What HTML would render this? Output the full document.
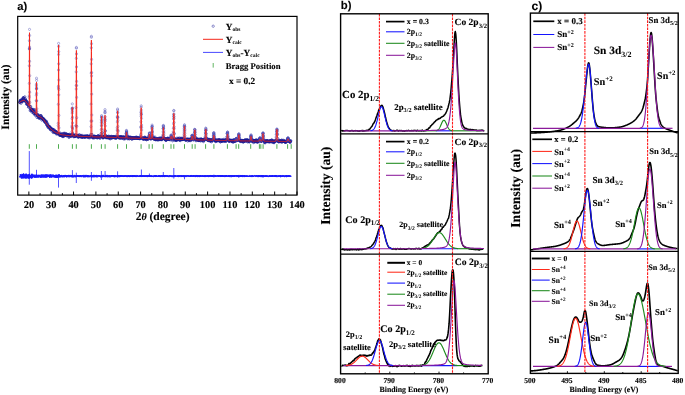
<!DOCTYPE html>
<html><head><meta charset="utf-8"><title>Figure</title>
<style>html,body{margin:0;padding:0;background:#fff}svg{display:block;will-change:transform;opacity:0.999}text{fill:#000;stroke:#000;stroke-width:0.12px;text-rendering:geometricPrecision}.s{stroke:none}</style></head>
<body>
<svg width="685" height="395" viewBox="0 0 685 395">
<g id="panelA">
<defs><marker id="mk" markerWidth="4" markerHeight="4" refX="2" refY="2" markerUnits="userSpaceOnUse"><circle cx="2" cy="2" r="1.1" fill="none" stroke="#1c1c96" stroke-width="0.6"/></marker><marker id="mk2" markerWidth="4" markerHeight="4" refX="2" refY="2" markerUnits="userSpaceOnUse"><circle cx="2" cy="2" r="1.1" fill="none" stroke="#4a4ab4" stroke-width="0.42"/></marker></defs>
<polyline points="19.6,102.3 19.8,102.6 20.0,101.6 20.2,100.5 20.4,101.0 20.6,100.1 20.8,101.5 21.0,103.3 21.2,100.4 21.4,100.1 21.6,101.7 21.8,101.4 22.0,101.0 22.2,99.3 22.4,100.6 22.6,101.6 22.8,98.5 23.0,99.8 23.2,97.6 23.4,98.4 23.6,97.6 23.8,100.0 24.0,98.4 24.2,100.7 24.4,100.6 24.6,100.2 24.8,96.8 25.0,100.0 25.2,100.9 25.4,101.4 25.6,99.1 25.8,100.9 26.0,100.4 26.2,100.9 26.4,104.0 26.6,101.4 26.8,102.8 27.0,104.4 27.2,102.5 27.4,103.5 27.6,104.1 27.8,104.3 28.0,102.7 28.2,104.9 28.4,107.1 28.6,103.1 28.8,106.9 29.0,106.0 30.0,106.4 30.2,110.7 30.4,109.2 30.6,106.5 30.8,108.7 31.0,109.7 31.2,108.8 31.4,110.4 31.6,109.5 31.8,110.9 32.0,112.2 32.2,109.3 32.4,110.8 32.6,110.0 32.8,111.1 33.0,109.3 33.2,110.4 33.4,111.2 33.6,113.0 33.8,113.6 34.0,110.1 34.2,111.1 34.4,113.5 34.6,109.7 34.8,112.3 35.0,113.0 35.2,115.3 35.4,114.7 35.6,113.4 35.8,113.5 36.0,113.8 37.0,117.5 37.2,114.8 37.4,115.2 37.6,116.3 37.8,115.7 38.0,115.7 38.2,114.5 38.4,116.2 38.6,115.7 38.8,118.2 39.0,117.5 39.2,116.6 39.4,117.7 39.6,116.3 39.8,118.5 40.0,117.0 40.2,117.6 40.4,115.9 40.6,117.6 40.8,115.7 41.0,115.5 41.2,117.3 41.4,116.8 41.6,118.0 41.8,120.1 42.0,117.3 42.2,117.7 42.4,118.6 42.6,119.1 42.8,118.6 43.0,118.8 43.2,119.8 43.4,119.9 43.6,118.6 43.8,119.8 44.0,120.2 44.2,119.4 44.4,121.0 44.6,120.2 44.8,122.2 45.0,121.8 45.2,122.0 45.4,121.6 45.6,122.4 45.8,120.8 46.0,121.9 46.2,123.6 46.4,121.5 46.6,124.6 46.8,122.5 47.0,125.1 47.2,123.9 47.4,125.7 47.6,125.3 47.8,124.0 48.0,126.9 48.2,127.4 48.4,126.2 48.6,126.2 48.8,126.6 49.0,126.1 49.2,128.3 49.4,126.9 49.6,127.6 49.8,127.1 50.0,127.5 50.2,127.1 50.4,129.7 50.6,128.5 50.8,129.8 51.0,129.1 51.2,128.6 51.4,129.1 51.6,129.0 51.8,129.7 52.0,129.5 52.2,129.8 52.4,128.9 52.6,129.6 52.8,132.1 53.0,130.0 53.2,129.8 53.4,131.3 53.6,132.5 53.8,129.9 54.0,131.2 54.2,130.9 54.4,130.0 54.6,132.5 54.8,131.9 55.0,132.1 55.2,131.4 55.4,132.7 55.6,131.8 55.8,132.3 56.0,131.5 56.2,131.5 56.4,134.1 56.6,132.4 56.8,133.3 57.0,133.1 57.2,132.8 57.4,132.8 57.6,134.0 57.8,133.2 58.0,133.3 59.2,133.9 59.4,135.3 59.6,134.9 59.8,134.7 60.0,133.8 60.2,133.1 60.4,135.4 60.6,135.4 60.8,134.4 61.0,135.1 61.2,135.4 61.4,135.4 61.6,135.6 61.8,134.3 62.0,136.2 62.2,133.6 62.4,135.7 62.6,135.3 62.8,135.7 63.0,136.7 63.2,136.4 63.4,133.9 63.6,133.4 63.8,135.8 64.0,134.1 64.2,135.1 64.4,135.9 64.6,133.6 64.8,133.2 65.0,135.4 65.2,135.3 65.4,135.0 65.6,135.3 65.8,134.5 66.0,133.9 66.2,135.2 66.4,134.4 66.6,133.8 66.8,135.9 67.0,135.3 67.2,135.8 67.4,134.5 67.6,134.8 67.8,134.5 68.0,134.6 68.2,135.7 68.4,134.8 68.6,135.9 68.8,135.9 69.0,137.5 69.2,134.3 69.4,136.4 69.6,135.5 69.8,135.6 70.0,134.3 70.2,135.4 70.4,136.1 70.6,135.6 70.8,135.8 71.0,135.5 71.2,136.5 71.4,135.7 71.6,134.4 71.8,134.5 72.8,133.8 73.0,133.8 73.2,135.6 73.4,136.7 73.6,135.9 73.8,135.2 74.0,135.4 74.2,136.7 74.4,136.1 74.6,136.0 74.8,136.0 75.0,136.0 75.2,136.5 75.4,136.4 75.6,136.2 75.8,134.7 77.0,135.8 77.2,135.7 77.4,136.8 77.6,135.4 77.8,136.1 78.0,136.2 78.2,135.4 78.4,137.3 78.6,137.1 78.8,135.9 79.0,136.7 79.2,136.5 79.4,134.6 79.6,136.4 79.8,136.2 80.0,136.3 80.2,135.6 80.4,136.1 80.6,136.2 80.8,137.1 81.0,136.5 81.2,136.3 81.4,137.3 81.6,136.0 81.8,136.1 82.0,135.3 82.2,137.4 82.4,137.0 82.6,137.0 82.8,136.8 83.0,136.5 83.2,136.6 83.4,136.3 83.6,136.3 83.8,136.5 84.0,137.4 84.2,136.8 84.4,136.5 84.6,136.1 84.8,136.1 85.0,137.5 85.2,136.8 85.4,136.6 85.6,136.3 85.8,135.9 86.0,136.5 86.2,137.1 86.4,136.3 86.6,136.4 86.8,136.5 87.0,136.7 87.2,135.6 87.4,136.5 87.6,136.1 87.8,137.2 88.0,136.2 88.2,137.0 88.4,137.6 88.6,136.5 88.8,136.3 89.0,136.8 89.2,136.7 89.4,136.1 89.6,137.0 89.8,137.9 90.0,136.5 90.2,136.6 90.4,136.1 90.6,136.9 90.8,134.3 92.0,134.4 92.2,137.5 92.4,136.2 92.6,137.5 92.8,137.7 93.0,137.0 93.2,137.2 93.4,138.0 93.6,136.7 93.8,136.5 94.0,136.0 94.2,136.9 94.4,137.8 94.6,137.4 94.8,136.3 95.0,136.3 95.2,136.6 95.4,137.1 95.6,136.8 95.8,137.0 96.0,137.1 96.2,136.7 96.4,136.9 96.6,137.0 96.8,136.9 97.0,137.2 97.2,138.1 97.4,137.3 97.6,137.0 97.8,135.9 98.0,137.2 98.2,135.7 98.4,136.1 98.6,137.5 98.8,137.4 99.0,136.9 99.2,135.9 99.4,136.8 99.6,136.6 99.8,137.4 100.0,138.4 100.2,137.1 100.4,136.5 100.6,136.3 100.8,137.0 101.0,136.4 102.2,135.8 102.4,137.1 102.6,136.4 102.8,137.8 103.0,137.7 103.2,137.8 103.4,136.8 103.6,137.4 103.8,137.0 104.0,136.9 104.2,136.9 104.4,135.5 105.6,135.5 105.8,137.6 106.0,137.1 106.2,137.3 106.4,137.8 106.6,136.1 106.8,136.7 107.0,137.3 107.2,137.5 107.4,137.0 107.6,137.9 107.8,137.4 108.0,136.5 108.2,136.7 108.4,137.7 108.6,137.5 108.8,136.1 109.0,138.1 109.2,137.6 109.4,138.1 109.6,137.0 109.8,137.1 110.0,136.6 110.2,138.9 110.4,137.2 110.6,138.3 110.8,136.9 111.0,137.4 111.2,136.3 111.4,137.1 111.6,138.0 111.8,136.6 112.0,138.0 112.2,137.6 112.4,136.7 112.6,137.1 112.8,137.1 113.0,137.4 113.2,137.1 113.4,136.9 113.6,137.2 113.8,136.8 114.0,136.6 114.2,137.4 114.4,138.0 114.6,136.5 114.8,137.5 115.0,137.1 115.2,136.9 115.4,138.0 115.6,137.2 115.8,138.4 116.0,137.0 116.2,137.8 116.4,137.4 116.6,137.1 116.8,137.8 117.0,136.2 118.2,136.7 118.4,137.5 118.6,136.9 118.8,137.5 119.0,137.6 119.2,138.2 119.4,137.1 119.6,137.6 119.8,136.6 120.0,138.1 120.2,137.0 120.4,136.5 120.6,137.6 120.8,138.4 121.0,136.7 121.2,137.0 121.4,137.2 121.6,137.0 121.8,138.0 122.0,137.2 122.2,137.3 122.4,138.1 122.6,137.3 122.8,138.0 123.0,137.2 123.2,137.0 123.4,136.6 123.6,138.9 123.8,137.6 124.0,138.0 124.2,137.8 124.4,137.9 124.6,137.9 124.8,139.0 125.0,137.2 125.2,136.9 125.4,137.2 125.6,137.0 125.8,138.2 126.0,137.4 127.0,136.4 127.2,136.9 127.4,137.7 127.6,138.8 127.8,136.2 128.0,138.3 128.2,137.3 128.4,138.6 128.6,137.3 128.8,137.8 129.0,137.1 129.2,137.4 129.4,138.9 129.6,138.5 129.8,137.8 130.0,137.5 130.2,136.9 130.4,137.8 130.6,138.0 130.8,138.0 131.0,138.0 131.2,137.4 131.4,138.0 131.6,138.1 131.8,138.9 132.0,139.3 132.2,138.0 132.4,137.6 132.6,138.1 132.8,137.8 133.0,137.7 133.2,138.1 133.4,137.5 133.6,138.5 133.8,138.1 134.0,138.3 134.2,138.1 134.4,137.7 134.6,137.6 134.8,138.1 135.0,137.9 135.2,138.4 135.4,138.2 135.6,137.4 135.8,138.3 136.0,137.4 136.2,137.9 136.4,138.1 136.6,137.0 136.8,138.3 137.0,138.4 137.2,138.2 137.4,138.0 137.6,138.1 137.8,137.7 138.0,138.2 138.2,138.0 138.4,138.4 138.6,137.6 138.8,138.5 139.0,138.4 139.2,138.3 139.4,138.1 139.6,138.7 139.8,137.3 140.0,138.7 140.2,138.5 140.4,138.2 142.0,138.3 142.2,138.0 142.4,138.3 142.6,138.9 142.8,138.7 143.0,138.6 143.2,137.6 143.4,138.8 143.6,139.2 143.8,139.1 144.0,138.7 144.2,137.6 144.4,139.1 144.6,138.4 144.8,137.0 145.0,138.8 145.2,137.6 145.4,137.8 145.6,138.2 145.8,139.4 146.0,138.4 146.2,138.8 146.4,139.7 146.6,139.6 146.8,138.5 147.0,138.5 147.2,137.8 147.4,138.2 147.6,138.9 147.8,138.9 148.0,138.7 148.2,139.3 148.4,138.2 148.6,138.5 148.8,138.6 149.0,137.2 149.8,137.5 150.0,138.4 150.2,138.4 150.4,138.9 150.6,138.1 150.8,137.7 151.0,139.1 151.2,138.6 151.4,138.3 152.8,137.1 153.0,138.5 153.2,138.4 153.4,138.3 153.6,137.4 153.8,138.6 154.0,139.4 154.2,139.0 154.4,138.4 154.6,138.8 154.8,139.3 155.0,137.1 155.2,138.8 155.4,139.2 155.6,139.3 155.8,139.9 156.0,139.6 156.2,139.1 156.4,139.1 156.6,139.4 156.8,138.5 157.0,138.9 157.2,139.4 157.4,140.1 157.6,138.8 157.8,138.9 158.0,139.0 158.2,139.7 158.4,138.9 158.6,139.8 158.8,138.3 159.0,138.8 159.2,138.8 159.4,139.4 159.6,139.6 159.8,138.0 160.0,138.4 160.2,139.2 160.4,138.6 160.6,138.0 160.8,139.6 161.0,139.3 161.2,139.3 161.4,138.7 161.6,139.6 161.8,138.8 162.0,139.7 162.2,138.4 162.4,138.4 162.6,138.8 162.8,136.8 164.0,137.7 164.2,138.8 164.4,138.4 164.6,139.1 164.8,138.8 165.0,139.6 165.2,138.7 165.4,138.8 165.6,139.8 165.8,140.5 166.0,140.3 166.2,139.1 166.4,139.2 166.6,140.0 166.8,139.0 167.0,138.5 167.2,139.2 167.4,139.4 167.6,138.6 167.8,138.1 168.0,138.2 168.2,139.5 168.4,138.7 168.6,139.1 168.8,139.3 169.0,139.5 169.2,138.9 169.4,139.5 169.6,138.6 169.8,138.9 170.0,138.5 170.2,139.9 170.4,139.0 170.6,138.2 170.8,137.4 171.6,137.5 171.8,139.1 172.0,138.1 172.2,138.6 172.4,139.0 172.6,140.8 172.8,139.7 173.0,138.2 174.6,138.7 174.8,140.4 175.0,139.1 175.2,139.1 175.4,140.0 175.6,139.6 175.8,139.7 176.0,139.0 176.2,140.5 176.4,140.4 176.6,139.7 176.8,139.7 177.0,138.1 177.2,139.7 177.4,139.2 177.6,139.6 177.8,139.8 178.0,139.1 178.2,138.3 178.4,139.6 178.6,138.9 178.8,139.2 179.0,139.0 179.2,139.2 179.4,138.0 179.6,140.1 179.8,139.6 180.0,140.1 180.2,140.6 180.4,139.4 180.6,138.3 180.8,138.9 181.0,138.7 181.2,139.1 181.4,139.5 181.6,138.2 181.8,139.7 182.0,138.5 182.2,139.6 182.4,139.4 182.6,139.3 182.8,139.4 183.0,139.1 183.2,139.1 183.4,138.4 183.6,139.2 183.8,139.3 185.2,139.4 185.4,140.1 185.6,139.9 185.8,139.1 186.0,140.4 186.2,139.5 186.4,139.5 186.6,139.4 186.8,139.6 187.0,139.3 187.2,139.5 187.4,138.9 187.6,139.4 187.8,141.0 188.0,139.6 188.2,139.5 188.4,139.9 188.6,140.1 188.8,138.9 189.0,139.5 189.2,140.2 189.4,139.8 189.6,139.7 189.8,140.6 190.0,139.2 190.2,139.7 190.4,139.3 190.6,140.6 190.8,138.5 191.0,139.3 191.2,139.3 191.4,139.9 191.6,139.3 191.8,138.5 192.6,136.7 192.8,139.4 193.0,139.3 193.2,139.3 193.4,140.1 193.6,139.2 193.8,138.3 194.0,138.9 194.2,136.7 195.4,137.2 195.6,139.4 195.8,139.9 196.0,140.8 196.2,139.7 196.4,138.9 196.6,139.4 196.8,139.3 197.0,139.1 197.2,140.1 197.4,139.5 197.6,138.6 197.8,140.3 198.0,139.8 198.2,140.1 198.4,139.9 198.6,140.3 198.8,139.9 199.0,140.7 199.2,140.2 199.4,140.2 199.6,140.2 199.8,139.0 200.0,139.8 200.2,139.8 200.4,140.1 200.6,139.1 200.8,141.0 201.0,140.0 201.2,139.2 201.4,138.9 201.6,139.8 201.8,139.9 202.0,139.5 202.2,140.0 202.4,139.6 202.6,140.3 202.8,139.6 203.0,140.0 203.2,140.6 203.4,141.6 203.6,139.4 203.8,139.7 204.0,139.5 204.2,140.5 204.4,139.3 204.6,139.7 204.8,139.8 205.0,138.6 206.6,138.7 206.8,139.6 207.0,138.8 207.2,139.2 207.4,139.9 207.6,140.2 207.8,140.0 208.0,139.0 208.2,139.9 208.4,140.6 208.6,140.5 208.8,140.1 209.0,139.6 209.2,140.6 209.4,139.8 209.6,139.4 209.8,139.7 210.0,141.1 210.2,140.3 210.4,140.9 210.6,139.9 210.8,140.8 211.0,139.8 211.2,140.1 211.4,141.8 211.6,140.7 211.8,139.9 212.0,140.2 212.2,140.4 212.4,141.0 212.6,139.9 212.8,139.0 213.0,139.5 213.2,138.5 214.4,138.5 214.6,140.5 214.8,140.3 215.0,140.8 215.2,139.6 215.4,140.8 215.6,141.6 215.8,140.8 216.0,140.5 216.2,140.4 216.4,141.4 216.6,139.8 216.8,140.3 217.0,140.6 217.2,140.8 217.4,140.1 217.6,140.5 217.8,140.2 218.0,140.4 218.2,140.3 218.4,139.7 218.6,140.4 218.8,140.9 219.0,139.8 219.2,140.2 219.4,140.8 219.6,139.7 219.8,140.5 220.0,139.8 220.2,141.1 220.4,141.9 220.6,141.7 220.8,140.3 221.0,140.9 221.2,140.5 221.4,140.5 221.6,141.4 221.8,139.6 222.0,141.1 222.2,140.4 222.4,141.3 222.6,140.6 222.8,140.1 223.0,140.7 223.2,140.9 223.4,140.5 223.6,140.8 223.8,140.2 224.0,139.2 224.2,141.1 224.4,140.9 224.6,140.6 224.8,140.6 225.0,141.2 225.2,140.2 225.4,140.1 225.6,140.4 225.8,141.3 226.0,139.7 226.2,141.3 226.4,140.0 226.6,139.4 226.8,139.8 228.2,139.0 228.4,139.3 228.6,140.3 228.8,141.2 229.0,141.3 229.2,140.3 229.4,140.9 229.6,141.1 229.8,140.2 230.0,140.9 230.2,140.6 230.4,140.3 230.6,140.3 230.8,140.7 231.0,140.7 231.2,140.3 231.4,140.4 231.6,141.4 231.8,140.8 232.0,141.2 232.2,141.4 232.4,141.0 232.6,142.1 232.8,140.2 233.0,141.2 233.2,140.5 233.4,141.9 233.6,141.8 233.8,139.5 234.0,140.1 234.2,141.1 234.4,141.2 234.6,141.2 234.8,140.7 235.0,141.0 235.2,141.1 235.4,140.6 235.6,141.2 235.8,138.8 236.0,140.1 236.2,138.6 236.4,139.6 236.6,139.1 236.8,139.2 237.0,140.5 237.2,140.0 237.4,140.1 237.6,139.7 237.8,140.5 238.0,140.2 238.2,139.2 239.4,138.5 239.6,140.6 239.8,140.6 240.0,140.7 240.2,141.2 240.4,141.5 240.6,140.6 240.8,140.7 241.0,140.7 241.2,140.9 241.4,140.3 241.6,141.5 241.8,140.6 242.0,141.2 242.2,140.4 242.4,141.1 242.6,141.1 242.8,140.6 243.0,142.1 243.2,141.1 243.4,142.0 243.6,141.5 243.8,140.5 244.0,140.7 244.2,141.2 244.4,140.9 244.6,140.9 244.8,140.7 245.0,139.8 245.2,140.8 245.4,139.6 245.6,141.2 245.8,140.5 246.0,140.5 246.2,140.8 246.4,141.1 246.6,140.1 246.8,139.9 247.0,140.3 247.2,139.7 247.4,140.4 247.6,141.9 247.8,140.3 248.0,141.4 248.2,140.1 248.4,141.2 248.6,140.8 248.8,140.9 249.0,141.3 249.2,142.1 249.4,141.1 249.6,141.1 249.8,140.3 250.0,141.1 250.2,140.1 250.4,139.7 251.6,139.2 251.8,141.4 252.0,139.6 252.2,140.8 252.4,141.6 252.6,140.8 252.8,140.6 253.0,140.9 253.2,140.2 253.4,141.1 253.6,142.6 253.8,141.8 254.0,140.4 254.2,140.5 254.4,140.8 254.6,141.7 254.8,140.6 255.0,140.6 255.2,141.6 255.4,141.6 255.6,140.9 255.8,140.4 256.0,140.1 256.2,140.7 256.4,139.7 256.6,141.6 256.8,140.7 257.0,141.4 257.2,142.3 257.4,141.8 257.6,140.4 257.8,141.7 258.0,141.8 258.2,140.7 258.4,140.5 258.6,141.0 258.8,140.1 259.0,141.9 259.2,139.2 259.4,139.5 259.6,139.3 259.8,138.7 260.2,138.9 260.4,139.7 260.6,140.1 260.8,141.5 261.0,139.7 261.2,141.1 261.4,140.7 261.6,141.2 261.8,141.2 262.0,140.1 262.2,139.5 263.8,140.4 264.0,141.0 264.2,140.7 264.4,142.4 264.6,142.6 264.8,140.3 265.0,141.4 265.2,142.8 265.4,141.7 265.6,141.4 265.8,141.1 266.0,140.9 266.2,141.1 266.4,140.9 266.6,141.7 266.8,141.0 267.0,141.0 267.2,140.5 267.4,141.2 267.6,140.7 267.8,141.1 268.0,141.9 268.2,141.5 268.4,141.6 268.6,141.5 268.8,141.3 269.0,141.2 269.2,141.1 269.4,141.7 269.6,140.6 269.8,142.1 270.0,141.3 270.2,140.8 270.4,141.0 270.6,140.9 270.8,141.4 271.0,140.8 271.2,142.0 271.4,140.8 271.6,139.9 271.8,140.8 272.0,140.1 272.2,141.3 272.4,142.0 272.6,141.7 272.8,140.5 273.0,140.8 273.2,142.4 273.4,141.5 273.6,141.3 273.8,142.0 274.0,142.8 274.2,142.1 274.4,141.4 274.6,141.6 274.8,141.7 275.0,141.0 275.2,140.7 275.4,141.3 275.6,140.6 275.8,140.8 276.0,139.9 277.8,141.4 278.0,140.3 278.2,141.2 278.4,141.2 278.6,141.6 278.8,142.0 279.0,141.1 279.2,140.9 279.4,140.4 279.6,140.8 279.8,141.7 280.0,141.4 280.2,140.8 280.4,141.2 280.6,141.4 280.8,141.7 281.0,141.0 281.2,141.2 281.4,140.3 281.6,140.7 281.8,142.4 282.0,140.1 282.2,141.2 282.4,141.6 282.6,141.2 282.8,140.9 283.0,141.4 283.2,141.4 283.4,141.4 283.6,140.3 283.8,141.3 284.0,140.9 284.2,141.1 284.4,141.6 284.6,141.8 284.8,142.0 285.0,141.1 285.2,142.0 285.4,142.2 285.6,142.2 285.8,142.3 286.0,141.4 286.2,141.3 286.4,142.0 286.6,140.6 286.8,141.5 287.0,140.9 287.2,140.6 287.4,139.1 287.6,138.7 288.4,139.3 288.6,140.7 288.8,141.4 289.0,141.2 289.2,141.3 289.4,140.9 289.6,141.7 289.8,141.3 290.0,141.9 290.2,142.6 290.4,141.5 290.6,140.6 290.8,141.0" fill="none" stroke="none" marker-start="url(#mk)" marker-mid="url(#mk)" marker-end="url(#mk)"/>
<polyline points="29.2,97.4 29.2,96.0 29.3,83.4 29.3,65.8 29.4,48.5 29.4,49.1 29.4,40.7 29.5,29.4 29.6,35.5 29.6,47.1 29.6,48.8 29.6,61.3 29.7,75.7 29.7,92.2 29.8,102.3 36.2,112.5 36.2,111.4 36.3,100.6 36.3,95.2 36.4,88.9 36.4,85.8 36.4,84.2 36.5,78.2 36.6,80.4 36.6,88.7 36.6,88.0 36.6,93.4 36.7,100.9 36.8,108.8 36.8,111.5 58.2,125.7 58.2,123.2 58.3,104.3 58.4,88.0 58.4,86.2 58.5,70.0 58.5,54.5 58.6,43.4 58.6,46.4 58.7,51.6 58.7,63.8 58.8,80.0 58.8,89.5 58.8,94.9 58.9,115.4 59.0,127.9 71.9,131.7 72.0,127.2 72.0,126.0 72.1,118.6 72.2,113.1 72.2,108.4 72.2,109.7 72.3,103.9 72.4,107.8 72.4,108.5 72.4,111.4 72.5,117.2 72.5,122.9 72.6,128.0 72.6,129.2 76.0,125.9 76.0,125.7 76.1,107.6 76.2,89.0 76.2,85.4 76.2,71.9 76.3,58.4 76.4,48.2 76.4,47.4 76.5,53.9 76.5,66.9 76.6,81.4 76.6,85.6 76.6,97.4 76.7,117.7 76.8,126.4 91.0,126.7 91.0,121.1 91.1,104.1 91.2,83.0 91.2,73.1 91.2,63.9 91.3,47.8 91.4,36.3 91.4,37.3 91.5,43.7 91.6,59.4 91.6,72.5 91.6,75.9 91.7,94.1 91.8,115.0 91.8,121.0 101.1,133.7 101.2,133.5 101.3,129.7 101.4,125.9 101.4,122.8 101.4,119.8 101.5,117.6 101.6,115.6 101.6,116.5 101.7,117.5 101.8,120.6 101.8,121.8 101.8,124.9 101.9,128.9 102.0,132.4 102.0,132.7 104.5,133.2 104.6,132.1 104.7,130.1 104.7,123.3 104.8,119.8 104.8,118.1 104.9,112.9 105.0,111.2 105.0,109.6 105.1,112.5 105.2,116.7 105.2,119.6 105.2,121.2 105.3,125.9 105.4,130.9 105.4,130.8 117.1,134.5 117.2,130.1 117.2,127.8 117.3,122.0 117.4,117.7 117.4,116.4 117.5,112.4 117.6,109.0 117.6,110.1 117.7,112.6 117.8,117.5 117.8,117.1 117.8,120.4 117.9,126.3 118.0,130.5 118.0,131.4 126.0,138.2 126.1,135.4 126.2,133.8 126.2,133.4 126.3,133.1 126.4,132.0 126.4,130.7 126.5,130.4 126.6,131.9 126.6,131.9 126.7,132.2 126.8,134.1 126.8,134.9 126.8,133.8 126.9,136.2 140.6,136.0 140.6,134.5 140.8,126.7 140.8,127.6 140.9,121.8 141.0,116.2 141.0,112.8 141.1,111.9 141.2,105.8 141.2,107.1 141.3,110.0 141.4,114.4 141.4,114.3 141.5,118.4 141.6,125.1 141.6,127.4 141.7,130.0 141.8,137.5 148.8,138.5 149.0,138.1 149.1,135.3 149.2,135.8 149.2,135.7 149.3,135.1 149.4,133.5 149.4,132.8 149.5,133.8 149.6,133.3 149.6,133.6 149.7,135.6 149.8,135.9 149.9,137.5 151.5,137.2 151.6,137.2 151.7,135.3 151.8,131.8 151.8,132.1 151.9,128.9 152.0,127.1 152.0,127.1 152.1,125.0 152.2,126.4 152.2,126.1 152.3,128.8 152.4,131.9 152.4,130.9 152.5,133.3 152.6,135.4 152.6,135.4 162.8,136.7 163.0,135.4 163.0,134.9 163.1,131.9 163.2,128.5 163.2,128.5 163.3,126.6 163.4,125.7 163.4,125.4 163.5,126.5 163.6,128.4 163.6,128.0 163.7,130.4 163.8,132.0 163.8,133.2 163.9,135.2 170.6,138.7 170.7,137.4 170.9,137.3 171.0,136.8 171.0,135.3 171.0,135.4 171.2,134.9 171.2,136.0 171.3,136.9 171.4,136.7 171.4,136.1 171.5,137.9 171.6,136.7 171.7,139.3 173.2,135.8 173.2,133.3 173.3,131.8 173.4,128.2 173.5,123.7 173.6,119.1 173.6,116.5 173.6,114.6 173.8,110.4 173.8,110.9 173.9,114.0 174.0,116.7 174.0,118.4 174.1,122.4 174.2,128.7 174.2,126.8 174.3,133.4 174.4,133.9 183.8,137.1 184.0,136.0 184.0,134.2 184.1,132.1 184.2,130.1 184.2,128.3 184.3,126.5 184.4,125.4 184.5,124.7 184.6,126.2 184.6,126.6 184.7,128.0 184.8,129.6 184.8,130.9 184.9,133.2 185.0,135.8 185.1,138.0 191.5,139.8 191.7,138.3 191.8,137.3 191.9,136.1 192.0,135.6 192.0,135.4 192.2,135.3 192.2,135.2 192.3,136.3 192.4,136.0 192.4,136.3 192.5,136.4 192.6,138.9 192.8,139.1 194.1,139.7 194.3,136.7 194.4,135.3 194.4,133.8 194.5,132.2 194.6,132.3 194.6,129.3 194.8,129.5 194.8,129.9 194.9,130.0 195.0,131.1 195.0,132.1 195.1,132.7 195.2,134.7 195.2,134.5 195.4,137.0 205.1,138.4 205.2,137.4 205.3,136.4 205.4,134.3 205.4,132.9 205.5,132.8 205.6,130.9 205.6,130.2 205.8,128.2 205.8,128.3 205.9,129.7 206.0,130.5 206.0,130.0 206.1,133.5 206.2,135.9 206.3,133.9 206.4,138.1 206.4,137.8 213.1,139.4 213.3,138.7 213.4,135.5 213.4,136.4 213.5,135.8 213.6,133.8 213.6,133.4 213.8,132.9 213.8,132.5 213.9,134.4 214.0,133.3 214.1,135.1 214.2,135.0 214.2,136.7 214.3,137.0 214.4,137.0 226.7,139.6 226.9,137.0 227.0,136.7 227.1,136.9 227.2,133.5 227.2,133.5 227.3,133.7 227.4,132.2 227.5,132.8 227.6,132.3 227.7,132.0 227.8,133.8 227.8,135.0 227.9,135.9 228.0,136.8 228.0,137.0 228.2,138.6 235.6,140.2 235.8,141.4 236.0,139.8 236.1,138.8 236.2,138.9 236.4,139.5 236.6,139.6 236.7,139.3 236.8,139.3 236.9,140.0 237.1,139.3 238.0,139.1 238.2,138.9 238.4,136.5 238.4,136.7 238.5,136.2 238.6,134.7 238.6,134.3 238.8,134.8 238.8,133.8 239.0,133.8 239.0,134.8 239.1,135.4 239.2,135.8 239.2,136.5 239.3,137.5 239.5,138.0 250.2,140.3 250.4,139.0 250.6,137.8 250.6,136.6 250.7,136.8 250.8,136.1 250.8,136.2 251.0,134.8 251.0,135.9 251.2,135.2 251.2,136.0 251.3,137.6 251.4,137.2 251.4,137.4 251.5,139.3 251.7,139.6 259.1,140.7 259.4,140.4 259.5,140.4 259.7,137.8 259.8,138.3 260.0,137.9 260.0,137.8 260.2,138.2 260.3,138.6 260.4,139.7 260.5,139.5 260.7,140.7 262.1,140.5 262.4,138.0 262.4,138.3 262.5,137.7 262.6,136.1 262.7,134.7 262.8,133.7 262.8,133.1 263.0,133.0 263.0,133.3 263.2,133.0 263.2,133.6 263.3,135.4 263.4,135.6 263.4,136.2 263.5,136.9 263.6,137.7 263.7,139.1 276.0,141.3 276.2,137.7 276.3,136.9 276.4,134.5 276.4,134.4 276.6,132.5 276.6,131.4 276.7,131.4 276.8,129.1 276.9,129.5 277.0,129.1 277.1,130.1 277.2,130.4 277.2,131.4 277.3,133.6 277.4,134.7 277.5,134.5 277.6,138.5 277.7,138.4 287.1,140.8 287.3,140.2 287.5,139.6 287.6,139.3 287.8,137.8 287.8,137.9 288.0,138.4 288.0,138.3 288.2,138.2 288.2,138.2 288.3,138.4 288.4,139.5 288.6,140.8 288.8,140.1" fill="none" stroke="none" marker-start="url(#mk2)" marker-mid="url(#mk2)" marker-end="url(#mk2)"/>
<path d="M19.6,102.34L19.85,102.14L20.1,101.93L20.35,101.73L20.6,101.54L20.85,101.36L21.1,101.2L21.35,101.07L21.6,100.96L21.85,100.86L22.1,100.76L22.35,100.67L22.6,100.58L22.85,100.51L23.1,100.44L23.35,100.38L23.6,100.34L23.85,100.31L24.1,100.3L24.35,100.34L24.6,100.46L24.85,100.63L25.1,100.86L25.35,101.13L25.6,101.42L25.85,101.72L26.1,102.03L26.35,102.33L26.6,102.61L26.85,102.91L27.1,103.23L27.35,103.57L27.6,103.92L27.85,104.28L28.1,104.64L28.35,105.01L28.6,105.37L28.85,105.73L28.96,105.86L28.99,105.86L29.03,105.82L29.06,105.65L29.09,105.25L29.1,105.14L29.13,104.44L29.16,102.92L29.2,100.34L29.23,96.26L29.26,90.32L29.3,82.36L29.33,72.55L29.35,66.4L29.36,61.6L29.4,50.68L29.43,41.29L29.47,34.93L29.5,32.7L29.53,35.03L29.57,41.49L29.6,50.51L29.6,50.99L29.64,62.01L29.67,73.06L29.7,82.96L29.74,91.03L29.77,97.06L29.8,101.24L29.84,103.92L29.85,104.57L29.87,105.54L29.91,106.45L29.94,106.95L29.97,107.22L30.01,107.36L30.04,107.45L30.1,107.56L30.35,107.94L30.6,108.3L30.85,108.65L31.1,108.99L31.35,109.32L31.6,109.62L31.85,109.91L32.1,110.18L32.35,110.45L32.6,110.7L32.85,110.96L33.1,111.2L33.35,111.45L33.6,111.7L33.85,111.95L34.1,112.2L34.35,112.47L34.6,112.74L34.85,113.01L35.1,113.29L35.35,113.56L35.6,113.84L35.85,114.11L35.92,114.18L35.96,114.2L36,114.2L36.03,114.14L36.07,113.99L36.1,113.7L36.1,113.64L36.14,112.99L36.18,111.87L36.21,110.09L36.25,107.49L36.28,103.99L36.32,99.69L36.35,95.72L36.36,94.88L36.39,90.08L36.43,85.96L36.46,83.17L36.5,82.2L36.54,83.24L36.57,86.1L36.6,89.3L36.61,90.3L36.64,95.17L36.68,100.05L36.72,104.42L36.75,107.99L36.79,110.66L36.82,112.51L36.85,113.45L36.86,113.71L36.9,114.43L36.93,114.84L36.97,115.07L37,115.2L37.04,115.28L37.08,115.32L37.1,115.35L37.35,115.57L37.6,115.76L37.85,115.93L38.1,116.09L38.35,116.23L38.6,116.36L38.85,116.48L39.1,116.6L39.35,116.7L39.6,116.81L39.85,116.91L40.1,117.02L40.35,117.13L40.6,117.24L40.85,117.37L41.1,117.5L41.35,117.64L41.6,117.8L41.85,117.97L42.1,118.16L42.35,118.37L42.6,118.59L42.85,118.83L43.1,119.08L43.35,119.34L43.6,119.61L43.85,119.93L44.1,120.27L44.35,120.64L44.6,121.02L44.85,121.4L45.1,121.78L45.35,122.13L45.6,122.47L45.85,122.81L46.1,123.15L46.35,123.5L46.6,123.84L46.85,124.19L47.1,124.53L47.35,124.87L47.6,125.21L47.85,125.54L48.1,125.87L48.35,126.19L48.6,126.51L48.85,126.81L49.1,127.11L49.35,127.4L49.6,127.68L49.85,127.95L50.1,128.21L50.35,128.45L50.6,128.69L50.85,128.91L51.1,129.14L51.35,129.36L51.6,129.57L51.85,129.78L52.1,129.99L52.35,130.19L52.6,130.38L52.85,130.57L53.1,130.76L53.35,130.94L53.6,131.12L53.85,131.29L54.1,131.46L54.35,131.62L54.6,131.78L54.85,131.93L55.1,132.08L55.35,132.22L55.6,132.35L55.85,132.49L56.1,132.63L56.35,132.76L56.6,132.89L56.85,133.02L57.1,133.15L57.35,133.28L57.6,133.4L57.85,133.52L57.92,133.52L57.96,133.5L58,133.4L58.05,133.16L58.09,132.65L58.1,132.44L58.13,131.63L58.17,129.77L58.22,126.63L58.26,121.7L58.3,114.53L58.34,104.93L58.35,103.53L58.39,93.13L58.43,79.95L58.47,66.81L58.51,55.49L58.56,47.81L58.6,45.1L58.64,47.85L58.69,55.56L58.73,66.91L58.77,80.09L58.81,93.31L58.85,103.73L58.86,105.15L58.9,114.78L58.94,121.98L58.98,126.95L59.03,130.13L59.07,132.02L59.1,132.86L59.11,133.07L59.15,133.62L59.2,133.9L59.24,134.03L59.28,134.09L59.35,134.14L59.6,134.23L59.85,134.31L60.1,134.38L60.35,134.44L60.6,134.5L60.85,134.55L61.1,134.6L61.35,134.65L61.6,134.69L61.85,134.74L62.1,134.78L62.35,134.82L62.6,134.86L62.85,134.9L63.1,134.94L63.35,134.98L63.6,135.01L63.85,135.05L64.1,135.08L64.35,135.11L64.6,135.14L64.85,135.17L65.1,135.2L65.35,135.23L65.6,135.25L65.85,135.28L66.1,135.3L66.35,135.33L66.6,135.35L66.85,135.38L67.1,135.4L67.35,135.42L67.6,135.45L67.85,135.47L68.1,135.49L68.35,135.51L68.6,135.53L68.85,135.56L69.1,135.58L69.35,135.6L69.6,135.62L69.85,135.64L70.1,135.66L70.35,135.68L70.6,135.7L70.85,135.72L71.1,135.74L71.35,135.76L71.55,135.76L71.6,135.75L71.6,135.75L71.65,135.72L71.69,135.64L71.74,135.47L71.79,135.14L71.83,134.55L71.85,134.24L71.88,133.54L71.93,131.96L71.97,129.68L72.02,126.61L72.07,122.84L72.1,119.85L72.11,118.63L72.16,114.43L72.21,110.82L72.25,108.37L72.3,107.5L72.35,108.37L72.35,108.5L72.39,110.83L72.44,114.45L72.49,118.66L72.53,122.87L72.58,126.65L72.6,128.05L72.63,129.72L72.67,132.02L72.72,133.6L72.77,134.61L72.81,135.22L72.85,135.49L72.86,135.55L72.91,135.72L72.95,135.81L73,135.85L73.05,135.87L73.1,135.88L73.35,135.9L73.6,135.92L73.85,135.93L74.1,135.95L74.35,135.96L74.6,135.98L74.85,136L75.1,136.01L75.35,136.03L75.6,136.03L75.63,136.02L75.68,135.97L75.73,135.86L75.78,135.62L75.82,135.11L75.85,134.66L75.87,134.11L75.92,132.3L75.97,129.25L76.02,124.47L76.06,117.54L76.1,110.9L76.11,108.25L76.16,96.84L76.21,84.11L76.26,71.4L76.3,60.46L76.35,53.26L76.35,53.03L76.4,50.4L76.45,53.04L76.5,60.47L76.54,71.42L76.59,84.13L76.6,86.38L76.64,96.87L76.69,108.29L76.74,117.58L76.78,124.52L76.83,129.3L76.85,130.67L76.88,132.35L76.93,134.17L76.98,135.17L77.02,135.69L77.07,135.94L77.1,136.02L77.12,136.06L77.17,136.11L77.35,136.15L77.6,136.16L77.85,136.17L78.1,136.19L78.35,136.2L78.6,136.22L78.85,136.23L79.1,136.24L79.35,136.25L79.6,136.27L79.85,136.28L80.1,136.29L80.35,136.31L80.6,136.32L80.85,136.33L81.1,136.34L81.35,136.35L81.6,136.37L81.85,136.38L82.1,136.39L82.35,136.4L82.6,136.41L82.85,136.42L83.1,136.43L83.35,136.45L83.6,136.46L83.85,136.47L84.1,136.48L84.35,136.49L84.6,136.5L84.85,136.51L85.1,136.52L85.35,136.53L85.6,136.54L85.85,136.55L86.1,136.56L86.35,136.57L86.6,136.58L86.85,136.59L87.1,136.6L87.35,136.61L87.6,136.62L87.85,136.63L88.1,136.64L88.35,136.65L88.6,136.66L88.85,136.67L89.1,136.67L89.35,136.68L89.6,136.69L89.85,136.7L90.1,136.71L90.35,136.72L90.56,136.69L90.6,136.66L90.61,136.64L90.67,136.52L90.72,136.24L90.77,135.66L90.82,134.53L90.85,133.64L90.88,132.49L90.93,129.05L90.98,123.66L91.03,115.84L91.09,105.36L91.1,102.01L91.14,92.49L91.19,78.12L91.24,63.79L91.3,51.45L91.35,43.07L91.35,42.81L91.4,40.1L91.45,43.08L91.5,51.46L91.56,63.8L91.6,75.43L91.61,78.14L91.66,92.51L91.71,105.38L91.77,115.86L91.82,123.69L91.85,127.1L91.87,129.08L91.92,132.52L91.98,134.57L92.03,135.7L92.08,136.28L92.1,136.41L92.13,136.56L92.19,136.69L92.24,136.75L92.35,136.78L92.6,136.79L92.85,136.8L93.1,136.81L93.35,136.81L93.6,136.82L93.85,136.83L94.1,136.84L94.35,136.84L94.6,136.85L94.85,136.86L95.1,136.87L95.35,136.87L95.6,136.88L95.85,136.89L96.1,136.9L96.35,136.9L96.6,136.91L96.85,136.92L97.1,136.92L97.35,136.93L97.6,136.94L97.85,136.95L98.1,136.95L98.35,136.96L98.6,136.97L98.85,136.97L99.1,136.98L99.35,136.99L99.6,136.99L99.85,137L100.1,137.01L100.35,137.02L100.6,137.02L100.71,137.02L100.77,137.01L100.82,136.98L100.85,136.96L100.88,136.93L100.93,136.8L100.99,136.56L101.05,136.13L101.1,135.41L101.1,135.4L101.16,134.26L101.21,132.6L101.27,130.37L101.32,127.63L101.35,126.15L101.38,124.58L101.43,121.53L101.49,118.91L101.54,117.13L101.6,116.5L101.66,117.13L101.71,118.92L101.77,121.54L101.82,124.59L101.85,126.16L101.88,127.65L101.93,130.39L101.99,132.62L102.04,134.28L102.1,135.43L102.1,135.44L102.15,136.16L102.21,136.6L102.27,136.84L102.32,136.97L102.35,137L102.38,137.03L102.43,137.06L102.49,137.07L102.6,137.08L102.85,137.09L103.1,137.09L103.35,137.1L103.6,137.11L103.85,137.11L104.1,137.11L104.1,137.11L104.15,137.1L104.21,137.08L104.27,137.01L104.32,136.88L104.35,136.78L104.38,136.63L104.44,136.17L104.49,135.39L104.55,134.18L104.6,132.57L104.6,132.41L104.66,130.04L104.72,127.14L104.77,123.89L104.83,120.65L104.85,119.61L104.89,117.86L104.94,115.97L105,115.3L105.06,115.97L105.1,117.34L105.11,117.87L105.17,120.66L105.23,123.9L105.28,127.15L105.34,130.06L105.35,130.57L105.4,132.43L105.45,134.2L105.51,135.42L105.56,136.2L105.6,136.52L105.62,136.67L105.68,136.92L105.73,137.06L105.79,137.12L105.85,137.15L105.85,137.15L105.9,137.17L106.1,137.18L106.35,137.19L106.6,137.19L106.85,137.2L107.1,137.21L107.35,137.22L107.6,137.22L107.85,137.23L108.1,137.24L108.35,137.25L108.6,137.25L108.85,137.26L109.1,137.27L109.35,137.28L109.6,137.29L109.85,137.3L110.1,137.3L110.35,137.31L110.6,137.32L110.85,137.33L111.1,137.34L111.35,137.35L111.6,137.35L111.85,137.36L112.1,137.37L112.35,137.38L112.6,137.39L112.85,137.4L113.1,137.4L113.35,137.41L113.6,137.42L113.85,137.43L114.1,137.44L114.35,137.45L114.6,137.46L114.85,137.47L115.1,137.47L115.35,137.48L115.6,137.49L115.85,137.5L116.1,137.51L116.35,137.52L116.6,137.52L116.64,137.52L116.7,137.51L116.76,137.48L116.82,137.4L116.85,137.33L116.88,137.24L116.94,136.93L117,136.37L117.06,135.42L117.1,134.43L117.12,133.92L117.18,131.76L117.24,128.86L117.3,125.3L117.35,121.92L117.36,121.32L117.42,117.36L117.48,113.94L117.54,111.62L117.6,110.8L117.66,111.63L117.72,113.95L117.78,117.37L117.84,121.34L117.85,121.94L117.9,125.32L117.96,128.89L118.02,131.79L118.08,133.96L118.1,134.47L118.14,135.46L118.2,136.41L118.26,136.98L118.32,137.29L118.35,137.38L118.38,137.46L118.44,137.54L118.5,137.57L118.56,137.59L118.6,137.6L118.85,137.61L119.1,137.62L119.35,137.63L119.6,137.64L119.85,137.65L120.1,137.66L120.35,137.67L120.6,137.67L120.85,137.68L121.1,137.69L121.35,137.7L121.6,137.71L121.85,137.72L122.1,137.73L122.35,137.74L122.6,137.75L122.85,137.76L123.1,137.77L123.35,137.78L123.6,137.79L123.85,137.8L124.1,137.81L124.35,137.81L124.6,137.82L124.85,137.83L125.1,137.84L125.35,137.85L125.49,137.86L125.56,137.85L125.6,137.85L125.62,137.85L125.68,137.84L125.74,137.8L125.81,137.74L125.85,137.67L125.87,137.63L125.93,137.43L126,137.12L126.06,136.67L126.1,136.3L126.12,136.06L126.19,135.32L126.25,134.49L126.31,133.66L126.35,133.2L126.37,132.95L126.44,132.47L126.5,132.3L126.56,132.47L126.6,132.73L126.63,132.96L126.69,133.68L126.75,134.51L126.81,135.35L126.85,135.78L126.88,136.09L126.94,136.7L127,137.16L127.07,137.47L127.1,137.59L127.13,137.67L127.19,137.79L127.26,137.86L127.32,137.9L127.35,137.91L127.38,137.92L127.44,137.93L127.51,137.93L127.6,137.94L127.85,137.95L128.1,137.96L128.35,137.96L128.6,137.97L128.85,137.98L129.1,137.99L129.35,138L129.6,138.01L129.85,138.02L130.1,138.03L130.35,138.04L130.6,138.05L130.85,138.06L131.1,138.07L131.35,138.08L131.6,138.09L131.85,138.1L132.1,138.1L132.35,138.11L132.6,138.12L132.85,138.13L133.1,138.14L133.35,138.15L133.6,138.16L133.85,138.17L134.1,138.18L134.35,138.19L134.6,138.2L134.85,138.21L135.1,138.21L135.35,138.22L135.6,138.23L135.85,138.24L136.1,138.25L136.35,138.26L136.6,138.27L136.85,138.28L137.1,138.29L137.35,138.29L137.6,138.3L137.85,138.31L138.1,138.32L138.35,138.33L138.6,138.34L138.85,138.35L139.1,138.36L139.35,138.36L139.6,138.37L139.85,138.38L140.1,138.38L140.12,138.38L140.19,138.37L140.26,138.33L140.32,138.24L140.35,138.19L140.39,138.06L140.46,137.7L140.53,137.06L140.59,135.96L140.6,135.83L140.66,134.25L140.73,131.77L140.8,128.44L140.85,125.2L140.86,124.35L140.93,119.78L141,115.23L141.07,111.31L141.1,109.74L141.13,108.64L141.2,107.7L141.27,108.65L141.33,111.32L141.35,112.12L141.4,115.24L141.47,119.8L141.54,124.37L141.6,128.23L141.6,128.47L141.67,131.8L141.74,134.29L141.81,136L141.85,136.78L141.87,137.1L141.94,137.75L142.01,138.11L142.08,138.3L142.1,138.34L142.14,138.39L142.21,138.43L142.28,138.45L142.35,138.46L142.6,138.47L142.85,138.48L143.1,138.49L143.35,138.5L143.6,138.51L143.85,138.52L144.1,138.52L144.35,138.53L144.6,138.54L144.85,138.55L145.1,138.55L145.35,138.56L145.6,138.57L145.85,138.58L146.1,138.59L146.35,138.59L146.6,138.6L146.85,138.61L147.1,138.62L147.35,138.62L147.6,138.63L147.85,138.64L148.1,138.65L148.28,138.65L148.35,138.65L148.35,138.65L148.42,138.65L148.49,138.63L148.56,138.61L148.6,138.59L148.63,138.56L148.7,138.47L148.77,138.31L148.84,138.06L148.85,138.02L148.91,137.7L148.98,137.22L149.05,136.62L149.1,136.16L149.12,135.96L149.19,135.29L149.26,134.72L149.33,134.34L149.35,134.27L149.4,134.2L149.47,134.34L149.54,134.73L149.6,135.22L149.61,135.31L149.68,135.97L149.75,136.64L149.82,137.24L149.85,137.47L149.89,137.73L149.96,138.09L150.03,138.34L150.1,138.51L150.1,138.51L150.17,138.6L150.24,138.66L150.31,138.69L150.35,138.7L150.38,138.7L150.45,138.71L150.52,138.71L150.6,138.72L150.85,138.72L150.97,138.72L151.04,138.72L151.1,138.71L151.11,138.71L151.18,138.67L151.25,138.61L151.32,138.47L151.35,138.4L151.39,138.23L151.46,137.83L151.53,137.19L151.6,136.35L151.61,136.27L151.68,135.03L151.75,133.5L151.82,131.8L151.85,131.01L151.89,130.1L151.96,128.64L152.03,127.65L152.1,127.3L152.17,127.65L152.24,128.65L152.31,130.11L152.35,131.02L152.38,131.82L152.45,133.52L152.52,135.05L152.59,136.29L152.6,136.38L152.67,137.22L152.74,137.86L152.81,138.27L152.85,138.44L152.88,138.52L152.95,138.65L153.02,138.72L153.09,138.76L153.1,138.76L153.16,138.77L153.23,138.78L153.35,138.79L153.6,138.8L153.85,138.8L154.1,138.81L154.35,138.81L154.6,138.82L154.85,138.83L155.1,138.83L155.35,138.84L155.6,138.85L155.85,138.85L156.1,138.86L156.35,138.86L156.6,138.87L156.85,138.88L157.1,138.88L157.35,138.89L157.6,138.89L157.85,138.9L158.1,138.91L158.35,138.91L158.6,138.92L158.85,138.92L159.1,138.93L159.35,138.94L159.6,138.94L159.85,138.95L160.1,138.95L160.35,138.96L160.6,138.96L160.85,138.97L161.1,138.98L161.35,138.98L161.6,138.99L161.85,138.99L162.1,139L162.22,139L162.29,138.99L162.35,138.98L162.36,138.98L162.44,138.95L162.51,138.88L162.59,138.75L162.6,138.71L162.66,138.51L162.73,138.11L162.81,137.48L162.85,137L162.88,136.57L162.96,135.34L163.03,133.83L163.1,132.24L163.1,132.15L163.18,130.47L163.25,129.03L163.33,128.05L163.35,127.86L163.4,127.7L163.47,128.05L163.55,129.03L163.6,130.02L163.62,130.48L163.7,132.16L163.77,133.85L163.84,135.36L163.85,135.47L163.92,136.59L163.99,137.51L164.07,138.14L164.1,138.35L164.14,138.55L164.21,138.79L164.29,138.92L164.35,138.98L164.36,138.99L164.44,139.03L164.51,139.04L164.58,139.05L164.6,139.05L164.85,139.06L165.1,139.06L165.35,139.07L165.6,139.08L165.85,139.08L166.1,139.09L166.35,139.09L166.6,139.1L166.85,139.1L167.1,139.11L167.35,139.11L167.6,139.12L167.85,139.12L168.1,139.13L168.35,139.14L168.6,139.14L168.85,139.15L169.1,139.15L169.35,139.16L169.6,139.16L169.85,139.17L169.98,139.17L170.05,139.17L170.1,139.17L170.13,139.17L170.21,139.16L170.28,139.14L170.35,139.11L170.36,139.11L170.44,139.04L170.51,138.94L170.59,138.77L170.6,138.73L170.67,138.52L170.74,138.18L170.82,137.77L170.85,137.58L170.89,137.31L170.97,136.85L171.05,136.46L171.1,136.26L171.12,136.19L171.2,136.1L171.28,136.2L171.35,136.46L171.35,136.47L171.43,136.86L171.51,137.33L171.58,137.79L171.6,137.89L171.66,138.2L171.73,138.54L171.81,138.79L171.85,138.89L171.89,138.97L171.96,139.08L172.04,139.15L172.1,139.18L172.12,139.18L172.19,139.2L172.27,139.21L172.35,139.22L172.35,139.22L172.42,139.22L172.57,139.22L172.6,139.22L172.64,139.21L172.72,139.17L172.8,139.1L172.85,139.01L172.87,138.95L172.95,138.65L173.03,138.1L173.1,137.27L173.11,137.18L173.18,135.74L173.26,133.65L173.34,130.85L173.35,130.32L173.41,127.41L173.49,123.57L173.57,119.73L173.6,118.29L173.65,116.43L173.72,114.19L173.8,113.4L173.85,113.74L173.88,114.2L173.95,116.44L174.03,119.74L174.1,123.15L174.11,123.58L174.19,127.43L174.26,130.87L174.34,133.68L174.35,133.99L174.42,135.77L174.49,137.21L174.57,138.14L174.6,138.38L174.65,138.69L174.73,138.99L174.8,139.15L174.85,139.2L174.88,139.22L174.96,139.26L175.03,139.27L175.1,139.28L175.35,139.29L175.6,139.3L175.85,139.3L176.1,139.31L176.35,139.31L176.6,139.32L176.85,139.33L177.1,139.33L177.35,139.34L177.6,139.34L177.85,139.35L178.1,139.35L178.35,139.36L178.6,139.37L178.85,139.37L179.1,139.38L179.35,139.38L179.6,139.39L179.85,139.4L180.1,139.4L180.35,139.41L180.6,139.41L180.85,139.42L181.1,139.43L181.35,139.43L181.6,139.44L181.85,139.45L182.1,139.45L182.35,139.46L182.6,139.46L182.85,139.47L183.1,139.48L183.21,139.48L183.29,139.47L183.35,139.46L183.38,139.45L183.46,139.42L183.54,139.34L183.6,139.22L183.62,139.18L183.7,138.9L183.78,138.42L183.85,137.75L183.86,137.67L183.94,136.58L184.02,135.11L184.1,133.32L184.1,133.27L184.18,131.31L184.26,129.31L184.34,127.58L184.35,127.39L184.42,126.41L184.5,126L184.58,126.42L184.6,126.64L184.66,127.59L184.74,129.32L184.82,131.33L184.85,132.05L184.9,133.34L184.98,135.14L185.06,136.61L185.1,137.16L185.14,137.7L185.22,138.46L185.3,138.94L185.35,139.13L185.38,139.23L185.46,139.39L185.54,139.47L185.6,139.5L185.62,139.51L185.71,139.53L185.79,139.54L185.85,139.55L186.1,139.55L186.35,139.56L186.6,139.57L186.85,139.57L187.1,139.58L187.35,139.59L187.6,139.59L187.85,139.6L188.1,139.61L188.35,139.61L188.6,139.62L188.85,139.63L189.1,139.63L189.35,139.64L189.6,139.65L189.85,139.65L190.1,139.66L190.35,139.67L190.6,139.67L190.85,139.68L190.88,139.68L190.96,139.68L191.04,139.68L191.1,139.67L191.13,139.67L191.21,139.65L191.29,139.61L191.35,139.56L191.37,139.53L191.46,139.4L191.54,139.2L191.6,138.98L191.62,138.9L191.7,138.5L191.79,138L191.85,137.58L191.87,137.45L191.95,136.9L192.03,136.43L192.1,136.16L192.12,136.11L192.2,136L192.28,136.12L192.35,136.37L192.37,136.44L192.45,136.92L192.53,137.47L192.6,137.94L192.61,138.03L192.7,138.52L192.78,138.93L192.85,139.2L192.86,139.23L192.94,139.44L193.03,139.57L193.1,139.65L193.11,139.66L193.19,139.7L193.27,139.73L193.35,139.74L193.36,139.74L193.44,139.74L193.46,139.74L193.52,139.74L193.55,139.74L193.6,139.74L193.63,139.73L193.72,139.71L193.8,139.65L193.85,139.59L193.88,139.53L193.97,139.32L194.05,138.97L194.1,138.66L194.13,138.42L194.22,137.61L194.3,136.53L194.35,135.75L194.38,135.2L194.47,133.72L194.55,132.24L194.6,131.44L194.63,130.97L194.72,130.1L194.8,129.8L194.85,129.91L194.88,130.11L194.97,130.98L195.05,132.25L195.1,133.13L195.13,133.74L195.22,135.23L195.3,136.56L195.35,137.23L195.38,137.64L195.47,138.45L195.55,139.01L195.6,139.24L195.63,139.37L195.72,139.58L195.8,139.7L195.85,139.74L195.88,139.76L195.97,139.8L196.05,139.81L196.1,139.82L196.14,139.82L196.35,139.83L196.6,139.83L196.85,139.84L197.1,139.85L197.35,139.85L197.6,139.86L197.85,139.87L198.1,139.87L198.35,139.88L198.6,139.89L198.85,139.89L199.1,139.9L199.35,139.91L199.6,139.91L199.85,139.92L200.1,139.93L200.35,139.93L200.6,139.94L200.85,139.95L201.1,139.95L201.35,139.96L201.6,139.97L201.85,139.97L202.1,139.98L202.35,139.99L202.6,139.99L202.85,140L203.1,140.01L203.35,140.01L203.6,140.02L203.85,140.03L204.1,140.03L204.35,140.04L204.41,140.04L204.5,140.03L204.59,140.02L204.6,140.02L204.67,139.99L204.76,139.93L204.85,139.81L204.85,139.8L204.93,139.59L205.02,139.21L205.1,138.66L205.11,138.61L205.19,137.75L205.28,136.6L205.35,135.46L205.37,135.18L205.45,133.59L205.54,132.01L205.6,131.03L205.63,130.65L205.71,129.73L205.8,129.4L205.85,129.51L205.89,129.73L205.97,130.66L206.06,132.02L206.1,132.74L206.15,133.61L206.23,135.2L206.32,136.62L206.35,137.05L206.41,137.78L206.49,138.65L206.58,139.25L206.6,139.35L206.67,139.63L206.75,139.86L206.84,139.99L206.85,139.99L206.93,140.05L207.01,140.08L207.1,140.1L207.1,140.1L207.19,140.11L207.35,140.12L207.6,140.12L207.85,140.13L208.1,140.14L208.35,140.14L208.6,140.15L208.85,140.15L209.1,140.16L209.35,140.17L209.6,140.17L209.85,140.18L210.1,140.18L210.35,140.19L210.6,140.2L210.85,140.2L211.1,140.21L211.35,140.22L211.6,140.22L211.85,140.23L212.1,140.23L212.35,140.24L212.37,140.24L212.46,140.24L212.55,140.23L212.6,140.23L212.64,140.22L212.73,140.19L212.82,140.14L212.85,140.11L212.91,140.03L213,139.86L213.09,139.58L213.1,139.53L213.18,139.18L213.27,138.65L213.35,138.02L213.35,137.99L213.44,137.25L213.53,136.51L213.6,136.02L213.62,135.88L213.71,135.45L213.8,135.3L213.85,135.35L213.89,135.46L213.98,135.89L214.07,136.53L214.1,136.79L214.16,137.26L214.25,138.01L214.33,138.67L214.35,138.77L214.42,139.21L214.51,139.62L214.6,139.89L214.6,139.9L214.69,140.07L214.78,140.18L214.85,140.23L214.87,140.24L214.96,140.27L215.05,140.29L215.1,140.3L215.14,140.3L215.23,140.3L215.35,140.31L215.6,140.31L215.85,140.32L216.1,140.32L216.35,140.33L216.6,140.34L216.85,140.34L217.1,140.35L217.35,140.35L217.6,140.36L217.85,140.36L218.1,140.37L218.35,140.38L218.6,140.38L218.85,140.39L219.1,140.39L219.35,140.4L219.6,140.4L219.85,140.41L220.1,140.41L220.35,140.42L220.6,140.43L220.85,140.43L221.1,140.44L221.35,140.44L221.6,140.45L221.85,140.45L222.1,140.46L222.35,140.46L222.6,140.47L222.85,140.48L223.1,140.48L223.35,140.49L223.6,140.49L223.85,140.5L224.1,140.5L224.35,140.51L224.6,140.51L224.85,140.52L225.1,140.53L225.35,140.53L225.6,140.54L225.85,140.54L226.01,140.54L226.1,140.54L226.1,140.54L226.19,140.53L226.29,140.52L226.35,140.49L226.38,140.48L226.47,140.4L226.57,140.26L226.6,140.19L226.66,140.03L226.75,139.66L226.85,139.12L226.85,139.1L226.94,138.4L227.03,137.51L227.1,136.81L227.13,136.52L227.22,135.53L227.31,134.68L227.35,134.42L227.41,134.1L227.5,133.9L227.59,134.11L227.6,134.14L227.69,134.69L227.78,135.54L227.85,136.29L227.87,136.54L227.97,137.53L228.06,138.42L228.1,138.76L228.15,139.15L228.25,139.69L228.34,140.06L228.35,140.1L228.43,140.3L228.53,140.45L228.6,140.51L228.62,140.53L228.71,140.57L228.81,140.59L228.85,140.6L228.9,140.6L228.99,140.61L229.1,140.61L229.35,140.62L229.6,140.62L229.85,140.63L230.1,140.63L230.35,140.64L230.6,140.64L230.85,140.65L231.1,140.65L231.35,140.66L231.6,140.66L231.85,140.67L232.1,140.67L232.35,140.68L232.6,140.68L232.85,140.69L233.1,140.69L233.35,140.7L233.6,140.71L233.85,140.71L234.1,140.72L234.35,140.72L234.6,140.73L234.85,140.73L234.87,140.73L234.96,140.73L235.06,140.73L235.1,140.73L235.15,140.73L235.25,140.73L235.34,140.71L235.35,140.71L235.44,140.69L235.54,140.65L235.6,140.61L235.63,140.59L235.73,140.5L235.82,140.37L235.85,140.33L235.92,140.22L236.02,140.05L236.1,139.9L236.11,139.88L236.21,139.73L236.3,139.63L236.35,139.61L236.4,139.6L236.5,139.64L236.59,139.74L236.6,139.75L236.69,139.89L236.78,140.06L236.85,140.19L236.88,140.24L236.98,140.4L237.07,140.52L237.1,140.55L237.17,140.62L237.25,140.68L237.26,140.68L237.35,140.72L237.35,140.72L237.36,140.72L237.45,140.74L237.46,140.74L237.54,140.74L237.55,140.74L237.6,140.73L237.64,140.71L237.65,140.71L237.74,140.65L237.74,140.64L237.83,140.52L237.84,140.51L237.85,140.49L237.93,140.3L237.93,140.29L238.03,139.97L238.1,139.61L238.12,139.47L238.22,138.81L238.32,138L238.35,137.7L238.41,137.1L238.51,136.19L238.6,135.46L238.61,135.41L238.7,134.89L238.8,134.7L238.85,134.75L238.9,134.89L238.99,135.42L239.09,136.2L239.1,136.29L239.19,137.11L239.28,138.02L239.35,138.6L239.38,138.84L239.48,139.5L239.57,140L239.6,140.11L239.67,140.34L239.77,140.56L239.85,140.67L239.86,140.69L239.96,140.76L240.06,140.8L240.1,140.81L240.15,140.82L240.25,140.83L240.35,140.83L240.35,140.83L240.6,140.84L240.85,140.85L241.1,140.85L241.35,140.86L241.6,140.86L241.85,140.86L242.1,140.87L242.35,140.87L242.6,140.88L242.85,140.88L243.1,140.89L243.35,140.89L243.6,140.9L243.85,140.9L244.1,140.9L244.35,140.91L244.6,140.91L244.85,140.92L245.1,140.92L245.35,140.93L245.6,140.93L245.85,140.93L246.1,140.94L246.35,140.94L246.6,140.95L246.85,140.95L247.1,140.95L247.35,140.96L247.6,140.96L247.85,140.97L248.1,140.97L248.35,140.97L248.6,140.98L248.85,140.98L249.1,140.99L249.35,140.99L249.4,140.99L249.5,140.99L249.6,140.98L249.6,140.98L249.7,140.97L249.8,140.94L249.85,140.92L249.9,140.89L250,140.79L250.1,140.63L250.1,140.62L250.2,140.36L250.3,139.98L250.35,139.74L250.4,139.48L250.5,138.85L250.6,138.15L250.6,138.14L250.7,137.45L250.8,136.85L250.85,136.62L250.9,136.44L251,136.3L251.1,136.45L251.1,136.45L251.2,136.86L251.3,137.46L251.35,137.8L251.4,138.16L251.5,138.86L251.6,139.48L251.6,139.49L251.7,140.01L251.8,140.39L251.85,140.53L251.9,140.65L252,140.82L252.1,140.92L252.1,140.92L252.2,140.98L252.3,141.01L252.35,141.02L252.4,141.03L252.5,141.03L252.6,141.04L252.6,141.04L252.85,141.04L253.1,141.05L253.35,141.05L253.6,141.05L253.85,141.06L254.1,141.06L254.35,141.06L254.6,141.07L254.85,141.07L255.1,141.08L255.35,141.08L255.6,141.08L255.85,141.09L256.1,141.09L256.35,141.09L256.6,141.1L256.85,141.1L257.1,141.1L257.35,141.11L257.6,141.11L257.85,141.11L258.1,141.12L258.35,141.12L258.35,141.12L258.45,141.12L258.56,141.12L258.6,141.12L258.66,141.12L258.76,141.1L258.85,141.09L258.87,141.08L258.97,141.04L259.07,140.96L259.1,140.94L259.18,140.84L259.28,140.67L259.35,140.52L259.38,140.44L259.49,140.16L259.59,139.84L259.6,139.8L259.69,139.52L259.79,139.25L259.85,139.14L259.9,139.06L260,139L260.1,139.06L260.1,139.07L260.21,139.25L260.31,139.53L260.35,139.65L260.41,139.85L260.51,140.17L260.6,140.41L260.62,140.46L260.72,140.69L260.82,140.87L260.85,140.9L260.93,140.99L261.03,141.07L261.1,141.1L261.13,141.11L261.24,141.14L261.34,141.15L261.34,141.15L261.35,141.15L261.44,141.15L261.44,141.15L261.55,141.15L261.55,141.15L261.6,141.14L261.65,141.13L261.65,141.13L261.75,141.08L261.85,141.01L261.86,141L261.96,140.84L262.06,140.57L262.1,140.45L262.17,140.15L262.27,139.54L262.35,138.94L262.38,138.72L262.48,137.71L262.58,136.58L262.6,136.41L262.69,135.46L262.79,134.49L262.85,134.08L262.9,133.83L263,133.6L263.1,133.82L263.1,133.83L263.21,134.49L263.31,135.46L263.35,135.87L263.42,136.59L263.52,137.72L263.6,138.52L263.62,138.73L263.73,139.56L263.83,140.17L263.85,140.26L263.94,140.6L264.04,140.87L264.1,140.97L264.14,141.03L264.25,141.12L264.35,141.17L264.35,141.17L264.45,141.19L264.56,141.2L264.6,141.2L264.66,141.21L264.85,141.21L265.1,141.21L265.35,141.22L265.6,141.22L265.85,141.22L266.1,141.23L266.35,141.23L266.6,141.23L266.85,141.24L267.1,141.24L267.35,141.24L267.6,141.25L267.85,141.25L268.1,141.25L268.35,141.26L268.6,141.26L268.85,141.26L269.1,141.27L269.35,141.27L269.6,141.27L269.85,141.28L270.1,141.28L270.35,141.28L270.6,141.28L270.85,141.29L271.1,141.29L271.35,141.29L271.6,141.3L271.85,141.3L272.1,141.3L272.35,141.31L272.6,141.31L272.85,141.31L273.1,141.31L273.35,141.32L273.6,141.32L273.85,141.32L274.1,141.33L274.35,141.33L274.6,141.33L274.85,141.34L275.1,141.34L275.17,141.34L275.28,141.33L275.35,141.32L275.39,141.32L275.5,141.28L275.6,141.21L275.6,141.21L275.71,141.07L275.82,140.82L275.85,140.72L275.93,140.4L276.04,139.73L276.1,139.19L276.14,138.76L276.25,137.47L276.35,136.03L276.36,135.88L276.47,134.1L276.58,132.33L276.6,131.96L276.68,130.8L276.79,129.77L276.85,129.48L276.9,129.4L277.01,129.77L277.1,130.62L277.12,130.81L277.22,132.34L277.33,134.11L277.35,134.41L277.44,135.89L277.55,137.48L277.6,138.14L277.66,138.78L277.76,139.75L277.85,140.3L277.87,140.42L277.98,140.84L278.09,141.1L278.1,141.12L278.2,141.24L278.3,141.31L278.35,141.33L278.41,141.35L278.52,141.37L278.6,141.37L278.63,141.37L278.85,141.38L279.1,141.38L279.35,141.39L279.6,141.39L279.85,141.39L280.1,141.39L280.35,141.4L280.6,141.4L280.85,141.4L281.1,141.4L281.35,141.41L281.6,141.41L281.85,141.41L282.1,141.41L282.35,141.42L282.6,141.42L282.85,141.42L283.1,141.42L283.35,141.43L283.6,141.43L283.85,141.43L284.1,141.43L284.35,141.44L284.6,141.44L284.85,141.44L285.1,141.44L285.35,141.44L285.6,141.45L285.85,141.45L286.1,141.45L286.22,141.45L286.33,141.45L286.35,141.45L286.44,141.45L286.55,141.44L286.6,141.44L286.66,141.43L286.77,141.4L286.85,141.36L286.89,141.34L287,141.25L287.1,141.11L287.11,141.1L287.22,140.88L287.33,140.6L287.35,140.54L287.44,140.24L287.55,139.85L287.6,139.68L287.67,139.45L287.78,139.11L287.85,138.95L287.89,138.88L288,138.8L288.1,138.87L288.11,138.88L288.22,139.12L288.33,139.46L288.35,139.51L288.45,139.85L288.56,140.25L288.6,140.4L288.67,140.61L288.78,140.9L288.85,141.04L288.89,141.11L289,141.26L289.1,141.35L289.11,141.36L289.23,141.42L289.34,141.45L289.35,141.45L289.45,141.47L289.56,141.48L289.6,141.48L289.67,141.48L289.78,141.48L289.85,141.48L290.1,141.49L290.35,141.49L290.6,141.49L290.85,141.49" fill="none" stroke="#f4261a" stroke-width="0.95" stroke-linejoin="round"/>
<path d="M29.3,144.2V148.8M36.5,144.2V148.8M58.5,144.2V148.8M72.4,144.2V148.8M76.3,144.2V148.8M91.4,144.2V148.8M101.4,144.2V148.8M105.1,144.2V148.8M117.6,144.2V148.8M126.5,144.2V148.8M141.1,144.2V148.8M149.1,144.2V148.8M152.3,144.2V148.8M163.3,144.2V148.8M171.0,144.2V148.8M173.8,144.2V148.8M184.5,144.2V148.8M192.2,144.2V148.8M195.1,144.2V148.8M205.6,144.2V148.8M213.9,144.2V148.8M227.4,144.2V148.8M236.1,144.2V148.8M238.7,144.2V148.8M250.7,144.2V148.8M259.4,144.2V148.8M260.8,144.2V148.8M263.1,144.2V148.8M276.9,144.2V148.8M287.6,144.2V148.8M291.2,144.2V148.8" stroke="#3aa33a" stroke-width="0.9" fill="none"/>
<path d="M19.6,176.1L19.7,176L19.8,177.5L19.8,175.9L19.9,176.1L20,176L20.1,175.9L20.2,175.6L20.2,174.4L20.3,175.1L20.4,174.9L20.5,174.8L20.6,177.5L20.6,174.2L20.7,174.6L20.8,176.2L20.9,175.2L21,174.8L21,175.5L21.1,176.1L21.2,177L21.3,178.5L21.4,177.9L21.4,175.7L21.5,175.9L21.6,175.7L21.7,174.8L21.8,178.4L21.8,173.9L21.9,174.6L22,176.9L22.1,176.5L22.2,175L22.2,178.3L22.3,175.6L22.4,176.6L22.5,174.1L22.6,178.1L22.6,174.1L22.7,175.6L22.8,178L22.9,178.3L23,178.1L23,177.7L23.1,174.8L23.2,173.8L23.3,175.9L23.4,173.9L23.4,178.4L23.5,173.6L23.6,175.2L23.7,174.6L23.8,173.7L23.8,176.1L23.9,174L24,178.1L24.1,177L24.2,175.5L24.2,177.8L24.3,177.6L24.4,175.2L24.5,177.8L24.6,178.2L24.6,176.7L24.7,175.4L24.8,178.1L24.9,178.3L25,175.3L25,174L25.1,177.9L25.2,176.9L25.3,174.8L25.4,176.4L25.4,175.1L25.5,178.2L25.6,175.3L25.7,174.6L25.8,173.8L25.8,175.3L25.9,178.5L26,174.7L26.1,175.9L26.2,178.5L26.2,173.6L26.3,175.1L26.4,177.7L26.5,174.1L26.6,178.2L26.6,177.8L26.7,174.3L26.8,176.6L26.9,176.4L27,177.1L27,175.1L27.1,175.5L27.2,174.8L27.3,175.1L27.4,174.5L27.4,178.1L27.5,178L27.6,175.4L27.7,177.1L27.8,176.1L27.8,175L27.9,175.3L28,178.4L28.1,175.3L28.2,176.5L28.2,178.3L28.3,175.1L28.4,177.6L28.5,174.2L28.6,177.3L28.6,177.6L28.7,177.8L28.8,178.5L28.9,177.2L29,178.5L29,175L29.1,176.2L29.2,174.7L29.3,174L29.4,175.8L29.4,177.2L29.5,177.5L29.6,173.7L29.7,178.3L29.8,174.8L29.8,175.1L29.9,177.8L30,178.1L30.1,177.3L30.2,175.3L30.2,175.9L30.3,177.8L30.4,175.4L30.5,177.6L30.6,177.5L30.6,175.9L30.7,178.1L30.8,175.5L30.9,177.3L31,176.8L31,175.3L31.1,176.3L31.2,176.6L31.3,176.3L31.4,174.2L31.4,178.6L31.5,178.4L31.6,173.8L31.7,178.3L31.8,176.3L31.8,174.2L31.9,177.7L32,175.8L32.1,177.2L32.2,177.7L32.2,176.3L32.3,173.8L32.4,177.7L32.5,177.1L32.6,178.2L32.6,175L32.7,177.5L32.8,178L32.9,175.4L33,175.7L33,175.5L33.1,174.4L33.2,175.2L33.3,175.5L33.4,174.8L33.4,177L33.5,175.9L33.6,176.3L33.7,175.4L33.8,175.6L33.8,177L33.9,176L34,176.4L34.1,175.8L34.2,176.3L34.2,177.5L34.3,175.3L34.4,176.2L34.5,176.7L34.6,174.7L34.6,177.7L34.7,176.1L34.8,175.2L34.9,177L35,177.2L35,176.5L35.1,177.5L35.2,174.7L35.3,176.2L35.4,176.9L35.4,177.5L35.5,176.6L35.6,176.4L35.7,175.7L35.8,176.3L35.8,176.3L35.9,177.5L36,177.2L36.1,176.9L36.2,177.5L36.2,174.6L36.3,177L36.4,176L36.5,177L36.6,175.4L36.6,176L36.7,177.2L36.8,174.5L36.9,175.4L37,176.1L37,177.3L37.1,175.3L37.2,177.2L37.3,175.2L37.4,175.4L37.4,176.3L37.5,176.6L37.6,177.4L37.7,177.4L37.8,175.3L37.8,176.9L37.9,176.6L38,175.7L38.1,177L38.2,177.5L38.2,176L38.3,177.5L38.4,174.8L38.5,175L38.6,177L38.6,175.4L38.7,176.4L38.8,176.1L38.9,174.9L39,177L39,176.9L39.1,174.9L39.2,175.3L39.3,177.1L39.4,177.5L39.4,177.4L39.5,176.1L39.6,175.6L39.7,175.9L39.8,175L39.8,176.1L39.9,175.2L40,175L40.1,175.7L40.2,174.6L40.2,176L40.3,176.8L40.4,176.6L40.5,177.7L40.6,177.4L40.6,176.6L40.7,177.5L40.8,175.9L40.9,177.1L41,175.4L41,176.2L41.1,177.7L41.2,176.4L41.3,176.1L41.4,177.1L41.4,175.5L41.5,177.2L41.6,174.5L41.7,175.2L41.8,175L41.8,175.3L41.9,177.6L42,174.5L42.1,175.4L42.2,176.4L42.2,176.8L42.3,177L42.4,175.7L42.5,175.1L42.6,177.3L42.6,174.8L42.7,174.6L42.8,175.2L42.9,176.1L43,177.6L43,176.9L43.1,176.3L43.2,176.2L43.3,176.8L43.4,176.5L43.4,175.5L43.5,174.7L43.6,175.1L43.7,177.1L43.8,176.6L43.8,177.1L43.9,174.6L44,177.5L44.1,175.7L44.2,177.5L44.2,176.4L44.3,176.3L44.4,177.2L44.5,176.5L44.6,176.7L44.6,174.9L44.7,176.5L44.8,175.6L44.9,174.7L45,174.9L45,176L45.1,175.3L45.2,177L45.3,174.8L45.4,174.4L45.4,177.8L45.5,175.5L45.6,176.1L45.7,175.1L45.8,175.1L45.8,175.8L45.9,177.1L46,174.5L46.1,177.2L46.2,177.8L46.2,176.3L46.3,175.6L46.4,175.2L46.5,175L46.6,175.5L46.6,177.3L46.7,174.4L46.8,177.1L46.9,176.7L47,174.5L47,174.6L47.1,176.9L47.2,176.7L47.3,175.5L47.4,177.3L47.4,175.1L47.5,175.9L47.6,174.8L47.7,176.6L47.8,174.7L47.8,175L47.9,177L48,176.1L48.1,176.7L48.2,176.9L48.2,176.5L48.3,175.1L48.4,176.8L48.5,174.8L48.6,175.3L48.6,175.9L48.7,174.8L48.8,174.8L48.9,176.6L49,176.9L49,175.7L49.1,175.7L49.2,175.1L49.3,176.2L49.4,176.4L49.4,177.6L49.5,174.5L49.6,177.5L49.7,177.8L49.8,175.6L49.8,176.9L49.9,177.2L50,176.6L50.1,175.4L50.2,176.5L50.2,177.4L50.3,174.8L50.4,176L50.5,174.5L50.6,177.3L50.6,177L50.7,174.6L50.8,176.9L50.9,176.8L51,174.8L51,176.2L51.1,176.7L51.2,175.5L51.3,176.1L51.4,177.7L51.4,176.6L51.5,176.1L51.6,174.6L51.7,174.8L51.8,177.3L51.8,176.9L51.9,177.2L52,176.4L52.1,176.4L52.2,176.2L52.2,176.9L52.3,175.5L52.4,176.1L52.5,176L52.6,176.6L52.6,175.1L52.7,174.5L52.8,174.7L52.9,175L53,177.3L53,176.8L53.1,176.9L53.2,175.9L53.3,174.7L53.4,176L53.4,177.3L53.5,176.1L53.6,176.5L53.7,175.7L53.8,174.9L53.8,176.5L53.9,176L54,175.6L54.1,175.3L54.2,176.8L54.2,175.5L54.3,176.4L54.4,175.3L54.5,177L54.6,175.7L54.6,176L54.7,177.6L54.8,176.8L54.9,176.9L55,175.6L55,177.3L55.1,175.7L55.2,177.8L55.3,177.4L55.4,176.6L55.4,177.2L55.5,176.2L55.6,176.9L55.7,174.8L55.8,177.8L55.8,177.1L55.9,174.9L56,175.2L56.1,176.4L56.2,177L56.2,174.9L56.3,177.7L56.4,175.6L56.5,177.8L56.6,177L56.6,176.1L56.7,175.6L56.8,174.7L56.9,174.7L57,176.5L57,177L57.1,177.5L57.2,175.6L57.3,177.6L57.4,175.4L57.4,177.6L57.5,177.5L57.6,174.9L57.7,177.3L57.8,176.8L57.8,176.8L57.9,177.3L58,176.2L58.1,176.1L58.2,175.6L58.2,177.3L58.3,177.5L58.4,174.9L58.5,177L58.6,175.3L58.6,175L58.7,175.1L58.8,176.3L58.9,175.4L59,175.2L59,174.7L59.1,175.5L59.2,177L59.3,174.5L59.4,176L59.4,176.4L59.5,174.6L59.6,175.4L59.7,177.5L59.8,177.8L59.8,177.3L59.9,175L60,177L60.1,176L60.2,175.3L60.2,176.1L60.3,177.1L60.4,177L60.5,175.8L60.6,175.1L60.6,177.1L60.7,177.3L60.8,176.1L60.9,175.4L61,176.2L61,176.6L61.1,176.1L61.2,175.7L61.3,175.5L61.4,175.6L61.4,175L61.5,175.5L61.6,177.2L61.7,174.9L61.8,176.6L61.8,176.8L61.9,175.9L62,176.3L62.1,175.4L62.2,176.5L62.2,176.6L62.3,176.7L62.4,176.1L62.5,177.2L62.6,177L62.6,176.3L62.7,176.5L62.8,175.6L62.9,177.2L63,176.4L63,177L63.1,175.6L63.2,177.3L63.3,175.2L63.4,176.2L63.4,175.2L63.5,175.4L63.6,176.7L63.7,175.1L63.8,175.8L63.8,175.4L63.9,176.9L64,175.1L64.1,175.7L64.2,177L64.2,176.5L64.3,176.6L64.4,177.3L64.5,175L64.6,176.5L64.6,176.7L64.7,176.7L64.8,176.6L64.9,175.1L65,175.1L65,176.8L65.1,176.4L65.2,175.5L65.3,174.9L65.4,176.2L65.4,175.1L65.5,176.7L65.6,175.7L65.7,176.8L65.8,175.1L65.8,176.1L65.9,175.1L66,176.8L66.1,176.2L66.2,175.5L66.2,177.2L66.3,176.5L66.4,175.7L66.5,177L66.6,175.8L66.6,177.2L66.7,175.6L66.8,177.3L66.9,175L67,176.7L67,175.6L67.1,175.9L67.2,176.4L67.3,175L67.4,175.4L67.4,175.1L67.5,176.7L67.6,175.4L67.7,176.1L67.8,175.7L67.8,175.5L67.9,177.1L68,176.1L68.1,176.5L68.2,176.6L68.2,176.9L68.3,175.5L68.4,175.1L68.5,176L68.6,175.3L68.6,174.9L68.7,177.1L68.8,176.4L68.9,175.9L69,175.2L69,176.7L69.1,176.2L69.2,175.3L69.3,177.3L69.4,177.2L69.4,177.1L69.5,176.9L69.6,176.2L69.7,175.6L69.8,176.5L69.8,175.3L69.9,176.4L70,175.1L70.1,174.9L70.2,176.6L70.2,175.7L70.3,176.6L70.4,176.8L70.5,176.9L70.6,176.4L70.6,176.9L70.7,176.5L70.8,177.1L70.9,177.1L71,175L71,175.5L71.1,175.8L71.2,175.5L71.3,175.3L71.4,177L71.4,175L71.5,175.3L71.6,176.7L71.7,175.4L71.8,175.5L71.8,177.2L71.9,176.7L72,176L72.1,175.2L72.2,175.5L72.2,177.3L72.3,176.8L72.4,175.1L72.5,176.6L72.6,175.8L72.6,176.6L72.7,175.6L72.8,175.2L72.9,174.9L73,175.6L73,177L73.1,177L73.2,176.5L73.3,176.7L73.4,175.4L73.4,175.8L73.5,177.1L73.6,177.3L73.7,176L73.8,176.8L73.8,177.1L73.9,177.3L74,175.6L74.1,176.5L74.2,175.8L74.2,176L74.3,176L74.4,175.6L74.5,174.9L74.6,176.7L74.6,176.6L74.7,176.9L74.8,175.3L74.9,175.5L75,176.3L75,177.1L75.1,176L75.2,175.4L75.3,176.3L75.4,177.2L75.4,177L75.5,177.1L75.6,175.9L75.7,175.5L75.8,177L75.8,176.8L75.9,176.9L76,175.8L76.1,175.6L76.2,175.5L76.2,177L76.3,177.1L76.4,175.8L76.5,177L76.6,175.8L76.6,176L76.7,176.3L76.8,175.4L76.9,175.5L77,175.5L77,175.5L77.1,176.1L77.2,175.1L77.3,176.8L77.4,175.3L77.4,176L77.5,176.4L77.6,175.2L77.7,175.9L77.8,176.3L77.8,176.2L77.9,177L78,176.8L78.1,175.2L78.2,176.9L78.2,176.2L78.3,176.5L78.4,175.3L78.5,176L78.6,176.6L78.6,176.8L78.7,176.8L78.8,175.4L78.9,176.9L79,176.3L79,176.5L79.1,176.9L79.2,175.9L79.3,177.1L79.4,177L79.4,176.8L79.5,175.8L79.6,176.2L79.7,175.3L79.8,176.7L79.8,177L79.9,175.3L80,176.7L80.1,176.6L80.2,175L80.2,177.1L80.3,176L80.4,175.5L80.5,175L80.6,176.8L80.6,175.7L80.7,176.1L80.8,175.4L80.9,176.4L81,175.9L81,176.8L81.1,176.5L81.2,176.6L81.3,175.5L81.4,175.1L81.4,177L81.5,177.1L81.6,176.4L81.7,177.1L81.8,176.6L81.8,176.4L81.9,175.9L82,175.8L82.1,176.1L82.2,175.4L82.2,175.9L82.3,176.1L82.4,175L82.5,175.8L82.6,175.6L82.6,176.4L82.7,176.8L82.8,176.4L82.9,176.5L83,176.4L83,175.5L83.1,175.8L83.2,176.9L83.3,177.2L83.4,175.3L83.4,174.9L83.5,177.2L83.6,177L83.7,176.4L83.8,176.9L83.8,176.3L83.9,177.1L84,175.5L84.1,176L84.2,176.5L84.2,175.4L84.3,176.6L84.4,175.5L84.5,176.6L84.6,176.8L84.6,175.9L84.7,177.3L84.8,176.4L84.9,176.7L85,174.9L85,175.2L85.1,176.6L85.2,177.2L85.3,176.4L85.4,177.1L85.4,175L85.5,177L85.6,177L85.7,176.4L85.8,175.9L85.8,176.6L85.9,175.5L86,176.5L86.1,176.6L86.2,176.2L86.2,175.5L86.3,174.9L86.4,175.4L86.5,176.9L86.6,175.4L86.6,175.1L86.7,175.5L86.8,176.1L86.9,176.3L87,177L87,177L87.1,177.2L87.2,177L87.3,176L87.4,175.2L87.4,177.2L87.5,175.4L87.6,176.4L87.7,175.5L87.8,176.9L87.8,175.4L87.9,175.9L88,175.4L88.1,177L88.2,176.4L88.2,176.4L88.3,175.7L88.4,175.3L88.5,177L88.6,176.7L88.6,176.7L88.7,177.3L88.8,176.2L88.9,175.3L89,176.4L89,175.6L89.1,176.1L89.2,176L89.3,176.3L89.4,177.1L89.4,176.8L89.5,175.9L89.6,176.9L89.7,177L89.8,176.8L89.8,176.2L89.9,177.1L90,176.1L90.1,175.2L90.2,175.6L90.2,176.5L90.3,175.8L90.4,175.9L90.5,175.9L90.6,175.4L90.6,175.1L90.7,175L90.8,176.5L90.9,175.7L91,176L91,177.1L91.1,176.4L91.2,176.8L91.3,176.7L91.4,177.2L91.4,175.1L91.5,175.8L91.6,177.2L91.7,176L91.8,177.2L91.8,175.3L91.9,175L92,177L92.1,175.9L92.2,176.1L92.2,177.1L92.3,175.4L92.4,177.2L92.5,175.9L92.6,175.5L92.6,175.5L92.7,176.1L92.8,176L92.9,177L93,175L93,175L93.1,175.3L93.2,176.4L93.3,176.8L93.4,176.1L93.4,176.4L93.5,176.4L93.6,174.9L93.7,175.5L93.8,177.3L93.8,175.7L93.9,177.2L94,176.1L94.1,175.4L94.2,174.9L94.2,175.4L94.3,175.7L94.4,176L94.5,176L94.6,176.2L94.6,176L94.7,175L94.8,175.5L94.9,177.2L95,175L95,176.7L95.1,176L95.2,176.6L95.3,175.7L95.4,175.8L95.4,176.1L95.5,177.1L95.6,175.7L95.7,175.1L95.8,175L95.8,177L95.9,175.7L96,175.2L96.1,176.3L96.2,176.9L96.2,176.3L96.3,175.3L96.4,175.9L96.5,175.5L96.6,174.9L96.6,177.2L96.7,176L96.8,175.2L96.9,177L97,177.3L97,176.9L97.1,175.5L97.2,175.4L97.3,176.2L97.4,176.3L97.4,177L97.5,177.2L97.6,177.1L97.7,175.7L97.8,176.3L97.8,175.2L97.9,176.1L98,175.1L98.1,175.2L98.2,175.2L98.2,175.6L98.3,175.6L98.4,176.6L98.5,175.1L98.6,175.2L98.6,176.5L98.7,176.5L98.8,176.6L98.9,176.6L99,176.5L99,176.2L99.1,176.7L99.2,175.1L99.3,175.4L99.4,176.7L99.4,175.4L99.5,176.2L99.6,175.5L99.7,175.9L99.8,176.9L99.8,176.5L99.9,176L100,175.6L100.1,176.8L100.2,176.5L100.2,176L100.3,177L100.4,176.6L100.5,177.3L100.6,176.5L100.6,177.1L100.7,176.2L100.8,176.6L100.9,176.9L101,175.1L101,176L101.1,176.4L101.2,175L101.3,176.8L101.4,176.6L101.4,177.1L101.5,175.8L101.6,176L101.7,177.1L101.8,175.9L101.8,176.9L101.9,175.9L102,175.7L102.1,175.6L102.2,175.4L102.2,175.9L102.3,175.3L102.4,176.9L102.5,177.2L102.6,175.1L102.6,175L102.7,174.9L102.8,177.1L102.9,175.1L103,176.5L103,175.6L103.1,175.4L103.2,175.5L103.3,176.6L103.4,174.9L103.4,177L103.5,176.3L103.6,175.5L103.7,175.4L103.8,176.5L103.8,176.4L103.9,175.7L104,175.7L104.1,176L104.2,177.1L104.2,176.2L104.3,176.9L104.4,176.4L104.5,176.2L104.6,176.1L104.6,176.5L104.7,176.1L104.8,176.6L104.9,175.3L105,175.7L105,177L105.1,175.8L105.2,176.9L105.3,177.2L105.4,176.3L105.4,175.1L105.5,176.7L105.6,176.5L105.7,175.6L105.8,177L105.8,176.1L105.9,175L106,175.1L106.1,175.4L106.2,176.4L106.2,176.9L106.3,175.1L106.4,175L106.5,176.4L106.6,175.9L106.6,176L106.7,176.9L106.8,177.1L106.9,177.2L107,176.8L107,174.9L107.1,175.3L107.2,176.3L107.3,177.2L107.4,175.1L107.4,176.1L107.5,175.9L107.6,175.9L107.7,175.5L107.8,175.5L107.8,175.5L107.9,175.1L108,176.2L108.1,176L108.2,176.6L108.2,176.4L108.3,177.2L108.4,175.7L108.5,177L108.6,175.8L108.6,176.5L108.7,176.8L108.8,175.9L108.9,176L109,176.4L109,175.2L109.1,176.2L109.2,175.1L109.3,175.4L109.4,176.4L109.4,177.2L109.5,177.3L109.6,175.5L109.7,175.3L109.8,176.1L109.8,176L109.9,175.8L110,176.7L110.1,176.6L110.2,176.2L110.2,176.4L110.3,176.3L110.4,176.5L110.5,177.1L110.6,177.2L110.6,177.3L110.7,177L110.8,175.2L110.9,176L111,176.8L111,175.6L111.1,176.4L111.2,175L111.3,175.4L111.4,175.9L111.4,175.1L111.5,175.9L111.6,175.5L111.7,177L111.8,175.7L111.8,175.8L111.9,176.8L112,176.2L112.1,175L112.2,175.4L112.2,176.4L112.3,175.4L112.4,175.5L112.5,176.4L112.6,176.1L112.6,175.5L112.7,176.2L112.8,176.4L112.9,175L113,175.6L113,175.6L113.1,177L113.2,175L113.3,175.7L113.4,175.4L113.4,176.6L113.5,176.8L113.6,175L113.7,177L113.8,176.6L113.8,175.4L113.9,177.1L114,175.6L114.1,176.8L114.2,175.1L114.2,176L114.3,176.1L114.4,177.1L114.5,176.9L114.6,176.2L114.6,175L114.7,175.9L114.8,175.8L114.9,177.3L115,176.5L115,175.9L115.1,175.8L115.2,176.6L115.3,175.3L115.4,176.7L115.4,176.4L115.5,176L115.6,176.5L115.7,175.9L115.8,175.4L115.8,175.9L115.9,175.2L116,175.3L116.1,176L116.2,176.8L116.2,175.5L116.3,176.1L116.4,177.1L116.5,176.8L116.6,176.9L116.6,176.4L116.7,176.3L116.8,176.3L116.9,176.3L117,176L117,175.8L117.1,175.6L117.2,175.2L117.3,175.8L117.4,176.6L117.4,176.2L117.5,175.4L117.6,176.7L117.7,175.2L117.8,177L117.8,176.4L117.9,176.2L118,175.9L118.1,176.8L118.2,175.1L118.2,175.1L118.3,176.1L118.4,175.7L118.5,175.9L118.6,176.2L118.6,175.2L118.7,177.1L118.8,176.5L118.9,175.3L119,176.6L119,176.2L119.1,176.5L119.2,176.6L119.3,177.1L119.4,175.3L119.4,177.1L119.5,176.1L119.6,175.5L119.7,175.8L119.8,175.8L119.8,176.9L119.9,176.1L120,175.2L120.1,176.5L120.2,176.1L120.2,176.7L120.3,175.2L120.4,176.8L120.5,176.9L120.6,175.1L120.6,176.1L120.7,175.3L120.8,176.2L120.9,175.3L121,176.9L121,175.5L121.1,176.4L121.2,176.4L121.3,175.7L121.4,175.5L121.4,176.9L121.5,175.2L121.6,175.6L121.7,175.8L121.8,176.3L121.8,175.8L121.9,175.3L122,176.2L122.1,176.5L122.2,176.5L122.2,176.1L122.3,175.7L122.4,175.1L122.5,176.2L122.6,176.4L122.6,176L122.7,177L122.8,175.5L122.9,176.7L123,176.5L123,176.9L123.1,176.9L123.2,175.6L123.3,176.9L123.4,175.9L123.4,176.5L123.5,177L123.6,176.3L123.7,176.3L123.8,175.2L123.8,176.3L123.9,175.6L124,175.9L124.1,175.9L124.2,177L124.2,176.4L124.3,176.5L124.4,175.4L124.5,175.7L124.6,176.9L124.6,175.3L124.7,177L124.8,176L124.9,175.9L125,176.1L125,176L125.1,176L125.2,175.9L125.3,176.5L125.4,175.7L125.4,175.4L125.5,176L125.6,175.3L125.7,176L125.8,176.1L125.8,176.7L125.9,175.3L126,175.9L126.1,176.7L126.2,175.8L126.2,176.8L126.3,176.5L126.4,175.2L126.5,175.9L126.6,176.6L126.6,176.2L126.7,176.4L126.8,177.1L126.9,176.5L127,176.2L127,176.8L127.1,176L127.2,175.1L127.3,175.6L127.4,176.3L127.4,177L127.5,176.3L127.6,175.7L127.7,177.1L127.8,175.9L127.8,175.6L127.9,176.2L128,175.8L128.1,175.3L128.2,176.5L128.2,176.5L128.3,177L128.4,175.4L128.5,176.9L128.6,176.7L128.6,175.6L128.7,176.1L128.8,176.4L128.9,175.7L129,175.3L129,176.8L129.1,175.4L129.2,176.1L129.3,176L129.4,176.9L129.4,176.2L129.5,175.9L129.6,177.1L129.7,175.8L129.8,176.6L129.8,175.6L129.9,176.6L130,176.6L130.1,176.8L130.2,176.1L130.2,175.5L130.3,176.4L130.4,176.9L130.5,175.7L130.6,175.1L130.6,175.5L130.7,177L130.8,175.1L130.9,175.2L131,175.3L131,176.9L131.1,175.9L131.2,176.5L131.3,176.5L131.4,176L131.4,176.6L131.5,176L131.6,176.2L131.7,175.7L131.8,175.1L131.8,176.3L131.9,175.6L132,175.7L132.1,176.9L132.2,175.8L132.2,175.3L132.3,176.4L132.4,176.2L132.5,175.2L132.6,175.8L132.6,176.3L132.7,175.7L132.8,177.1L132.9,176.7L133,176.1L133,176.9L133.1,175.2L133.2,175.5L133.3,176.9L133.4,176.1L133.4,175.4L133.5,176.2L133.6,176.6L133.7,176.3L133.8,175.2L133.8,175.2L133.9,175.9L134,175.1L134.1,175.3L134.2,176.4L134.2,176L134.3,175.3L134.4,176.9L134.5,175.8L134.6,176.9L134.6,176.3L134.7,176.3L134.8,175.9L134.9,176.4L135,175.6L135,175.6L135.1,176.8L135.2,175.5L135.3,175.9L135.4,176.6L135.4,175.8L135.5,175.8L135.6,176.9L135.7,175.5L135.8,175.6L135.8,176.9L135.9,175.7L136,175.8L136.1,176.9L136.2,175.7L136.2,177.1L136.3,176.7L136.4,176.8L136.5,175.6L136.6,175.5L136.6,176.6L136.7,176.8L136.8,175.5L136.9,175.5L137,175.6L137,175.4L137.1,175.9L137.2,176.1L137.3,176.4L137.4,175.2L137.4,175.5L137.5,175.3L137.6,175.6L137.7,175.5L137.8,177L137.8,175.8L137.9,175.4L138,176.4L138.1,177L138.2,176.7L138.2,176.4L138.3,175.9L138.4,175.9L138.5,175.7L138.6,176.7L138.6,176.7L138.7,176.1L138.8,176.8L138.9,176.4L139,176.5L139,175.6L139.1,175.6L139.2,175.6L139.3,176.9L139.4,176.7L139.4,176.9L139.5,176.7L139.6,176.7L139.7,176L139.8,176.6L139.8,175.4L139.9,176.4L140,175.2L140.1,177L140.2,176.9L140.2,175.4L140.3,176.6L140.4,176.7L140.5,175.2L140.6,176.2L140.6,175.9L140.7,176.3L140.8,176.9L140.9,176.5L141,175.5L141,176.2L141.1,176.2L141.2,175.1L141.3,175.4L141.4,175.8L141.4,175.5L141.5,175.6L141.6,176.5L141.7,177L141.8,176L141.8,176.4L141.9,176.6L142,176.4L142.1,176.4L142.2,175.1L142.2,176.8L142.3,175.4L142.4,175.5L142.5,176.1L142.6,176.3L142.6,176.6L142.7,175.7L142.8,177L142.9,176.4L143,176.8L143,176.1L143.1,175.2L143.2,175.1L143.3,176.4L143.4,176L143.4,176L143.5,175.8L143.6,175.5L143.7,176L143.8,175.6L143.8,176.9L143.9,175.5L144,177L144.1,176.8L144.2,175.9L144.2,176.6L144.3,176.3L144.4,176L144.5,176.7L144.6,176.8L144.6,175.5L144.7,176.9L144.8,175.2L144.9,175.1L145,176.1L145,175.7L145.1,175.9L145.2,176.1L145.3,176L145.4,176.9L145.4,176.9L145.5,175.8L145.6,175.7L145.7,176.4L145.8,175.5L145.8,175.9L145.9,176.5L146,175.1L146.1,176.6L146.2,176.6L146.2,175.9L146.3,175.6L146.4,176.2L146.5,175.7L146.6,176.7L146.6,176.3L146.7,175.7L146.8,176.7L146.9,176.3L147,175.4L147,175.9L147.1,176.1L147.2,177L147.3,175.7L147.4,176L147.4,177.1L147.5,176L147.6,176.8L147.7,175.3L147.8,175.9L147.8,175.5L147.9,176.9L148,176.2L148.1,175.5L148.2,175.3L148.2,175.9L148.3,175.3L148.4,176.1L148.5,176.6L148.6,175.7L148.6,175.4L148.7,175.8L148.8,175.4L148.9,176.8L149,175.3L149,176.6L149.1,175.8L149.2,176.6L149.3,176.6L149.4,175.4L149.4,176.6L149.5,177L149.6,176.2L149.7,176.4L149.8,175.7L149.8,175.4L149.9,176.6L150,176.7L150.1,175.5L150.2,175.3L150.2,175.8L150.3,176.4L150.4,175.8L150.5,177L150.6,176.7L150.6,176.9L150.7,176.3L150.8,176.6L150.9,177L151,175.2L151,176.2L151.1,175.5L151.2,176.7L151.3,175.6L151.4,176.6L151.4,175.8L151.5,176.4L151.6,176.5L151.7,176.9L151.8,176.8L151.8,176L151.9,176.5L152,175.5L152.1,175.3L152.2,176.5L152.2,176.9L152.3,176.6L152.4,176.1L152.5,176.4L152.6,176.6L152.6,176.2L152.7,175.8L152.8,176.8L152.9,175.8L153,176.9L153,176.7L153.1,176.7L153.2,176.8L153.3,177.1L153.4,177.1L153.4,176.1L153.5,175.9L153.6,176.6L153.7,177L153.8,176.4L153.8,175.2L153.9,175.2L154,176L154.1,176.7L154.2,176.9L154.2,175.9L154.3,176.1L154.4,176.1L154.5,175.3L154.6,175.1L154.6,176.1L154.7,176.1L154.8,176.8L154.9,175.5L155,176.8L155,175.6L155.1,176.2L155.2,176.5L155.3,175.4L155.4,177L155.4,177L155.5,177L155.6,175.1L155.7,176.4L155.8,176.4L155.8,176.9L155.9,175.5L156,175.3L156.1,176.7L156.2,175.6L156.2,175.2L156.3,175.3L156.4,176.4L156.5,176.2L156.6,176.6L156.6,176.7L156.7,175.1L156.8,177L156.9,176.9L157,177L157,176.6L157.1,175.9L157.2,175.6L157.3,176.9L157.4,175.9L157.4,176.1L157.5,176.5L157.6,176.5L157.7,176.5L157.8,176.3L157.8,176.1L157.9,176.6L158,175.9L158.1,175.6L158.2,176.9L158.2,176.8L158.3,176.5L158.4,175.4L158.5,175.2L158.6,176.9L158.6,177L158.7,175.6L158.8,176.4L158.9,175.1L159,175.9L159,176.5L159.1,175.8L159.2,176.7L159.3,176.9L159.4,175.4L159.4,176.5L159.5,175.9L159.6,175.4L159.7,175.8L159.8,176.1L159.8,176.9L159.9,176.6L160,175.1L160.1,175.2L160.2,177.1L160.2,176.2L160.3,176.3L160.4,175.8L160.5,176.8L160.6,176.2L160.6,176.3L160.7,175.6L160.8,176.7L160.9,175.5L161,175.4L161,176.3L161.1,176.8L161.2,175.7L161.3,175.7L161.4,175.4L161.4,176.3L161.5,176.6L161.6,175.4L161.7,176.2L161.8,176.2L161.8,175.3L161.9,176.2L162,175.6L162.1,175.5L162.2,177.1L162.2,175.3L162.3,175.8L162.4,176.3L162.5,175.9L162.6,175.1L162.6,176.8L162.7,175.6L162.8,175.9L162.9,176.9L163,177L163,176.9L163.1,175.9L163.2,176.6L163.3,176.8L163.4,175.5L163.4,177L163.5,175.3L163.6,176.4L163.7,175.6L163.8,175.5L163.8,175.4L163.9,177L164,175.4L164.1,176.9L164.2,175.4L164.2,175.8L164.3,175.5L164.4,177.1L164.5,175.3L164.6,176.8L164.6,175.7L164.7,177L164.8,176.6L164.9,175.6L165,176.1L165,175.4L165.1,175.9L165.2,175.2L165.3,176.5L165.4,176.3L165.4,175.6L165.5,175.1L165.6,177L165.7,175.3L165.8,175.8L165.8,175.2L165.9,175.9L166,175.9L166.1,176.2L166.2,175.7L166.2,175.6L166.3,176.7L166.4,175.7L166.5,175.8L166.6,176.1L166.6,175.6L166.7,176.6L166.8,175.3L166.9,175.7L167,175.9L167,175.6L167.1,176.8L167.2,175.8L167.3,175.9L167.4,176L167.4,176.8L167.5,175.5L167.6,176.8L167.7,177L167.8,175.6L167.8,175.4L167.9,176.7L168,175.7L168.1,175.6L168.2,175.3L168.2,176.3L168.3,177L168.4,176.9L168.5,176.3L168.6,176L168.6,177.1L168.7,176.4L168.8,177L168.9,176.5L169,176.5L169,176.5L169.1,175.4L169.2,175.6L169.3,175.2L169.4,177L169.4,177.1L169.5,176.3L169.6,175.4L169.7,175.3L169.8,176L169.8,175.9L169.9,175.5L170,175.3L170.1,176.4L170.2,176.7L170.2,175.2L170.3,175.7L170.4,175.7L170.5,176.2L170.6,176.3L170.6,175.9L170.7,176.8L170.8,175.9L170.9,175.7L171,176.6L171,176.8L171.1,176.9L171.2,175.4L171.3,175.5L171.4,176L171.4,177L171.5,176.3L171.6,176.3L171.7,175.8L171.8,177.1L171.8,175.5L171.9,176.2L172,176.4L172.1,176.7L172.2,176.7L172.2,175.9L172.3,175.6L172.4,177.1L172.5,176.2L172.6,175.7L172.6,175.4L172.7,176.7L172.8,176.8L172.9,176.2L173,175.9L173,176.4L173.1,177.1L173.2,176.3L173.3,176.7L173.4,176.9L173.4,176.6L173.5,176.1L173.6,175.5L173.7,176.5L173.8,176.8L173.8,177L173.9,175.4L174,175.3L174.1,176.4L174.2,176.8L174.2,175.3L174.3,176.3L174.4,175.6L174.5,177.1L174.6,175.8L174.6,175.3L174.7,176.7L174.8,175.7L174.9,175.9L175,175.4L175,175.8L175.1,175.4L175.2,175.6L175.3,176.3L175.4,175.7L175.4,176.4L175.5,176.9L175.6,176.3L175.7,175.2L175.8,177L175.8,175.5L175.9,175.8L176,176.2L176.1,176.3L176.2,175.8L176.2,176L176.3,176.4L176.4,176L176.5,175.7L176.6,175.9L176.6,175.9L176.7,175.7L176.8,176.3L176.9,176.1L177,175.9L177,176.5L177.1,176.7L177.2,176.4L177.3,175.8L177.4,177L177.4,175.3L177.5,176.7L177.6,175.9L177.7,175.9L177.8,176.8L177.8,176.4L177.9,177L178,176.9L178.1,175.3L178.2,176.1L178.2,176.6L178.3,175.3L178.4,176.2L178.5,177.1L178.6,175.6L178.6,175.3L178.7,175.7L178.8,175.8L178.9,175.7L179,176L179,176.8L179.1,176.1L179.2,176.3L179.3,175.3L179.4,175.2L179.4,177L179.5,175.8L179.6,177L179.7,175.8L179.8,176.4L179.8,176.4L179.9,175.3L180,175.2L180.1,176L180.2,175.4L180.2,175.7L180.3,175.5L180.4,175.7L180.5,176L180.6,175.7L180.6,175.8L180.7,176.1L180.8,176.5L180.9,175.2L181,177.1L181,176L181.1,176.9L181.2,175.1L181.3,175.2L181.4,175.3L181.4,176.9L181.5,175.9L181.6,176.8L181.7,176.5L181.8,175.3L181.8,175.8L181.9,175.8L182,176L182.1,176.6L182.2,175.3L182.2,177L182.3,176.1L182.4,175.8L182.5,176.5L182.6,175.7L182.6,176.5L182.7,175.9L182.8,176.1L182.9,175.5L183,175.5L183,176.8L183.1,176.3L183.2,175.9L183.3,176.6L183.4,176.9L183.4,175.4L183.5,177.1L183.6,175.1L183.7,176.3L183.8,175.6L183.8,175.6L183.9,176.1L184,176.3L184.1,176L184.2,176.5L184.2,177L184.3,175.4L184.4,175.6L184.5,176.3L184.6,175.9L184.6,175.7L184.7,176.1L184.8,176.5L184.9,176.9L185,177L185,176.7L185.1,175.8L185.2,176.9L185.3,176.5L185.4,175.4L185.4,177L185.5,175.6L185.6,176.5L185.7,176.5L185.8,176.9L185.8,176.4L185.9,177.1L186,175.2L186.1,175.2L186.2,175.5L186.2,176.3L186.3,175.9L186.4,175.3L186.5,175.5L186.6,176.3L186.6,175.9L186.7,176.6L186.8,176L186.9,176.9L187,176.6L187,176.1L187.1,175.8L187.2,175.5L187.3,175.7L187.4,175.8L187.4,175.8L187.5,175.5L187.6,176L187.7,175.3L187.8,176.8L187.8,176.2L187.9,175.3L188,175.8L188.1,175.6L188.2,175.4L188.2,176.1L188.3,175.5L188.4,175.4L188.5,176.5L188.6,176L188.6,176.4L188.7,176L188.8,176.1L188.9,175.7L189,176L189,176.1L189.1,175.8L189.2,176.8L189.3,175.6L189.4,175.5L189.4,175.8L189.5,176.7L189.6,176.8L189.7,176.2L189.8,175.8L189.8,176.4L189.9,176.8L190,175.6L190.1,176.4L190.2,176.5L190.2,175.9L190.3,175.4L190.4,176.3L190.5,175.5L190.6,175.8L190.6,176.2L190.7,177L190.8,175.4L190.9,175.2L191,176.2L191,177L191.1,175.2L191.2,176.4L191.3,175.2L191.4,176.2L191.4,175.3L191.5,176.4L191.6,175.8L191.7,176.4L191.8,175.6L191.8,175.2L191.9,175.5L192,175.6L192.1,175.4L192.2,175.5L192.2,176.2L192.3,176L192.4,176.8L192.5,176.1L192.6,176.2L192.6,176.5L192.7,176.8L192.8,176.3L192.9,175.2L193,176L193,175.2L193.1,176.3L193.2,175.2L193.3,176.2L193.4,175.4L193.4,176.8L193.5,175.3L193.6,176.4L193.7,176.5L193.8,175.7L193.8,176.3L193.9,175.8L194,175.6L194.1,175.6L194.2,175.1L194.2,176.4L194.3,175.2L194.4,175.5L194.5,175.3L194.6,176.7L194.6,176.2L194.7,176L194.8,176.3L194.9,176.7L195,176.3L195,176.1L195.1,175.7L195.2,176.1L195.3,177.1L195.4,176.2L195.4,176.1L195.5,176.9L195.6,175.2L195.7,175.2L195.8,176.7L195.8,177L195.9,175.2L196,175.1L196.1,175.1L196.2,176.3L196.2,175.4L196.3,176.2L196.4,176.4L196.5,175.1L196.6,176.8L196.6,175.6L196.7,176.2L196.8,175.8L196.9,175.8L197,175.9L197,175.1L197.1,176L197.2,175.6L197.3,175.8L197.4,175.4L197.4,175.8L197.5,176.5L197.6,177.1L197.7,175.5L197.8,176.8L197.8,176.3L197.9,175.3L198,175.1L198.1,176.9L198.2,175.6L198.2,175.3L198.3,176.4L198.4,176.5L198.5,176.9L198.6,176.1L198.6,175.7L198.7,175.7L198.8,175.5L198.9,176.4L199,177L199,175.3L199.1,175.9L199.2,175.8L199.3,175.3L199.4,176.3L199.4,177.1L199.5,175.7L199.6,176.6L199.7,176.9L199.8,175.6L199.8,176.9L199.9,176.6L200,176.4L200.1,175.5L200.2,175.7L200.2,175.3L200.3,176.9L200.4,176.7L200.5,175.3L200.6,176.2L200.6,175.5L200.7,176.6L200.8,176.2L200.9,177L201,176.6L201,175.3L201.1,175.8L201.2,176.3L201.3,176.9L201.4,175.8L201.4,175.5L201.5,175.7L201.6,175.6L201.7,175.4L201.8,175.8L201.8,175.6L201.9,176.1L202,176.9L202.1,177L202.2,175.4L202.2,176.2L202.3,176.4L202.4,175.4L202.5,176.2L202.6,175.5L202.6,175.8L202.7,175.7L202.8,176.7L202.9,175.6L203,176.2L203,176.3L203.1,175.8L203.2,177L203.3,175.8L203.4,175.8L203.4,176.5L203.5,176.1L203.6,176.5L203.7,175.4L203.8,175.4L203.8,176.6L203.9,175.9L204,176.8L204.1,175.6L204.2,175.6L204.2,176.8L204.3,175.8L204.4,175.3L204.5,175.5L204.6,176.6L204.6,175.6L204.7,176.2L204.8,176.8L204.9,176.3L205,176.6L205,177.1L205.1,175.7L205.2,176.9L205.3,176.2L205.4,175.5L205.4,175.4L205.5,175.8L205.6,175.4L205.7,176.6L205.8,176.2L205.8,175.2L205.9,176.9L206,176.3L206.1,176L206.2,175.4L206.2,176L206.3,176.9L206.4,176.3L206.5,176L206.6,176.3L206.6,176.2L206.7,176.3L206.8,175.5L206.9,175.4L207,175.1L207,176.8L207.1,175.1L207.2,175.6L207.3,176.3L207.4,176.1L207.4,176.9L207.5,175.5L207.6,175.3L207.7,175.4L207.8,176.1L207.8,175.7L207.9,176L208,176.5L208.1,175.7L208.2,176.4L208.2,175.1L208.3,176.2L208.4,176.9L208.5,177L208.6,176.2L208.6,177.1L208.7,175.6L208.8,175.7L208.9,176L209,176.1L209,176.7L209.1,176L209.2,175.2L209.3,176.5L209.4,175.5L209.4,176.9L209.5,175.5L209.6,175.7L209.7,175.4L209.8,175.7L209.8,176.3L209.9,175.6L210,175.2L210.1,176.3L210.2,176.6L210.2,175.3L210.3,175.9L210.4,175.2L210.5,175.1L210.6,175.8L210.6,175.7L210.7,176.9L210.8,175.1L210.9,176.4L211,176.6L211,175.9L211.1,176.1L211.2,175.6L211.3,175.6L211.4,175.2L211.4,176.9L211.5,175.2L211.6,175.4L211.7,176.5L211.8,176L211.8,176.1L211.9,175.7L212,175.4L212.1,176.7L212.2,175.3L212.2,175.7L212.3,176.6L212.4,175.7L212.5,177L212.6,175.5L212.6,176.2L212.7,176.2L212.8,176.1L212.9,176.6L213,175.2L213,176.2L213.1,176.7L213.2,175.2L213.3,176.2L213.4,176L213.4,175.9L213.5,176.2L213.6,176.3L213.7,176.5L213.8,176.9L213.8,176.4L213.9,177.1L214,176.4L214.1,175.6L214.2,175.4L214.2,175.2L214.3,175.6L214.4,175.3L214.5,176.5L214.6,176.5L214.6,176.3L214.7,175.9L214.8,176L214.9,175.6L215,176.9L215,175.1L215.1,175.7L215.2,176.2L215.3,175.5L215.4,176.8L215.4,176.1L215.5,175.8L215.6,175.2L215.7,175.7L215.8,176.3L215.8,175.7L215.9,175.2L216,176.3L216.1,175.7L216.2,176.8L216.2,176.5L216.3,176.5L216.4,176.9L216.5,176.7L216.6,175.8L216.6,176.2L216.7,175.6L216.8,175.5L216.9,175.5L217,175.3L217,175.6L217.1,175.5L217.2,176.4L217.3,175.6L217.4,175.2L217.4,175.9L217.5,175.5L217.6,176.5L217.7,175.5L217.8,176.2L217.8,175.5L217.9,176.1L218,176.8L218.1,175.7L218.2,176.2L218.2,176L218.3,175.2L218.4,175.1L218.5,176.8L218.6,175.8L218.6,176.5L218.7,175.9L218.8,176.8L218.9,175.5L219,176.1L219,176.2L219.1,176.7L219.2,175.2L219.3,175.8L219.4,176.1L219.4,176.3L219.5,175.4L219.6,176.2L219.7,176.5L219.8,176.6L219.8,175.5L219.9,176L220,175.7L220.1,175.9L220.2,175.8L220.2,177L220.3,175.1L220.4,177L220.5,175.2L220.6,175.3L220.6,175.5L220.7,175.7L220.8,176.8L220.9,176.8L221,177L221,175.9L221.1,175.1L221.2,176.4L221.3,176.9L221.4,175.3L221.4,176.8L221.5,175.1L221.6,176.6L221.7,176.1L221.8,176.9L221.8,176.8L221.9,175.2L222,176.1L222.1,175.6L222.2,176L222.2,175.2L222.3,175.8L222.4,175.9L222.5,175.1L222.6,176L222.6,176.9L222.7,175.2L222.8,177L222.9,176.1L223,175.5L223,177L223.1,176L223.2,176L223.3,175.9L223.4,176.9L223.4,175.4L223.5,175.5L223.6,175.7L223.7,175.2L223.8,176.8L223.8,176.1L223.9,176.3L224,176.9L224.1,176.1L224.2,175.7L224.2,176.2L224.3,176.1L224.4,175.7L224.5,175.6L224.6,175.8L224.6,176.6L224.7,175.4L224.8,177.1L224.9,175.6L225,175.6L225,175.3L225.1,175.9L225.2,175.8L225.3,176.5L225.4,176.9L225.4,175.6L225.5,176.7L225.6,175.7L225.7,175.9L225.8,175.4L225.8,176.9L225.9,175.8L226,176.5L226.1,175.2L226.2,176.5L226.2,175.6L226.3,176L226.4,176.4L226.5,175.4L226.6,176.2L226.6,176.8L226.7,175.4L226.8,176L226.9,175.5L227,175.4L227,176.1L227.1,176L227.2,176.4L227.3,176.8L227.4,176.5L227.4,175.8L227.5,176.1L227.6,176.4L227.7,176.8L227.8,176.5L227.8,176.1L227.9,175.4L228,176.8L228.1,175.7L228.2,175.9L228.2,176.9L228.3,175.5L228.4,176.9L228.5,175.6L228.6,175.3L228.6,176.1L228.7,176.7L228.8,175.9L228.9,176.8L229,175.9L229,176.7L229.1,175.3L229.2,175.7L229.3,175.3L229.4,176.6L229.4,176L229.5,176.4L229.6,175.6L229.7,176.6L229.8,177.1L229.8,175.3L229.9,175.7L230,176.8L230.1,176.8L230.2,176.8L230.2,175.6L230.3,176.2L230.4,175.3L230.5,176L230.6,176.3L230.6,175.6L230.7,175.9L230.8,175.8L230.9,175.3L231,175.2L231,176.7L231.1,175.1L231.2,177.1L231.3,176.9L231.4,177.1L231.4,176.7L231.5,175.1L231.6,175.3L231.7,175.7L231.8,175.5L231.8,175.2L231.9,176.9L232,176.9L232.1,176.6L232.2,175.6L232.2,176.8L232.3,176.7L232.4,175.7L232.5,175.4L232.6,175.4L232.6,175.9L232.7,176.8L232.8,175.3L232.9,176L233,175.8L233,176.9L233.1,175.4L233.2,176.4L233.3,175.7L233.4,176.4L233.4,176.7L233.5,176.7L233.6,176.8L233.7,175.7L233.8,175.7L233.8,175.3L233.9,175.6L234,175.3L234.1,176.7L234.2,175.2L234.2,175.5L234.3,176.7L234.4,176.6L234.5,177L234.6,175.9L234.6,175.2L234.7,176.7L234.8,175.7L234.9,176.6L235,175.1L235,175.2L235.1,176.3L235.2,176.5L235.3,176.2L235.4,176.2L235.4,176.3L235.5,175.4L235.6,175.2L235.7,175.8L235.8,176.2L235.8,175.6L235.9,175.5L236,176L236.1,175.9L236.2,175.6L236.2,177L236.3,177L236.4,175.2L236.5,176.1L236.6,175.6L236.6,175.8L236.7,175.2L236.8,175.3L236.9,175.2L237,175.4L237,176.4L237.1,175.3L237.2,176.9L237.3,176.7L237.4,175.6L237.4,176.5L237.5,177L237.6,175.3L237.7,176.2L237.8,176L237.8,175.7L237.9,175.7L238,175.3L238.1,176.4L238.2,175.5L238.2,175.9L238.3,177L238.4,175.8L238.5,175.7L238.6,177L238.6,176.3L238.7,176.2L238.8,175.5L238.9,176.4L239,175.9L239,176.2L239.1,175.9L239.2,175.3L239.3,176.9L239.4,176.5L239.4,177L239.5,175.7L239.6,175.7L239.7,175.4L239.8,175.7L239.8,175.8L239.9,175.5L240,175.6L240.1,175.7L240.2,176.8L240.2,176L240.3,176.7L240.4,175.2L240.5,175.5L240.6,177L240.6,175.2L240.7,175.2L240.8,176.1L240.9,175.7L241,175.5L241,176.3L241.1,176.3L241.2,175.5L241.3,176.2L241.4,176L241.4,176.8L241.5,175.2L241.6,175.6L241.7,176.2L241.8,175.2L241.8,176.8L241.9,177L242,175.8L242.1,176.6L242.2,175.6L242.2,177L242.3,175.5L242.4,175.1L242.5,175.2L242.6,176L242.6,175.2L242.7,177.1L242.8,176.4L242.9,176.2L243,176.4L243,175.9L243.1,176.9L243.2,176.5L243.3,176L243.4,175.7L243.4,175.4L243.5,175.7L243.6,175.8L243.7,175.3L243.8,176.9L243.8,175.6L243.9,176.2L244,175.2L244.1,176.2L244.2,176.4L244.2,175.3L244.3,177.1L244.4,175.4L244.5,175.6L244.6,176.6L244.6,175.8L244.7,176.9L244.8,175.6L244.9,175.7L245,176.5L245,176.8L245.1,176.9L245.2,175.7L245.3,176.2L245.4,175.9L245.4,176.5L245.5,175.6L245.6,176.8L245.7,176.5L245.8,175.4L245.8,175.7L245.9,175.8L246,177L246.1,176L246.2,176.3L246.2,177L246.3,175.9L246.4,177L246.5,175.7L246.6,175.1L246.6,175.3L246.7,176.5L246.8,175.9L246.9,176.8L247,176.2L247,176.5L247.1,175.8L247.2,176.3L247.3,176.5L247.4,175.9L247.4,176.1L247.5,176.8L247.6,177L247.7,175.8L247.8,175.2L247.8,176.8L247.9,176L248,177L248.1,176.6L248.2,175.8L248.2,176.8L248.3,176.2L248.4,176.5L248.5,176.9L248.6,176.3L248.6,177L248.7,175.9L248.8,175.9L248.9,176.4L249,175.9L249,176.5L249.1,176.2L249.2,176.6L249.3,176.8L249.4,176.2L249.4,176.9L249.5,176.7L249.6,176.8L249.7,175.1L249.8,175.1L249.8,176.4L249.9,175.8L250,176.8L250.1,175.9L250.2,176.6L250.2,175.6L250.3,176.4L250.4,176.9L250.5,176.8L250.6,175.8L250.6,176.1L250.7,176.2L250.8,175.8L250.9,176.1L251,177L251,176.9L251.1,175.7L251.2,176.5L251.3,177L251.4,175.8L251.4,176.8L251.5,176.7L251.6,176.9L251.7,175.3L251.8,176.9L251.8,177.1L251.9,175.6L252,176.4L252.1,175.3L252.2,176.3L252.2,176.5L252.3,176.6L252.4,176.8L252.5,175.7L252.6,175.3L252.6,176.7L252.7,175.2L252.8,175.6L252.9,175.6L253,176.7L253,176L253.1,176.8L253.2,176.4L253.3,176.8L253.4,176.7L253.4,176.9L253.5,175.7L253.6,175.8L253.7,176.4L253.8,176.3L253.8,176.7L253.9,176.7L254,175.7L254.1,175.3L254.2,176.6L254.2,176.5L254.3,175.7L254.4,175.2L254.5,175.1L254.6,175.6L254.6,175.6L254.7,175.5L254.8,175.2L254.9,175.4L255,175.8L255,175.3L255.1,175.5L255.2,176L255.3,176.8L255.4,176.8L255.4,175.9L255.5,175.4L255.6,175.6L255.7,176.4L255.8,175.9L255.8,176.2L255.9,176.6L256,176.4L256.1,176.8L256.2,175.3L256.2,175.7L256.3,175.2L256.4,176.1L256.5,176.3L256.6,175.6L256.6,175.2L256.7,176L256.8,175.4L256.9,175.5L257,175.9L257,177L257.1,175.8L257.2,176.5L257.3,175.8L257.4,175.9L257.4,175.4L257.5,175.5L257.6,176.6L257.7,176L257.8,175.7L257.8,177.1L257.9,176.9L258,175.6L258.1,176L258.2,176.2L258.2,175.4L258.3,176L258.4,175.7L258.5,176.7L258.6,175.3L258.6,177.1L258.7,175.6L258.8,175.8L258.9,175.3L259,176.9L259,176.8L259.1,175.2L259.2,176.2L259.3,175.9L259.4,176.3L259.4,175.8L259.5,177L259.6,175.5L259.7,176.7L259.8,175.6L259.8,176.4L259.9,176L260,176.2L260.1,176.1L260.2,176.4L260.2,175.2L260.3,175.2L260.4,177L260.5,175.6L260.6,175.8L260.6,175.6L260.7,176.4L260.8,177.1L260.9,175.9L261,175.7L261,175.8L261.1,175.2L261.2,175.3L261.3,175.2L261.4,175.7L261.4,177.1L261.5,175.4L261.6,176.2L261.7,175.5L261.8,175.2L261.8,176.8L261.9,175.4L262,175.4L262.1,176.7L262.2,175.6L262.2,175.5L262.3,177L262.4,175.5L262.5,176.8L262.6,175.7L262.6,176.2L262.7,175.7L262.8,175.8L262.9,177L263,176.9L263,175.4L263.1,176.5L263.2,175.4L263.3,175.7L263.4,175.2L263.4,176.4L263.5,176.6L263.6,176.6L263.7,176.6L263.8,175.9L263.8,175.5L263.9,175.1L264,176L264.1,177L264.2,176L264.2,176.3L264.3,176.9L264.4,176.8L264.5,176.6L264.6,176.3L264.6,175.6L264.7,176.6L264.8,175.9L264.9,176.5L265,175.5L265,177L265.1,175.4L265.2,176.7L265.3,176.9L265.4,175.4L265.4,176.8L265.5,176.4L265.6,176.3L265.7,175.6L265.8,175.8L265.8,175.6L265.9,176L266,176.4L266.1,176.6L266.2,176.5L266.2,175.8L266.3,175.8L266.4,176.6L266.5,177L266.6,175.5L266.6,175.9L266.7,175.7L266.8,177L266.9,175.1L267,176.9L267,176.6L267.1,175.8L267.2,176.5L267.3,175.8L267.4,176.4L267.4,176L267.5,176.9L267.6,176L267.7,176.7L267.8,176.3L267.8,175.8L267.9,177L268,175.5L268.1,176.9L268.2,177.1L268.2,176.8L268.3,176.3L268.4,176.3L268.5,177L268.6,176L268.6,176.7L268.7,176.6L268.8,176.8L268.9,176L269,176.4L269,175.3L269.1,175.2L269.2,175.3L269.3,176.6L269.4,175.8L269.4,176.9L269.5,175.3L269.6,175.4L269.7,176.8L269.8,175.9L269.8,175.5L269.9,176.7L270,175.6L270.1,177L270.2,175.6L270.2,176.8L270.3,176.1L270.4,177L270.5,175.7L270.6,177L270.6,175.7L270.7,176L270.8,176.4L270.9,176.2L271,176.4L271,176.5L271.1,175.6L271.2,175.1L271.3,176.5L271.4,176.3L271.4,176.2L271.5,176.1L271.6,177L271.7,175.7L271.8,176.9L271.8,175.4L271.9,176.5L272,177L272.1,175.4L272.2,176.6L272.2,175.6L272.3,175.2L272.4,176L272.5,176.5L272.6,175.7L272.6,177L272.7,175.1L272.8,175.6L272.9,175.8L273,175.8L273,175.7L273.1,175.1L273.2,175.5L273.3,175.6L273.4,176.4L273.4,175.9L273.5,176.5L273.6,176L273.7,175.8L273.8,175.4L273.8,175.6L273.9,176.9L274,176L274.1,175.7L274.2,175.5L274.2,176.9L274.3,176.5L274.4,176.5L274.5,176.7L274.6,175.6L274.6,176.6L274.7,175.2L274.8,176.4L274.9,175.7L275,176.4L275,175.6L275.1,175.8L275.2,176.4L275.3,177L275.4,175.8L275.4,175.4L275.5,175.3L275.6,176.4L275.7,176.9L275.8,175.1L275.8,175.8L275.9,175.4L276,177L276.1,175.4L276.2,175.2L276.2,176.6L276.3,177.1L276.4,176.6L276.5,175.3L276.6,175.9L276.6,176.1L276.7,176.9L276.8,176.6L276.9,175.2L277,176L277,176.7L277.1,176.2L277.2,176.4L277.3,177L277.4,177.1L277.4,176.8L277.5,176.2L277.6,175.7L277.7,175.4L277.8,175.4L277.8,176.4L277.9,176.6L278,176.8L278.1,176.9L278.2,175.7L278.2,175.8L278.3,175.5L278.4,176.2L278.5,177L278.6,176.6L278.6,176L278.7,175.4L278.8,176.8L278.9,176.9L279,176.6L279,175.7L279.1,175.9L279.2,176.3L279.3,176.9L279.4,175.6L279.4,175.9L279.5,175.2L279.6,175.1L279.7,175.6L279.8,176.7L279.8,176.5L279.9,176.1L280,175.9L280.1,175.6L280.2,176.6L280.2,176.1L280.3,175.2L280.4,176.4L280.5,177.1L280.6,175.2L280.6,177.1L280.7,175.3L280.8,175.7L280.9,177.1L281,177L281,175.5L281.1,176.5L281.2,176.3L281.3,175.9L281.4,176.7L281.4,176.4L281.5,175.6L281.6,176.1L281.7,176.5L281.8,176.3L281.8,176.2L281.9,176.6L282,175.4L282.1,175.2L282.2,175.2L282.2,176.3L282.3,176L282.4,176.8L282.5,177L282.6,175.3L282.6,175.9L282.7,175.9L282.8,176.2L282.9,176.9L283,176.3L283,175.7L283.1,176.4L283.2,175.8L283.3,176.2L283.4,175.3L283.4,176.2L283.5,176.1L283.6,176.4L283.7,176.2L283.8,176.2L283.8,176.6L283.9,175.4L284,176.6L284.1,176.3L284.2,176.5L284.2,175.9L284.3,175.3L284.4,176.9L284.5,176.8L284.6,177.1L284.6,176L284.7,176.9L284.8,176.8L284.9,176.2L285,176.9L285,176.7L285.1,175.3L285.2,175.4L285.3,175.9L285.4,176.2L285.4,176.4L285.5,176.2L285.6,176.9L285.7,176.7L285.8,175.3L285.8,175.8L285.9,176.9L286,176.6L286.1,175.1L286.2,176.4L286.2,175.4L286.3,176.1L286.4,177.1L286.5,175.3L286.6,176.7L286.6,176.1L286.7,177.1L286.8,176.8L286.9,175.2L287,176.4L287,176.8L287.1,175.7L287.2,176.5L287.3,175.6L287.4,175.5L287.4,175.8L287.5,175.7L287.6,177L287.7,175.6L287.8,175.9L287.8,176.1L287.9,176.5L288,177L288.1,176.3L288.2,176.8L288.2,175.4L288.3,176.4L288.4,175.4L288.5,176.8L288.6,176.3L288.6,175.4L288.7,176.8L288.8,176.1L288.9,176.1L289,175.3L289,176.9L289.1,176.1L289.2,176.8L289.3,175.3L289.4,176.5L289.4,175.9L289.5,176.2L289.6,176.3L289.7,176.8L289.8,176.9L289.8,175.4L289.9,176.8L290,175.3L290.1,175.1L290.2,175.7L290.2,175.7L290.3,176.6L290.4,176.2L290.5,175.9L290.6,176.7L290.6,177L290.7,176.4L290.8,176.4L290.9,176.8L291,175.7" fill="none" stroke="#1a1aff" stroke-width="0.75" stroke-linejoin="round"/>
<path d="M29.3,151.1V184.7M36.5,169.8V177.6M58.5,174.1V187.6M72.4,170.1V177.6M76.3,172.7V183.0M91.4,172.0V180.8M101.4,171.0V180.0M105.1,171.0V177.1M117.6,171.3V177.8M141.4,169.5V177.1M149.4,173.5V176.6M163.3,172.0V176.7M173.8,168.0V178.6M184.5,175.1V179.3M213.9,174.6V177.3M238.8,174.9V177.9M263.0,175.1V177.9" fill="none" stroke="#1a1aff" stroke-width="0.75"/>
<rect x="17.7" y="16.4" width="279.3" height="178.7" fill="none" stroke="#000" stroke-width="1.2"/>
<path d="M28.87,195.1v-3.6M51.22,195.1v-3.6M73.56,195.1v-3.6M95.90,195.1v-3.6M118.25,195.1v-3.6M140.59,195.1v-3.6M162.94,195.1v-3.6M185.28,195.1v-3.6M207.62,195.1v-3.6M229.97,195.1v-3.6M252.31,195.1v-3.6M274.66,195.1v-3.6M297.00,195.1v-3.6M40.04,195.1v-1.9M62.39,195.1v-1.9M84.73,195.1v-1.9M107.08,195.1v-1.9M129.42,195.1v-1.9M151.76,195.1v-1.9M174.11,195.1v-1.9M196.45,195.1v-1.9M218.80,195.1v-1.9M241.14,195.1v-1.9M263.48,195.1v-1.9M285.83,195.1v-1.9" stroke="#000" stroke-width="1" fill="none"/>
<text x="28.9" y="207.9" font-size="10.4" text-anchor="middle" font-family="Liberation Serif, serif" font-weight="bold">20</text>
<text x="51.2" y="207.9" font-size="10.4" text-anchor="middle" font-family="Liberation Serif, serif" font-weight="bold">30</text>
<text x="73.6" y="207.9" font-size="10.4" text-anchor="middle" font-family="Liberation Serif, serif" font-weight="bold">40</text>
<text x="95.9" y="207.9" font-size="10.4" text-anchor="middle" font-family="Liberation Serif, serif" font-weight="bold">50</text>
<text x="118.2" y="207.9" font-size="10.4" text-anchor="middle" font-family="Liberation Serif, serif" font-weight="bold">60</text>
<text x="140.6" y="207.9" font-size="10.4" text-anchor="middle" font-family="Liberation Serif, serif" font-weight="bold">70</text>
<text x="162.9" y="207.9" font-size="10.4" text-anchor="middle" font-family="Liberation Serif, serif" font-weight="bold">80</text>
<text x="185.3" y="207.9" font-size="10.4" text-anchor="middle" font-family="Liberation Serif, serif" font-weight="bold">90</text>
<text x="207.6" y="207.9" font-size="10.4" text-anchor="middle" font-family="Liberation Serif, serif" font-weight="bold">100</text>
<text x="230.0" y="207.9" font-size="10.4" text-anchor="middle" font-family="Liberation Serif, serif" font-weight="bold">110</text>
<text x="252.3" y="207.9" font-size="10.4" text-anchor="middle" font-family="Liberation Serif, serif" font-weight="bold">120</text>
<text x="274.7" y="207.9" font-size="10.4" text-anchor="middle" font-family="Liberation Serif, serif" font-weight="bold">130</text>
<text x="297.0" y="207.9" font-size="10.4" text-anchor="middle" font-family="Liberation Serif, serif" font-weight="bold">140</text>
<text x="162.6" y="219.9" font-size="11.5" text-anchor="middle" font-family="Liberation Serif, serif" font-weight="bold">2<tspan font-style="italic" font-size="10">θ</tspan> (degree)</text>
<text transform="translate(9.2,97) rotate(-90)" font-size="11.3" text-anchor="middle" font-family="Liberation Serif, serif" font-weight="bold">Intensity (au)</text>
<text x="17.3" y="9.7" font-size="11.2" font-family="Liberation Sans, sans-serif" font-weight="bold">a)</text>
<circle cx="213.2" cy="26.2" r="1.15" fill="none" stroke="#23239a" stroke-width="0.5"/>
<path d="M203,39.3H223" stroke="#f4261a" stroke-width="1"/><path d="M203,52.4H223" stroke="#1a1aff" stroke-width="0.8"/><path d="M213.2,63V67.6" stroke="#3aa33a" stroke-width="0.8"/>
<text x="225.7" y="29.5" font-size="9.3" font-family="Liberation Serif, serif" font-weight="bold">Y<tspan class="s" font-size="5.6" dy="1.6">obs</tspan></text>
<text x="225.7" y="42.6" font-size="9.3" font-family="Liberation Serif, serif" font-weight="bold">Y<tspan class="s" font-size="5.6" dy="1.6">calc</tspan></text>
<text x="225.7" y="55.7" font-size="9.3" font-family="Liberation Serif, serif" font-weight="bold">Y<tspan class="s" font-size="5.6" dy="1.6">obs</tspan><tspan dy="-1.6">-Y</tspan><tspan class="s" font-size="5.6" dy="1.6">calc</tspan></text>
<text x="225.7" y="68.6" font-size="8.7" font-family="Liberation Serif, serif" font-weight="bold">Bragg Position</text>
<text x="229" y="84.4" font-size="9.3" font-family="Liberation Serif, serif" font-weight="bold">x = 0.2</text>
</g>
<g id="panelB">
<path d="M341.3,130.83L341.55,130.62L341.8,130.75L342.05,130.78L342.3,130.93L342.55,130.64L342.8,130.83L343.05,130.74L343.3,131.03L343.55,130.83L343.8,130.8L344.05,130.77L344.3,130.88L344.55,130.91L344.8,130.83L345.05,130.82L345.3,130.74L345.55,130.58L345.8,130.55L346.05,130.57L346.3,130.52L346.55,130.38L346.8,130.4L347.05,130.49L347.3,130.41L347.55,130.47L347.8,130.71L348.05,130.86L348.3,130.77L348.55,130.71L348.8,130.82L349.05,130.87L349.3,130.89L349.55,130.93L349.8,130.94L350.05,130.78L350.3,130.7L350.55,130.75L350.8,130.97L351.05,130.78L351.3,130.68L351.55,130.45L351.8,130.4L352.05,130.49L352.3,130.65L352.55,130.77L352.8,130.91L353.05,130.95L353.3,131.11L353.55,130.99L353.8,131.01L354.05,130.78L354.3,130.8L354.55,130.76L354.8,130.71L355.05,130.68L355.3,130.58L355.55,130.88L355.8,130.78L356.05,130.81L356.3,130.76L356.55,130.71L356.8,130.78L357.05,130.73L357.3,130.89L357.55,130.76L357.8,130.9L358.05,130.91L358.3,130.95L358.55,130.9L358.8,130.97L359.05,131.2L359.3,130.94L359.55,130.9L359.8,130.74L360.05,130.92L360.3,130.7L360.55,130.79L360.8,130.65L361.05,130.84L361.3,130.84L361.55,130.8L361.8,130.7L362.05,130.39L362.3,130.61L362.55,130.82L362.8,131.21L363.05,130.97L363.3,130.72L363.55,130.57L363.8,130.95L364.05,131.07L364.3,130.89L364.55,130.74L364.8,130.68L365.05,130.73L365.3,130.59L365.55,130.62L365.8,130.66L366.05,130.71L366.3,130.61L366.55,130.38L366.8,130.29L367.05,130.4L367.3,130.46L367.55,130.27L367.8,130.19L368.05,130.17L368.3,130.46L368.55,130.17L368.8,129.9L369.05,129.31L369.3,129.26L369.55,129.39L369.8,129.23L370.05,128.75L370.3,128.24L370.55,127.95L370.8,127.68L371.05,127.24L371.3,127.02L371.55,126.83L371.8,126.51L372.05,126.22L372.3,125.65L372.55,125.29L372.8,124.53L373.05,123.99L373.3,123.62L373.55,123.36L373.8,123.15L374.05,122.65L374.3,122.38L374.55,121.9L374.8,121.43L375.05,120.71L375.3,119.96L375.55,119.15L375.8,118.48L376.05,117.78L376.3,117.12L376.55,116.46L376.8,115.9L377.05,115.19L377.3,114.23L377.55,113.43L377.8,112.73L378.05,112.33L378.3,111.66L378.55,110.83L378.8,109.91L379.05,109.4L379.3,108.92L379.55,108.62L379.8,108.08L380.05,107.4L380.3,106.8L380.55,106.23L380.8,106.09L381.05,105.88L381.3,105.69L381.55,105.56L381.8,105.32L382.05,105.41L382.3,105.56L382.55,106.13L382.8,106.61L383.05,107.4L383.3,108.21L383.55,109.13L383.8,110.01L384.05,110.91L384.3,111.86L384.55,112.88L384.8,113.92L385.05,115.14L385.3,116.29L385.55,117.54L385.8,118.43L386.05,119.6L386.3,120.47L386.55,121.53L386.8,122.33L387.05,123.23L387.3,124.17L387.55,124.89L387.8,125.53L388.05,126.03L388.3,126.83L388.55,127.48L388.8,127.9L389.05,128.17L389.3,128.34L389.55,129.01L389.8,129.11L390.05,129.59L390.3,129.65L390.55,129.83L390.8,129.96L391.05,130.14L391.3,130.47L391.55,130.56L391.8,130.62L392.05,130.65L392.3,130.71L392.55,130.62L392.8,130.71L393.05,130.59L393.3,130.71L393.55,130.6L393.8,130.59L394.05,130.55L394.3,130.82L394.55,131.06L394.8,130.96L395.05,130.85L395.3,130.69L395.55,130.73L395.8,130.67L396.05,130.45L396.3,130.49L396.55,130.35L396.8,130.54L397.05,130.35L397.3,130.29L397.55,130.26L397.8,130.53L398.05,130.9L398.3,131.01L398.55,131.04L398.8,130.81L399.05,130.59L399.3,130.48L399.55,130.56L399.8,130.74L400.05,130.75L400.3,130.77L400.55,130.71L400.8,130.51L401.05,130.41L401.3,130.49L401.55,130.62L401.8,130.76L402.05,130.98L402.3,130.98L402.55,130.94L402.8,130.85L403.05,130.98L403.3,131.02L403.55,130.86L403.8,130.87L404.05,130.98L404.3,131.12L404.55,130.96L404.8,130.79L405.05,130.84L405.3,130.96L405.55,130.82L405.8,130.85L406.05,130.66L406.3,130.79L406.55,130.6L406.8,130.61L407.05,130.69L407.3,130.73L407.55,130.73L407.8,130.66L408.05,130.57L408.3,130.48L408.55,130.33L408.8,130.41L409.05,130.7L409.3,130.8L409.55,130.78L409.8,130.75L410.05,130.71L410.3,130.84L410.55,130.8L410.8,130.86L411.05,130.78L411.3,130.64L411.55,130.52L411.8,130.64L412.05,130.8L412.3,130.84L412.55,130.7L412.8,130.61L413.05,130.67L413.3,130.55L413.55,130.64L413.8,130.42L414.05,130.65L414.3,130.56L414.55,130.56L414.8,130.37L415.05,130.39L415.3,130.59L415.55,130.48L415.8,130.56L416.05,130.97L416.3,130.95L416.55,130.94L416.8,130.48L417.05,130.65L417.3,130.4L417.55,130.3L417.8,130.32L418.05,130.53L418.3,130.85L418.55,130.71L418.8,130.73L419.05,130.88L419.3,130.87L419.55,130.74L419.8,130.4L420.05,130.48L420.3,130.68L420.55,130.69L420.8,130.61L421.05,130.53L421.3,130.82L421.55,131.05L421.8,130.7L422.05,130.37L422.3,130.12L422.55,130.51L422.8,130.51L423.05,130.83L423.3,130.86L423.55,130.98L423.8,130.77L424.05,130.66L424.3,130.59L424.55,130.71L424.8,130.76L425.05,130.64L425.3,130.58L425.55,130.47L425.8,130.43L426.05,130.11L426.3,129.93L426.55,129.77L426.8,129.44L427.05,129.49L427.3,129.48L427.55,129.6L427.8,129.4L428.05,129.17L428.3,129L428.55,128.34L428.8,127.99L429.05,127.74L429.3,127.93L429.55,127.89L429.8,127.7L430.05,127.09L430.3,126.33L430.55,125.94L430.8,125.8L431.05,125.89L431.3,125.55L431.55,125.32L431.8,124.78L432.05,124.59L432.3,124.24L432.55,124.19L432.8,123.91L433.05,123.67L433.3,123.39L433.55,123.06L433.8,122.88L434.05,122.63L434.3,122.29L434.55,121.87L434.8,121.76L435.05,121.56L435.3,121.5L435.55,121.1L435.8,120.83L436.05,120.42L436.3,120.19L436.55,120.1L436.8,120.09L437.05,119.77L437.3,119.51L437.55,119.28L437.8,119.47L438.05,119.12L438.3,119.04L438.55,118.66L438.8,118.85L439.05,118.61L439.3,118.58L439.55,118.58L439.8,118.54L440.05,118.41L440.3,118.13L440.55,117.86L440.8,117.72L441.05,117.49L441.3,117.32L441.55,117.08L441.8,116.9L442.05,116.91L442.3,116.74L442.55,116.52L442.8,116.42L443.05,116.36L443.3,116.37L443.55,116.07L443.8,115.73L444.05,115.31L444.3,114.98L444.55,114.85L444.8,114.65L445.05,114.23L445.3,113.81L445.55,113.3L445.8,113.1L446.05,112.49L446.3,111.97L446.55,111.37L446.8,110.85L447.05,110.11L447.3,109.46L447.55,108.96L447.8,108.19L448.05,107.49L448.3,106.32L448.55,105.56L448.8,104.42L449.05,103.35L449.3,102.46L449.55,101.28L449.8,99.94L450.05,98.14L450.3,96.08L450.55,94.06L450.8,91.89L451.05,89.28L451.3,86.39L451.55,83.29L451.8,80.56L452.05,77.62L452.3,74.26L452.55,70.57L452.8,66.75L453.05,62.79L453.3,58.58L453.55,54.14L453.8,49.75L454.05,45.26L454.3,40.84L454.55,36.97L454.8,33.81L455.05,32.08L455.3,31.55L455.55,32.64L455.8,34.42L456.05,37.63L456.3,41.49L456.55,46.04L456.8,51.5L457.05,57.33L457.3,63.2L457.55,68.77L457.8,74.07L458.05,79.15L458.3,84.09L458.55,88.78L458.8,93.31L459.05,97.2L459.3,100.82L459.55,103.99L459.8,107.08L460.05,109.87L460.3,112.39L460.55,114.7L460.8,116.48L461.05,118.1L461.3,119.46L461.55,120.7L461.8,122.1L462.05,122.95L462.3,124.01L462.55,124.6L462.8,125.38L463.05,125.71L463.3,126.2L463.55,126.68L463.8,127.1L464.05,127.37L464.3,127.33L464.55,127.66L464.8,127.97L465.05,128.25L465.3,128.29L465.55,128.22L465.8,128.26L466.05,128.25L466.3,128.51L466.55,128.76L466.8,128.85L467.05,128.98L467.3,129.11L467.55,129.29L467.8,129.39L468.05,129.33L468.3,129.35L468.55,129.34L468.8,129.43L469.05,129.58L469.3,129.43L469.55,129.64L469.8,129.5L470.05,129.67L470.3,129.38L470.55,129.58L470.8,129.78L471.05,130.1L471.3,130.16L471.55,129.86L471.8,129.67L472.05,129.55L472.3,129.65L472.55,129.9L472.8,130L473.05,130.13L473.3,130.07L473.55,129.96L473.8,129.88L474.05,129.74L474.3,129.93L474.55,130.09L474.8,130.28L475.05,130.37L475.3,130.19L475.55,130.07L475.8,129.97L476.05,129.99L476.3,130.01L476.55,130.12L476.8,130.42L477.05,130.62L477.3,130.52L477.55,130.38L477.8,130.39L478.05,130.35L478.3,130.43L478.55,130.47L478.8,130.48L479.05,130.38L479.3,130.23L479.55,130.35L479.8,130.49L480.05,130.52L480.3,130.52L480.55,130.29L480.8,130.18L481.05,130.14L481.3,130.22L481.55,130.18L481.8,130.02L482.05,130.03L482.3,130.17L482.55,130.2L482.8,130.34L483.05,130.57L483.3,130.68L483.55,130.8L483.8,130.64L484.05,130.54L484.3,130.36" fill="none" stroke="#000" stroke-width="1.5" stroke-linejoin="round"/>
<path d="M343.50,130.8H418.40" fill="none" stroke="#8b1a9b" stroke-width="1.15"/>
<path d="M418.10,130.8H436.40" fill="none" stroke="#1d8a1d" stroke-width="1.15"/>
<path d="M436.10,130.8H452.15" fill="none" stroke="#1414ff" stroke-width="1.15"/>
<path d="M451.85,130.8H482.15" fill="none" stroke="#1d8a1d" stroke-width="1.15"/>
<path d="M481.85,130.8H484.00" fill="none" stroke="#8b1a9b" stroke-width="1.15"/>
<path d="M370.5,130.69L370.75,130.66L371,130.62L371.25,130.58L371.5,130.52L371.75,130.45L372,130.37L372.25,130.27L372.5,130.15L372.75,130L373,129.84L373.25,129.64L373.5,129.41L373.75,129.14L374,128.83L374.25,128.48L374.5,128.08L374.75,127.63L375,127.13L375.25,126.57L375.5,125.95L375.75,125.28L376,124.54L376.25,123.74L376.5,122.89L376.75,121.98L377,121.02L377.25,120.02L377.5,118.99L377.75,117.92L378,116.84L378.25,115.75L378.5,114.66L378.75,113.59L379,112.56L379.25,111.57L379.5,110.63L379.75,109.77L380,109L380.25,108.32L380.5,107.75L380.75,107.3L381,106.97L381.25,106.77L381.5,106.7L381.75,106.77L382,106.97L382.25,107.3L382.5,107.75L382.75,108.32L383,109L383.25,109.77L383.5,110.63L383.75,111.57L384,112.56L384.25,113.59L384.5,114.66L384.75,115.75L385,116.84L385.25,117.92L385.5,118.99L385.75,120.02L386,121.02L386.25,121.98L386.5,122.89L386.75,123.74L387,124.54L387.25,125.28L387.5,125.95L387.75,126.57L388,127.13L388.25,127.63L388.5,128.08L388.75,128.48L389,128.83L389.25,129.14L389.5,129.41L389.75,129.64L390,129.84L390.25,130L390.5,130.15L390.75,130.27L391,130.37L391.25,130.45L391.5,130.52L391.75,130.58L392,130.62L392.25,130.66L392.5,130.69" fill="none" stroke="#1414ff" stroke-width="1.15" stroke-linejoin="round"/>
<path d="M435.75,130.69L436,130.65L436.25,130.61L436.5,130.55L436.75,130.48L437,130.4L437.25,130.29L437.5,130.16L437.75,130.01L438,129.83L438.25,129.61L438.5,129.37L438.75,129.08L439,128.76L439.25,128.39L439.5,127.99L439.75,127.55L440,127.07L440.25,126.55L440.5,126L440.75,125.43L441,124.85L441.25,124.25L441.5,123.66L441.75,123.08L442,122.52L442.25,122.01L442.5,121.53L442.75,121.12L443,120.77L443.25,120.5L443.5,120.32L443.75,120.22L444,120.21L444.25,120.29L444.5,120.46L444.75,120.71L445,121.04L445.25,121.45L445.5,121.91L445.75,122.42L446,122.97L446.25,123.54L446.5,124.13L446.75,124.73L447,125.32L447.25,125.89L447.5,126.44L447.75,126.96L448,127.45L448.25,127.9L448.5,128.32L448.75,128.69L449,129.02L449.25,129.31L449.5,129.57L449.75,129.79L450,129.97L450.25,130.13L450.5,130.27L450.75,130.38L451,130.47L451.25,130.54L451.5,130.6L451.75,130.65L452,130.68L452.25,130.71" fill="none" stroke="#1d8a1d" stroke-width="1.15" stroke-linejoin="round"/>
<path d="M417.75,130.65L418,130.65L418.25,130.65L418.5,130.65L418.75,130.65L419,130.64L419.25,130.64L419.5,130.64L419.75,130.64L420,130.63L420.25,130.63L420.5,130.63L420.75,130.63L421,130.63L421.25,130.62L421.5,130.62L421.75,130.62L422,130.61L422.25,130.61L422.5,130.61L422.75,130.61L423,130.6L423.25,130.6L423.5,130.6L423.75,130.59L424,130.59L424.25,130.59L424.5,130.58L424.75,130.58L425,130.58L425.25,130.57L425.5,130.57L425.75,130.56L426,130.56L426.25,130.56L426.5,130.55L426.75,130.55L427,130.54L427.25,130.54L427.5,130.53L427.75,130.53L428,130.53L428.25,130.52L428.5,130.51L428.75,130.51L429,130.5L429.25,130.5L429.5,130.49L429.75,130.49L430,130.48L430.25,130.47L430.5,130.47L430.75,130.46L431,130.45L431.25,130.45L431.5,130.44L431.75,130.43L432,130.42L432.25,130.42L432.5,130.41L432.75,130.4L433,130.39L433.25,130.38L433.5,130.37L433.75,130.36L434,130.35L434.25,130.34L434.5,130.33L434.75,130.32L435,130.31L435.25,130.3L435.5,130.28L435.75,130.27L436,130.26L436.25,130.24L436.5,130.23L436.75,130.21L437,130.2L437.25,130.18L437.5,130.16L437.75,130.15L438,130.13L438.25,130.11L438.5,130.09L438.75,130.07L439,130.04L439.25,130.02L439.5,130L439.75,129.97L440,129.95L440.25,129.92L440.5,129.89L440.75,129.86L441,129.83L441.25,129.79L441.5,129.76L441.75,129.72L442,129.68L442.25,129.64L442.5,129.59L442.75,129.55L443,129.5L443.25,129.44L443.5,129.38L443.75,129.32L444,129.25L444.25,129.18L444.5,129.09L444.75,129L445,128.9L445.25,128.78L445.5,128.64L445.75,128.49L446,128.31L446.25,128.1L446.5,127.86L446.75,127.58L447,127.25L447.25,126.85L447.5,126.39L447.75,125.85L448,125.21L448.25,124.47L448.5,123.6L448.75,122.59L449,121.43L449.25,120.09L449.5,118.57L449.75,116.84L450,114.9L450.25,112.73L450.5,110.31L450.75,107.65L451,104.74L451.25,101.57L451.5,98.17L451.75,94.53L452,90.67L452.25,86.61L452.5,82.38L452.75,78.02L453,73.56L453.25,69.05L453.5,64.57L453.75,60.19L454,56.01L454.25,52.16L454.5,48.78L454.75,46.03L455,44.05L455.25,42.98L455.5,42.92L455.75,44.24L456,46.88L456.25,50.58L456.5,55.07L456.75,60.08L457,65.38L457.25,70.81L457.5,76.24L457.75,81.57L458,86.73L458.25,91.65L458.5,96.29L458.75,100.61L459,104.57L459.25,108.18L459.5,111.41L459.75,114.27L460,116.79L460.25,118.97L460.5,120.84L460.75,122.43L461,123.76L461.25,124.88L461.5,125.8L461.75,126.56L462,127.18L462.25,127.68L462.5,128.08L462.75,128.41L463,128.68L463.25,128.9L463.5,129.08L463.75,129.22L464,129.35L464.25,129.45L464.5,129.54L464.75,129.61L465,129.68L465.25,129.74L465.5,129.8L465.75,129.84L466,129.89L466.25,129.93L466.5,129.97L466.75,130L467,130.04L467.25,130.07L467.5,130.1L467.75,130.13L468,130.15L468.25,130.18L468.5,130.2L468.75,130.22L469,130.24L469.25,130.26L469.5,130.28L469.75,130.3L470,130.31L470.25,130.33L470.5,130.34L470.75,130.36L471,130.37L471.25,130.39L471.5,130.4L471.75,130.41L472,130.42L472.25,130.43L472.5,130.44L472.75,130.45L473,130.46L473.25,130.47L473.5,130.48L473.75,130.49L474,130.5L474.25,130.51L474.5,130.51L474.75,130.52L475,130.53L475.25,130.53L475.5,130.54L475.75,130.55L476,130.55L476.25,130.56L476.5,130.56L476.75,130.57L477,130.58L477.25,130.58L477.5,130.59L477.75,130.59L478,130.59L478.25,130.6L478.5,130.6L478.75,130.61L479,130.61L479.25,130.62L479.5,130.62L479.75,130.62L480,130.63L480.25,130.63L480.5,130.63L480.75,130.64L481,130.64L481.25,130.64L481.5,130.65L481.75,130.65L482,130.65L482.25,130.65" fill="none" stroke="#8b1a9b" stroke-width="1.15" stroke-linejoin="round"/>
<path d="M341.3,248.97L341.55,249.13L341.8,249.33L342.05,249.42L342.3,249.1L342.55,249.29L342.8,249.04L343.05,249.37L343.3,249.17L343.55,249.1L343.8,249.11L344.05,249.6L344.3,249.84L344.55,249.89L344.8,249.64L345.05,249.67L345.3,249.65L345.55,249.83L345.8,249.72L346.05,249.71L346.3,249.56L346.55,249.54L346.8,249.66L347.05,249.85L347.3,249.91L347.55,249.92L347.8,249.7L348.05,249.79L348.3,249.76L348.55,249.78L348.8,249.84L349.05,249.84L349.3,249.97L349.55,250.03L349.8,249.69L350.05,249.36L350.3,249.39L350.55,249.44L350.8,249.64L351.05,249.38L351.3,249.47L351.55,249.31L351.8,249.62L352.05,249.52L352.3,249.66L352.55,249.45L352.8,249.71L353.05,249.55L353.3,249.57L353.55,249.41L353.8,249.63L354.05,249.69L354.3,249.66L354.55,249.63L354.8,249.53L355.05,249.64L355.3,249.6L355.55,249.56L355.8,249.5L356.05,249.56L356.3,249.89L356.55,249.84L356.8,249.83L357.05,249.73L357.3,249.54L357.55,249.29L357.8,248.98L358.05,249.2L358.3,249.68L358.55,249.86L358.8,250.01L359.05,249.69L359.3,249.35L359.55,248.93L359.8,249.06L360.05,249.36L360.3,249.47L360.55,249.47L360.8,249.26L361.05,249.53L361.3,249.56L361.55,249.63L361.8,249.36L362.05,249.27L362.3,249.21L362.55,249.42L362.8,249.15L363.05,249.34L363.3,249.21L363.55,249.26L363.8,249.01L364.05,248.98L364.3,248.76L364.55,248.77L364.8,248.64L365.05,248.88L365.3,248.71L365.55,248.89L365.8,248.71L366.05,248.66L366.3,248.55L366.55,248.7L366.8,248.73L367.05,248.38L367.3,248.09L367.55,247.94L367.8,247.9L368.05,247.98L368.3,248L368.55,247.94L368.8,247.69L369.05,247.52L369.3,247.48L369.55,247.41L369.8,247.24L370.05,247.01L370.3,247.03L370.55,246.97L370.8,246.76L371.05,246.54L371.3,246.3L371.55,245.99L371.8,245.62L372.05,245.28L372.3,245.1L372.55,244.79L372.8,244.59L373.05,244.23L373.3,243.77L373.55,243.33L373.8,243.14L374.05,242.69L374.3,242.23L374.55,241.85L374.8,241.36L375.05,241.04L375.3,240.36L375.55,239.76L375.8,238.73L376.05,237.89L376.3,237.23L376.55,236.73L376.8,235.89L377.05,235.15L377.3,234.39L377.55,233.45L377.8,232.67L378.05,231.73L378.3,231L378.55,230.04L378.8,229.53L379.05,229.06L379.3,228.3L379.55,227.55L379.8,226.92L380.05,226.65L380.3,226.18L380.55,225.7L380.8,225.58L381.05,225.39L381.3,225.48L381.55,225.36L381.8,225.56L382.05,225.97L382.3,226.49L382.55,227.04L382.8,227.53L383.05,228.26L383.3,229.4L383.55,230.55L383.8,231.68L384.05,232.58L384.3,233.57L384.55,234.6L384.8,235.44L385.05,236.68L385.3,237.56L385.55,238.7L385.8,239.63L386.05,240.67L386.3,241.62L386.55,242.23L386.8,242.8L387.05,243.54L387.3,244.41L387.55,245.1L387.8,245.79L388.05,246.01L388.3,246.47L388.55,246.75L388.8,247.21L389.05,247.67L389.3,247.77L389.55,247.87L389.8,247.76L390.05,247.86L390.3,247.99L390.55,248.15L390.8,248.42L391.05,248.55L391.3,248.54L391.55,248.85L391.8,248.87L392.05,248.98L392.3,248.86L392.55,249.11L392.8,249.14L393.05,248.83L393.3,248.58L393.55,248.85L393.8,248.99L394.05,249.01L394.3,248.87L394.55,249.05L394.8,248.98L395.05,248.93L395.3,248.63L395.55,249.04L395.8,249.3L396.05,249.57L396.3,249.3L396.55,249.16L396.8,248.8L397.05,248.84L397.3,248.61L397.55,248.7L397.8,248.58L398.05,248.69L398.3,248.91L398.55,249.07L398.8,249.14L399.05,248.96L399.3,248.96L399.55,248.91L399.8,249.16L400.05,248.97L400.3,248.66L400.55,248.46L400.8,248.82L401.05,249.19L401.3,249.22L401.55,249.07L401.8,249.08L402.05,249.15L402.3,248.98L402.55,248.93L402.8,248.9L403.05,248.88L403.3,248.74L403.55,248.73L403.8,248.91L404.05,249.12L404.3,249.16L404.55,249.1L404.8,249.32L405.05,249.29L405.3,249.35L405.55,249.27L405.8,249.24L406.05,249.15L406.3,249.04L406.55,249.23L406.8,249.23L407.05,249.14L407.3,248.95L407.55,248.77L407.8,248.85L408.05,248.81L408.3,248.74L408.55,248.59L408.8,248.41L409.05,248.49L409.3,248.5L409.55,248.59L409.8,248.83L410.05,248.65L410.3,248.79L410.55,248.72L410.8,249.06L411.05,249.13L411.3,249.09L411.55,248.92L411.8,248.8L412.05,248.9L412.3,248.81L412.55,248.87L412.8,248.72L413.05,248.82L413.3,248.72L413.55,248.98L413.8,248.87L414.05,248.92L414.3,248.7L414.55,248.85L414.8,248.86L415.05,248.88L415.3,248.91L415.55,248.68L415.8,248.63L416.05,248.37L416.3,248.56L416.55,248.42L416.8,248.45L417.05,248.41L417.3,248.7L417.55,248.87L417.8,248.91L418.05,248.9L418.3,248.72L418.55,248.43L418.8,248.21L419.05,248.27L419.3,248.65L419.55,248.93L419.8,248.8L420.05,248.92L420.3,248.84L420.55,249.07L420.8,248.8L421.05,248.88L421.3,248.75L421.55,248.61L421.8,248.28L422.05,248.03L422.3,248.03L422.55,247.87L422.8,247.93L423.05,247.76L423.3,247.48L423.55,247.43L423.8,247.1L424.05,247.17L424.3,246.68L424.55,246.7L424.8,246.37L425.05,246.45L425.3,246.22L425.55,245.95L425.8,245.7L426.05,245.66L426.3,245.86L426.55,245.68L426.8,245.28L427.05,244.95L427.3,244.93L427.55,244.93L427.8,244.76L428.05,244.69L428.3,244.67L428.55,244.64L428.8,244.2L429.05,243.86L429.3,243.5L429.55,243.18L429.8,243L430.05,242.75L430.3,242.57L430.55,242.33L430.8,242.1L431.05,241.95L431.3,241.63L431.55,241.32L431.8,240.78L432.05,240.31L432.3,240.06L432.55,239.83L432.8,239.59L433.05,239.23L433.3,239.19L433.55,239.03L433.8,238.78L434.05,238.26L434.3,237.89L434.55,237.5L434.8,237.14L435.05,236.82L435.3,236.45L435.55,236.01L435.8,235.63L436.05,235.19L436.3,235L436.55,234.33L436.8,234.04L437.05,233.55L437.3,233.32L437.55,232.82L437.8,232.92L438.05,232.78L438.3,232.81L438.55,232.48L438.8,232.31L439.05,232.18L439.3,231.74L439.55,231.63L439.8,231.36L440.05,231.37L440.3,231.13L440.55,230.74L440.8,230.15L441.05,229.67L441.3,229.56L441.55,229.47L441.8,229.29L442.05,228.63L442.3,227.95L442.55,227.53L442.8,227.43L443.05,227.37L443.3,227.17L443.55,226.87L443.8,226.47L444.05,225.98L444.3,225.67L444.55,225.47L444.8,225.22L445.05,225.13L445.3,224.73L445.55,224.37L445.8,223.56L446.05,223.09L446.3,222.63L446.55,222.28L446.8,221.77L447.05,221.23L447.3,220.66L447.55,219.98L447.8,219.07L448.05,218.82L448.3,218.55L448.55,218.22L448.8,216.9L449.05,215.66L449.3,214.65L449.55,213.19L449.8,211.82L450.05,210.14L450.3,208.7L450.55,206.85L450.8,204.52L451.05,202.27L451.3,199.24L451.55,195.97L451.8,192.32L452.05,188.97L452.3,185.31L452.55,181.46L452.8,177.21L453.05,173.04L453.3,169.12L453.55,165.58L453.8,162.45L454.05,159.24L454.3,156.5L454.55,154.38L454.8,153.28L455.05,153.09L455.3,153.69L455.55,154.8L455.8,156.88L456.05,159.78L456.3,163.69L456.55,168.07L456.8,172.96L457.05,178.24L457.3,183.56L457.55,188.84L457.8,193.78L458.05,198.74L458.3,203.5L458.55,208.03L458.8,212.69L459.05,217.27L459.3,222.07L459.55,226.07L459.8,229.61L460.05,232.42L460.3,234.79L460.55,236.68L460.8,238.07L461.05,239.67L461.3,240.7L461.55,241.83L461.8,242.49L462.05,243.37L462.3,244.03L462.55,244.52L462.8,245.06L463.05,245.43L463.3,246.04L463.55,246.1L463.8,246.37L464.05,246.24L464.3,246.52L464.55,246.73L464.8,247.12L465.05,247.26L465.3,247.28L465.55,247.33L465.8,247.59L466.05,248.01L466.3,248.15L466.55,248.2L466.8,248.03L467.05,248.02L467.3,248.05L467.55,248.01L467.8,248.06L468.05,248.14L468.3,248.34L468.55,248.36L468.8,248.65L469.05,248.83L469.3,249.06L469.55,248.87L469.8,248.74L470.05,248.67L470.3,248.84L470.55,248.99L470.8,249.06L471.05,249.2L471.3,249.32L471.55,249.27L471.8,249.14L472.05,249.06L472.3,249.21L472.55,249.14L472.8,249.21L473.05,249.29L473.3,249.44L473.55,249.37L473.8,249.22L474.05,249.25L474.3,249.42L474.55,249.6L474.8,249.58L475.05,249.37L475.3,249.45L475.55,249.51L475.8,249.71L476.05,249.59L476.3,249.44L476.55,249.36L476.8,249.36L477.05,249.6L477.3,249.65L477.55,249.26L477.8,249.11L478.05,249.15L478.3,249.66L478.55,249.77L478.8,250.02L479.05,250.02L479.3,250.09L479.55,249.9L479.8,249.56L480.05,249.49L480.3,249.43L480.55,249.52L480.8,249.47L481.05,249.43L481.3,249.42L481.55,249.31L481.8,249.21L482.05,249.27L482.3,249.21L482.55,249.29L482.8,249.02" fill="none" stroke="#000" stroke-width="1.5" stroke-linejoin="round"/>
<path d="M343.50,248.7H421.40" fill="none" stroke="#8b1a9b" stroke-width="1.15"/>
<path d="M421.10,248.7H457.90" fill="none" stroke="#1414ff" stroke-width="1.15"/>
<path d="M457.60,248.7H484.00" fill="none" stroke="#1d8a1d" stroke-width="1.15"/>
<path d="M370.25,248.6L370.5,248.58L370.75,248.54L371,248.5L371.25,248.45L371.5,248.39L371.75,248.32L372,248.23L372.25,248.12L372.5,248L372.75,247.85L373,247.67L373.25,247.46L373.5,247.22L373.75,246.95L374,246.63L374.25,246.28L374.5,245.87L374.75,245.42L375,244.91L375.25,244.35L375.5,243.74L375.75,243.07L376,242.35L376.25,241.57L376.5,240.75L376.75,239.87L377,238.96L377.25,238.01L377.5,237.03L377.75,236.04L378,235.03L378.25,234.03L378.5,233.04L378.75,232.08L379,231.16L379.25,230.29L379.5,229.48L379.75,228.75L380,228.11L380.25,227.56L380.5,227.12L380.75,226.8L381,226.59L381.25,226.5L381.5,226.54L381.75,226.7L382,226.98L382.25,227.37L382.5,227.88L382.75,228.49L383,229.18L383.25,229.96L383.5,230.81L383.75,231.71L384,232.66L384.25,233.64L384.5,234.63L384.75,235.64L385,236.64L385.25,237.62L385.5,238.58L385.75,239.51L386,240.4L386.25,241.25L386.5,242.04L386.75,242.79L387,243.48L387.25,244.11L387.5,244.7L387.75,245.22L388,245.7L388.25,246.12L388.5,246.5L388.75,246.83L389,247.12L389.25,247.37L389.5,247.59L389.75,247.78L390,247.94L390.25,248.07L390.5,248.19L390.75,248.28L391,248.36L391.25,248.43L391.5,248.48L391.75,248.53L392,248.56L392.25,248.59" fill="none" stroke="#1414ff" stroke-width="1.15" stroke-linejoin="round"/>
<path d="M420.5,248.58L420.75,248.56L421,248.55L421.25,248.53L421.5,248.5L421.75,248.48L422,248.45L422.25,248.42L422.5,248.38L422.75,248.34L423,248.3L423.25,248.25L423.5,248.2L423.75,248.14L424,248.08L424.25,248.01L424.5,247.93L424.75,247.85L425,247.76L425.25,247.66L425.5,247.56L425.75,247.44L426,247.32L426.25,247.19L426.5,247.05L426.75,246.89L427,246.73L427.25,246.56L427.5,246.37L427.75,246.18L428,245.97L428.25,245.75L428.5,245.51L428.75,245.27L429,245.01L429.25,244.74L429.5,244.46L429.75,244.16L430,243.86L430.25,243.54L430.5,243.21L430.75,242.87L431,242.52L431.25,242.15L431.5,241.78L431.75,241.41L432,241.02L432.25,240.63L432.5,240.23L432.75,239.83L433,239.42L433.25,239.02L433.5,238.61L433.75,238.2L434,237.8L434.25,237.4L434.5,237.01L434.75,236.62L435,236.25L435.25,235.88L435.5,235.53L435.75,235.19L436,234.86L436.25,234.55L436.5,234.26L436.75,233.99L437,233.74L437.25,233.51L437.5,233.31L437.75,233.13L438,232.97L438.25,232.84L438.5,232.74L438.75,232.67L439,232.62L439.25,232.6L439.5,232.61L439.75,232.65L440,232.71L440.25,232.8L440.5,232.92L440.75,233.06L441,233.23L441.25,233.43L441.5,233.65L441.75,233.89L442,234.15L442.25,234.43L442.5,234.73L442.75,235.05L443,235.39L443.25,235.74L443.5,236.1L443.75,236.47L444,236.85L444.25,237.24L444.5,237.64L444.75,238.04L445,238.45L445.25,238.85L445.5,239.26L445.75,239.67L446,240.07L446.25,240.47L446.5,240.86L446.75,241.25L447,241.63L447.25,242.01L447.5,242.37L447.75,242.73L448,243.07L448.25,243.41L448.5,243.73L448.75,244.04L449,244.34L449.25,244.63L449.5,244.9L449.75,245.17L450,245.42L450.25,245.65L450.5,245.88L450.75,246.09L451,246.29L451.25,246.48L451.5,246.66L451.75,246.83L452,246.99L452.25,247.13L452.5,247.27L452.75,247.39L453,247.51L453.25,247.62L453.5,247.72L453.75,247.81L454,247.9L454.25,247.98L454.5,248.05L454.75,248.12L455,248.18L455.25,248.23L455.5,248.28L455.75,248.32L456,248.37L456.25,248.4L456.5,248.44L456.75,248.47L457,248.49L457.25,248.52L457.5,248.54L457.75,248.56L458,248.57" fill="none" stroke="#1d8a1d" stroke-width="1.15" stroke-linejoin="round"/>
<path d="M420.75,248.55L421,248.55L421.25,248.55L421.5,248.55L421.75,248.54L422,248.54L422.25,248.54L422.5,248.54L422.75,248.53L423,248.53L423.25,248.53L423.5,248.53L423.75,248.52L424,248.52L424.25,248.52L424.5,248.51L424.75,248.51L425,248.51L425.25,248.51L425.5,248.5L425.75,248.5L426,248.49L426.25,248.49L426.5,248.49L426.75,248.48L427,248.48L427.25,248.48L427.5,248.47L427.75,248.47L428,248.46L428.25,248.46L428.5,248.45L428.75,248.45L429,248.45L429.25,248.44L429.5,248.44L429.75,248.43L430,248.43L430.25,248.42L430.5,248.41L430.75,248.41L431,248.4L431.25,248.4L431.5,248.39L431.75,248.38L432,248.38L432.25,248.37L432.5,248.36L432.75,248.35L433,248.35L433.25,248.34L433.5,248.33L433.75,248.32L434,248.31L434.25,248.3L434.5,248.29L434.75,248.28L435,248.27L435.25,248.26L435.5,248.25L435.75,248.24L436,248.23L436.25,248.22L436.5,248.2L436.75,248.19L437,248.18L437.25,248.16L437.5,248.15L437.75,248.13L438,248.11L438.25,248.1L438.5,248.08L438.75,248.06L439,248.04L439.25,248.02L439.5,248L439.75,247.98L440,247.95L440.25,247.93L440.5,247.9L440.75,247.87L441,247.85L441.25,247.82L441.5,247.78L441.75,247.75L442,247.71L442.25,247.68L442.5,247.64L442.75,247.59L443,247.55L443.25,247.5L443.5,247.45L443.75,247.39L444,247.33L444.25,247.26L444.5,247.19L444.75,247.1L445,247.01L445.25,246.91L445.5,246.79L445.75,246.65L446,246.49L446.25,246.3L446.5,246.08L446.75,245.82L447,245.51L447.25,245.15L447.5,244.71L447.75,244.19L448,243.58L448.25,242.85L448.5,241.99L448.75,240.99L449,239.82L449.25,238.46L449.5,236.9L449.75,235.12L450,233.1L450.25,230.83L450.5,228.3L450.75,225.49L451,222.41L451.25,219.06L451.5,215.44L451.75,211.57L452,207.47L452.25,203.17L452.5,198.7L452.75,194.09L453,189.41L453.25,184.72L453.5,180.11L453.75,175.69L454,171.6L454.25,168.01L454.5,165.11L454.75,163.09L455,162.09L455.25,162.2L455.5,163.41L455.75,165.63L456,168.68L456.25,172.38L456.5,176.55L456.75,181.02L457,185.66L457.25,190.35L457.5,195.02L457.75,199.6L458,204.05L458.25,208.31L458.5,212.37L458.75,216.18L459,219.75L459.25,223.05L459.5,226.07L459.75,228.82L460,231.31L460.25,233.53L460.5,235.5L460.75,237.23L461,238.75L461.25,240.07L461.5,241.2L461.75,242.18L462,243L462.25,243.71L462.5,244.3L462.75,244.8L463,245.23L463.25,245.58L463.5,245.88L463.75,246.13L464,246.34L464.25,246.52L464.5,246.68L464.75,246.81L465,246.93L465.25,247.03L465.5,247.12L465.75,247.2L466,247.28L466.25,247.34L466.5,247.4L466.75,247.46L467,247.51L467.25,247.56L467.5,247.6L467.75,247.64L468,247.68L468.25,247.72L468.5,247.76L468.75,247.79L469,247.82L469.25,247.85L469.5,247.88L469.75,247.91L470,247.93L470.25,247.96L470.5,247.98L470.75,248L471,248.02L471.25,248.04L471.5,248.06L471.75,248.08L472,248.1L472.25,248.12L472.5,248.13L472.75,248.15L473,248.16L473.25,248.18L473.5,248.19L473.75,248.21L474,248.22L474.25,248.23L474.5,248.24L474.75,248.25L475,248.26L475.25,248.28L475.5,248.29L475.75,248.3L476,248.31L476.25,248.31L476.5,248.32L476.75,248.33L477,248.34L477.25,248.35L477.5,248.36L477.75,248.36L478,248.37L478.25,248.38L478.5,248.38L478.75,248.39L479,248.4L479.25,248.4L479.5,248.41L479.75,248.42L480,248.42L480.25,248.43L480.5,248.43L480.75,248.44L481,248.44L481.25,248.45L481.5,248.45L481.75,248.46L482,248.46L482.25,248.46L482.5,248.47L482.75,248.47L483,248.48L483.25,248.48L483.5,248.48L483.75,248.49L484,248.49" fill="none" stroke="#8b1a9b" stroke-width="1.15" stroke-linejoin="round"/>
<path d="M341.6,365.6L341.85,365.83L342.1,365.67L342.35,365.79L342.6,365.32L342.85,365.41L343.1,365.3L343.35,365.39L343.6,365.48L343.85,365.55L344.1,365.49L344.35,365.43L344.6,365.25L344.85,365.12L345.1,365.09L345.35,365L345.6,365.47L345.85,365.34L346.1,365.68L346.35,365.37L346.6,365.75L346.85,365.53L347.1,365.61L347.35,365.36L347.6,365.31L347.85,365.35L348.1,365.36L348.35,365.04L348.6,364.5L348.85,363.69L349.1,363.53L349.35,363.67L349.6,363.97L349.85,363.88L350.1,363.54L350.35,363.21L350.6,362.97L350.85,362.88L351.1,362.5L351.35,362.44L351.6,361.95L351.85,361.97L352.1,361.54L352.35,361.48L352.6,361.13L352.85,360.84L353.1,360.65L353.35,360.43L353.6,360.75L353.85,360.5L354.1,360.34L354.35,359.65L354.6,359.31L354.85,358.79L355.1,358.58L355.35,358.54L355.6,358.42L355.85,358.2L356.1,357.71L356.35,357.68L356.6,357.48L356.85,357.51L357.1,357.36L357.35,357.01L357.6,356.89L357.85,356.6L358.1,356.61L358.35,356.45L358.6,356.34L358.85,355.97L359.1,355.84L359.35,355.6L359.6,355.56L359.85,355.2L360.1,355.41L360.35,355.45L360.6,355.22L360.85,355.16L361.1,355.46L361.35,356.04L361.6,355.82L361.85,355.5L362.1,355.29L362.35,355.49L362.6,355.47L362.85,355.22L363.1,355.18L363.35,355.27L363.6,355.23L363.85,355.07L364.1,355.04L364.35,355.27L364.6,355.44L364.85,355.56L365.1,355.68L365.35,355.62L365.6,355.32L365.85,355.34L366.1,355.57L366.35,356.05L366.6,355.94L366.85,355.72L367.1,355.63L367.35,355.86L367.6,355.93L367.85,355.85L368.1,355.56L368.35,355.63L368.6,355.42L368.85,355.52L369.1,355.41L369.35,355.45L369.6,355.12L369.85,354.96L370.1,355.02L370.35,355.24L370.6,355.21L370.85,355.11L371.1,355.08L371.35,355.09L371.6,354.7L371.85,354.36L372.1,353.91L372.35,353.6L372.6,353.05L372.85,352.75L373.1,352.42L373.35,352.63L373.6,352.27L373.85,351.98L374.1,351.16L374.35,350.97L374.6,350.32L374.85,349.77L375.1,348.75L375.35,348.23L375.6,347.58L375.85,347.16L376.1,346.24L376.35,345.48L376.6,344.77L376.85,344.12L377.1,343.31L377.35,342.17L377.6,341.14L377.85,340.5L378.1,340.23L378.35,340.05L378.6,339.37L378.85,338.91L379.1,338.79L379.35,339.14L379.6,339.3L379.85,339.43L380.1,339.66L380.35,339.69L380.6,340.46L380.85,341.13L381.1,342.38L381.35,343.29L381.6,344.21L381.85,345.08L382.1,345.87L382.35,346.73L382.6,347.87L382.85,349.17L383.1,350.44L383.35,351.65L383.6,352.69L383.85,353.92L384.1,354.66L384.35,355.31L384.6,356.27L384.85,357.36L385.1,358.45L385.35,359.08L385.6,359.72L385.85,360.44L386.1,361.11L386.35,361.49L386.6,362.22L386.85,362.61L387.1,363.34L387.35,363.6L387.6,364.22L387.85,364.33L388.1,364.82L388.35,365.1L388.6,365.66L388.85,365.84L389.1,365.78L389.35,365.31L389.6,365.27L389.85,365.66L390.1,366.36L390.35,366.27L390.6,366.09L390.85,365.97L391.1,365.78L391.35,365.69L391.6,365.55L391.85,366.05L392.1,366.04L392.35,366.37L392.6,366.13L392.85,365.98L393.1,366.09L393.35,365.95L393.6,366.3L393.85,366.23L394.1,366.3L394.35,366.02L394.6,365.92L394.85,366.01L395.1,366.01L395.35,365.69L395.6,365.62L395.85,365.95L396.1,366.06L396.35,366.22L396.6,366.32L396.85,366.55L397.1,366.66L397.35,366.59L397.6,366.16L397.85,366.12L398.1,365.98L398.35,366.2L398.6,365.85L398.85,365.56L399.1,365.41L399.35,365.57L399.6,365.63L399.85,365.67L400.1,365.58L400.35,365.85L400.6,365.92L400.85,365.99L401.1,366.09L401.35,366.08L401.6,366.19L401.85,365.83L402.1,365.92L402.35,365.85L402.6,366.03L402.85,365.91L403.1,365.73L403.35,365.66L403.6,365.65L403.85,365.96L404.1,366.14L404.35,366.02L404.6,365.96L404.85,365.74L405.1,365.99L405.35,365.82L405.6,365.66L405.85,365.74L406.1,365.88L406.35,365.91L406.6,365.47L406.85,365.31L407.1,365.31L407.35,365.54L407.6,365.7L407.85,366.1L408.1,366.09L408.35,366.2L408.6,366.15L408.85,366.13L409.1,365.66L409.35,365.61L409.6,365.76L409.85,366.36L410.1,366.44L410.35,366.46L410.6,366.35L410.85,365.97L411.1,365.88L411.35,365.58L411.6,365.99L411.85,366.04L412.1,365.62L412.35,365.56L412.6,365.33L412.85,365.9L413.1,365.62L413.35,365.78L413.6,365.76L413.85,365.85L414.1,365.67L414.35,365.78L414.6,365.8L414.85,365.94L415.1,365.83L415.35,365.69L415.6,365.97L415.85,365.89L416.1,366.02L416.35,365.78L416.6,365.61L416.85,365.37L417.1,365.35L417.35,365.53L417.6,365.91L417.85,365.94L418.1,365.72L418.35,365.59L418.6,365.65L418.85,365.97L419.1,365.95L419.35,365.65L419.6,365.68L419.85,365.53L420.1,365.81L420.35,365.4L420.6,365.62L420.85,365.41L421.1,365.79L421.35,365.92L421.6,366.17L421.85,365.78L422.1,365.31L422.35,364.91L422.6,365.08L422.85,365.15L423.1,365.17L423.35,364.96L423.6,364.83L423.85,364.72L424.1,364.72L424.35,364.39L424.6,364.05L424.85,363.2L425.1,362.66L425.35,362.13L425.6,361.81L425.85,361.59L426.1,361.38L426.35,360.99L426.6,360.37L426.85,359.6L427.1,359.14L427.35,358.58L427.6,358.17L427.85,357.63L428.1,357.21L428.35,356.71L428.6,356.13L428.85,355.56L429.1,355.18L429.35,354.63L429.6,354.18L429.85,353.36L430.1,352.72L430.35,351.94L430.6,351.22L430.85,350.69L431.1,350.06L431.35,349.51L431.6,349.09L431.85,348.57L432.1,348.22L432.35,347.51L432.6,347.11L432.85,346.32L433.1,345.79L433.35,345.56L433.6,345.29L433.85,344.96L434.1,344.15L434.35,343.72L434.6,342.99L434.85,342.46L435.1,342.07L435.35,342.09L435.6,341.91L435.85,341.61L436.1,341.25L436.35,341.11L436.6,340.8L436.85,340.51L437.1,340.42L437.35,340.26L437.6,340.27L437.85,340.13L438.1,340.18L438.35,340.3L438.6,340.26L438.85,340.32L439.1,340.06L439.35,339.94L439.6,339.96L439.85,340.11L440.1,340.11L440.35,340.06L440.6,340.03L440.85,340.14L441.1,340.37L441.35,340.34L441.6,340.46L441.85,340.38L442.1,340.51L442.35,340.36L442.6,340.48L442.85,340.59L443.1,340.79L443.35,340.69L443.6,340.64L443.85,340.46L444.1,340.46L444.35,340.13L444.6,340.2L444.85,339.87L445.1,340.01L445.35,340.02L445.6,340.06L445.85,339.85L446.1,339.57L446.35,339.23L446.6,338.81L446.85,338.14L447.1,337.75L447.35,337.11L447.6,336.25L447.85,334.64L448.1,333.16L448.35,331.09L448.6,329.16L448.85,326.22L449.1,323.44L449.35,319.25L449.6,315.22L449.85,310.31L450.1,305.36L450.35,300.14L450.6,295.33L450.85,291.1L451.1,286.54L451.35,282.22L451.6,278.17L451.85,274.95L452.1,272.21L452.35,270.74L452.6,269.88L452.85,269.85L453.1,270.35L453.35,272.15L453.6,274.88L453.85,278.3L454.1,282.94L454.35,288.34L454.6,295.28L454.85,302.95L455.1,311.7L455.35,319.85L455.6,327.33L455.85,333.93L456.1,339.9L456.35,345.02L456.6,349.07L456.85,352.17L457.1,354.42L457.35,356.14L457.6,357.43L457.85,358.61L458.1,358.95L458.35,359.38L458.6,359.78L458.85,360.48L459.1,360.81L459.35,360.9L459.6,361.19L459.85,361.39L460.1,361.68L460.35,361.8L460.6,362.22L460.85,362.47L461.1,363.01L461.35,363.19L461.6,363.48L461.85,363.75L462.1,364.09L462.35,364.26L462.6,364.57L462.85,365.04L463.1,365.49L463.35,365.62L463.6,365.63L463.85,366.21L464.1,366.14L464.35,366.29L464.6,365.69L464.85,365.82L465.1,366.14L465.35,366.38L465.6,366.54L465.85,366.24L466.1,366.51L466.35,366.44L466.6,366.32L466.85,366.16L467.1,366.07L467.35,366.34L467.6,366.24L467.85,366.33L468.1,366.25L468.35,366.09L468.6,365.83L468.85,365.95L469.1,366.06L469.35,366.33L469.6,366.11L469.85,365.82L470.1,365.58L470.35,365.85L470.6,366.03L470.85,366.16L471.1,365.72L471.35,365.75L471.6,365.75L471.85,365.93L472.1,365.99L472.35,365.94L472.6,365.88L472.85,365.88L473.1,366.01L473.35,366.07L473.6,366.32L473.85,366.29L474.1,366.33L474.35,365.96L474.6,366.07L474.85,365.88L475.1,365.72L475.35,365.41L475.6,365.64L475.85,365.7L476.1,366.03L476.35,365.92L476.6,365.85L476.85,365.61L477.1,365.87L477.35,365.95L477.6,365.77L477.85,365.57L478.1,365.88L478.35,366.22L478.6,366.08L478.85,365.9L479.1,365.78L479.35,365.99L479.6,366.27L479.85,366.19L480.1,366.2L480.35,365.81L480.6,365.9L480.85,365.55L481.1,365.47L481.35,365.43L481.6,365.42L481.85,365.66L482.1,365.5L482.35,365.64" fill="none" stroke="#000" stroke-width="1.6" stroke-linejoin="round"/>
<path d="M343.50,365.6H421.90" fill="none" stroke="#8b1a9b" stroke-width="1.15"/>
<path d="M421.60,365.6H457.15" fill="none" stroke="#1414ff" stroke-width="1.15"/>
<path d="M456.85,365.6H482.00" fill="none" stroke="#1d8a1d" stroke-width="1.15"/>
<path d="M346,365.48L346.25,365.46L346.5,365.44L346.75,365.42L347,365.39L347.25,365.36L347.5,365.33L347.75,365.3L348,365.26L348.25,365.22L348.5,365.17L348.75,365.12L349,365.07L349.25,365.01L349.5,364.94L349.75,364.87L350,364.79L350.25,364.7L350.5,364.61L350.75,364.51L351,364.41L351.25,364.29L351.5,364.17L351.75,364.04L352,363.9L352.25,363.75L352.5,363.59L352.75,363.43L353,363.26L353.25,363.07L353.5,362.88L353.75,362.68L354,362.47L354.25,362.26L354.5,362.03L354.75,361.8L355,361.57L355.25,361.32L355.5,361.08L355.75,360.82L356,360.57L356.25,360.31L356.5,360.05L356.75,359.79L357,359.52L357.25,359.26L357.5,359.01L357.75,358.75L358,358.5L358.25,358.26L358.5,358.02L358.75,357.8L359,357.58L359.25,357.37L359.5,357.18L359.75,357L360,356.83L360.25,356.68L360.5,356.54L360.75,356.42L361,356.32L361.25,356.24L361.5,356.18L361.75,356.13L362,356.11L362.25,356.1L362.5,356.11L362.75,356.15L363,356.2L363.25,356.27L363.5,356.36L363.75,356.47L364,356.6L364.25,356.74L364.5,356.9L364.75,357.07L365,357.25L365.25,357.45L365.5,357.66L365.75,357.89L366,358.12L366.25,358.36L366.5,358.6L366.75,358.85L367,359.11L367.25,359.37L367.5,359.63L367.75,359.89L368,360.15L368.25,360.41L368.5,360.67L368.75,360.93L369,361.18L369.25,361.42L369.5,361.66L369.75,361.9L370,362.12L370.25,362.35L370.5,362.56L370.75,362.76L371,362.96L371.25,363.15L371.5,363.33L371.75,363.5L372,363.66L372.25,363.81L372.5,363.96L372.75,364.09L373,364.22L373.25,364.34L373.5,364.45L373.75,364.55L374,364.65L374.25,364.74L374.5,364.82L374.75,364.9L375,364.97L375.25,365.03L375.5,365.09L375.75,365.14L376,365.19L376.25,365.24L376.5,365.28L376.75,365.31L377,365.35L377.25,365.38L377.5,365.4L377.75,365.43L378,365.45L378.25,365.47L378.5,365.48" fill="none" stroke="#ff2a1a" stroke-width="1.15" stroke-linejoin="round"/>
<path d="M366,365.49L366.25,365.46L366.5,365.44L366.75,365.4L367,365.36L367.25,365.31L367.5,365.25L367.75,365.19L368,365.11L368.25,365.02L368.5,364.91L368.75,364.79L369,364.65L369.25,364.5L369.5,364.32L369.75,364.12L370,363.89L370.25,363.63L370.5,363.34L370.75,363.03L371,362.67L371.25,362.29L371.5,361.86L371.75,361.39L372,360.89L372.25,360.34L372.5,359.76L372.75,359.13L373,358.46L373.25,357.75L373.5,357L373.75,356.21L374,355.39L374.25,354.54L374.5,353.67L374.75,352.77L375,351.86L375.25,350.93L375.5,350L375.75,349.08L376,348.16L376.25,347.27L376.5,346.4L376.75,345.56L377,344.76L377.25,344.01L377.5,343.32L377.75,342.69L378,342.12L378.25,341.64L378.5,341.24L378.75,340.92L379,340.69L379.25,340.55L379.5,340.5L379.75,340.55L380,340.69L380.25,340.92L380.5,341.24L380.75,341.64L381,342.12L381.25,342.69L381.5,343.32L381.75,344.01L382,344.76L382.25,345.56L382.5,346.4L382.75,347.27L383,348.16L383.25,349.08L383.5,350L383.75,350.93L384,351.86L384.25,352.77L384.5,353.67L384.75,354.54L385,355.39L385.25,356.21L385.5,357L385.75,357.75L386,358.46L386.25,359.13L386.5,359.76L386.75,360.34L387,360.89L387.25,361.39L387.5,361.86L387.75,362.29L388,362.67L388.25,363.03L388.5,363.34L388.75,363.63L389,363.89L389.25,364.12L389.5,364.32L389.75,364.5L390,364.65L390.25,364.79L390.5,364.91L390.75,365.02L391,365.11L391.25,365.19L391.5,365.25L391.75,365.31L392,365.36L392.25,365.4L392.5,365.44L392.75,365.46L393,365.49" fill="none" stroke="#1414ff" stroke-width="1.15" stroke-linejoin="round"/>
<path d="M420.5,365.48L420.75,365.46L421,365.44L421.25,365.41L421.5,365.38L421.75,365.35L422,365.32L422.25,365.28L422.5,365.24L422.75,365.19L423,365.13L423.25,365.07L423.5,365.01L423.75,364.93L424,364.85L424.25,364.76L424.5,364.66L424.75,364.55L425,364.43L425.25,364.3L425.5,364.16L425.75,364.01L426,363.84L426.25,363.66L426.5,363.46L426.75,363.25L427,363.02L427.25,362.78L427.5,362.51L427.75,362.23L428,361.94L428.25,361.62L428.5,361.28L428.75,360.93L429,360.55L429.25,360.16L429.5,359.75L429.75,359.31L430,358.86L430.25,358.39L430.5,357.9L430.75,357.4L431,356.87L431.25,356.34L431.5,355.78L431.75,355.22L432,354.64L432.25,354.06L432.5,353.46L432.75,352.86L433,352.26L433.25,351.65L433.5,351.04L433.75,350.44L434,349.84L434.25,349.25L434.5,348.67L434.75,348.11L435,347.56L435.25,347.03L435.5,346.52L435.75,346.03L436,345.57L436.25,345.14L436.5,344.73L436.75,344.37L437,344.03L437.25,343.74L437.5,343.48L437.75,343.26L438,343.08L438.25,342.95L438.5,342.86L438.75,342.81L439,342.8L439.25,342.84L439.5,342.93L439.75,343.05L440,343.22L440.25,343.43L440.5,343.68L440.75,343.97L441,344.3L441.25,344.66L441.5,345.05L441.75,345.48L442,345.93L442.25,346.42L442.5,346.92L442.75,347.45L443,348L443.25,348.56L443.5,349.14L443.75,349.72L444,350.32L444.25,350.92L444.5,351.53L444.75,352.13L445,352.74L445.25,353.34L445.5,353.94L445.75,354.53L446,355.1L446.25,355.67L446.5,356.23L446.75,356.77L447,357.29L447.25,357.8L447.5,358.29L447.75,358.77L448,359.23L448.25,359.66L448.5,360.08L448.75,360.48L449,360.86L449.25,361.21L449.5,361.55L449.75,361.87L450,362.18L450.25,362.46L450.5,362.73L450.75,362.97L451,363.2L451.25,363.42L451.5,363.62L451.75,363.8L452,363.97L452.25,364.13L452.5,364.28L452.75,364.41L453,364.53L453.25,364.64L453.5,364.74L453.75,364.83L454,364.92L454.25,364.99L454.5,365.06L454.75,365.12L455,365.18L455.25,365.23L455.5,365.27L455.75,365.31L456,365.35L456.25,365.38L456.5,365.41L456.75,365.43L457,365.45L457.25,365.47" fill="none" stroke="#1d8a1d" stroke-width="1.15" stroke-linejoin="round"/>
<path d="M421.25,365.45L421.5,365.45L421.75,365.45L422,365.45L422.25,365.44L422.5,365.44L422.75,365.44L423,365.44L423.25,365.43L423.5,365.43L423.75,365.43L424,365.42L424.25,365.42L424.5,365.42L424.75,365.42L425,365.41L425.25,365.41L425.5,365.41L425.75,365.4L426,365.4L426.25,365.39L426.5,365.39L426.75,365.39L427,365.38L427.25,365.38L427.5,365.38L427.75,365.37L428,365.37L428.25,365.36L428.5,365.36L428.75,365.35L429,365.35L429.25,365.34L429.5,365.34L429.75,365.33L430,365.33L430.25,365.32L430.5,365.31L430.75,365.31L431,365.3L431.25,365.3L431.5,365.29L431.75,365.28L432,365.27L432.25,365.27L432.5,365.26L432.75,365.25L433,365.24L433.25,365.24L433.5,365.23L433.75,365.22L434,365.21L434.25,365.2L434.5,365.19L434.75,365.18L435,365.17L435.25,365.15L435.5,365.14L435.75,365.13L436,365.12L436.25,365.1L436.5,365.09L436.75,365.08L437,365.06L437.25,365.04L437.5,365.03L437.75,365.01L438,364.99L438.25,364.97L438.5,364.95L438.75,364.93L439,364.91L439.25,364.89L439.5,364.86L439.75,364.84L440,364.81L440.25,364.78L440.5,364.75L440.75,364.72L441,364.69L441.25,364.65L441.5,364.62L441.75,364.57L442,364.53L442.25,364.48L442.5,364.43L442.75,364.38L443,364.31L443.25,364.24L443.5,364.16L443.75,364.08L444,363.97L444.25,363.86L444.5,363.72L444.75,363.56L445,363.37L445.25,363.14L445.5,362.87L445.75,362.55L446,362.17L446.25,361.72L446.5,361.18L446.75,360.55L447,359.8L447.25,358.92L447.5,357.9L447.75,356.71L448,355.34L448.25,353.77L448.5,351.99L448.75,349.98L449,347.73L449.25,345.23L449.5,342.48L449.75,339.47L450,336.22L450.25,332.72L450.5,328.99L450.75,325.06L451,320.96L451.25,316.71L451.5,312.35L451.75,307.94L452,303.54L452.25,299.21L452.5,295.05L452.75,291.16L453,287.67L453.25,284.73L453.5,282.49L453.75,281.08L454,280.6L454.25,281.08L454.5,282.49L454.75,284.73L455,287.67L455.25,291.16L455.5,295.05L455.75,299.21L456,303.54L456.25,307.94L456.5,312.35L456.75,316.71L457,320.96L457.25,325.06L457.5,328.99L457.75,332.72L458,336.22L458.25,339.47L458.5,342.48L458.75,345.23L459,347.73L459.25,349.98L459.5,351.99L459.75,353.77L460,355.34L460.25,356.71L460.5,357.9L460.75,358.92L461,359.8L461.25,360.55L461.5,361.18L461.75,361.72L462,362.17L462.25,362.55L462.5,362.87L462.75,363.14L463,363.37L463.25,363.56L463.5,363.72L463.75,363.86L464,363.97L464.25,364.08L464.5,364.16L464.75,364.24L465,364.31L465.25,364.38L465.5,364.43L465.75,364.48L466,364.53L466.25,364.57L466.5,364.62L466.75,364.65L467,364.69L467.25,364.72L467.5,364.75L467.75,364.78L468,364.81L468.25,364.84L468.5,364.86L468.75,364.89L469,364.91L469.25,364.93L469.5,364.95L469.75,364.97L470,364.99L470.25,365.01L470.5,365.03L470.75,365.04L471,365.06L471.25,365.08L471.5,365.09L471.75,365.1L472,365.12L472.25,365.13L472.5,365.14L472.75,365.15L473,365.17L473.25,365.18L473.5,365.19L473.75,365.2L474,365.21L474.25,365.22L474.5,365.23L474.75,365.24L475,365.24L475.25,365.25L475.5,365.26L475.75,365.27L476,365.27L476.25,365.28L476.5,365.29L476.75,365.3L477,365.3L477.25,365.31L477.5,365.31L477.75,365.32L478,365.33L478.25,365.33L478.5,365.34L478.75,365.34L479,365.35L479.25,365.35L479.5,365.36L479.75,365.36L480,365.37L480.25,365.37L480.5,365.38L480.75,365.38L481,365.38L481.25,365.39L481.5,365.39L481.75,365.39L482,365.4" fill="none" stroke="#8b1a9b" stroke-width="1.15" stroke-linejoin="round"/>
<path d="M379.4,13.8V373.8" stroke="#ff1a1a" stroke-width="1.1" stroke-dasharray="2.6,1" fill="none"/>
<path d="M452.5,13.8V373.8" stroke="#ff1a1a" stroke-width="1.1" stroke-dasharray="2.6,1" fill="none"/>
<rect x="340.6" y="13.8" width="147.6" height="360.0" fill="none" stroke="#000" stroke-width="1.4"/>
<path d="M340.6,133.9H488.2M340.6,254.2H488.2" stroke="#000" stroke-width="1.2" fill="none"/>
<path d="M389.8,373.8v-2.2M439.0,373.8v-2.2M365.2,373.8v-1.4M414.4,373.8v-1.4M463.6,373.8v-1.4" stroke="#000" stroke-width="0.9" fill="none"/>
<text x="340.0" y="383.1" font-size="7.6" text-anchor="middle" font-family="Liberation Serif, serif" font-weight="bold">800</text>
<text x="389.2" y="383.1" font-size="7.6" text-anchor="middle" font-family="Liberation Serif, serif" font-weight="bold">790</text>
<text x="438.4" y="383.1" font-size="7.6" text-anchor="middle" font-family="Liberation Serif, serif" font-weight="bold">780</text>
<text x="487.6" y="383.1" font-size="7.6" text-anchor="middle" font-family="Liberation Serif, serif" font-weight="bold">770</text>
<text x="414" y="392.2" font-size="7.8" text-anchor="middle" font-family="Liberation Serif, serif" font-weight="bold">Binding Energy (eV)</text>
<text transform="translate(329.5,185.7) rotate(-90)" font-size="13.6" text-anchor="middle" font-family="Liberation Serif, serif" font-weight="bold">Intensity (au)</text>
<text x="340.8" y="9.4" font-size="11.3" font-family="Liberation Sans, sans-serif" font-weight="bold">b)</text>
<path d="M386,21.6H404.5" stroke="#000" stroke-width="1.7" fill="none"/>
<text x="406.8" y="24.3" font-size="7.8" font-family="Liberation Serif, serif" font-weight="bold">x = 0.3</text>
<path d="M386,31.8H404.5" stroke="#1414ff" stroke-width="1.05" fill="none"/>
<text x="406.8" y="34.2" font-size="7.8" font-family="Liberation Serif, serif" font-weight="bold">2p<tspan class="s" font-size="5.5" dy="2.1">1/2</tspan></text>
<path d="M386,43.3H404.5" stroke="#1d8a1d" stroke-width="1.05" fill="none"/>
<text x="406.8" y="46.3" font-size="7.8" font-family="Liberation Serif, serif" font-weight="bold">2p<tspan class="s" font-size="5.5" dy="2.1">3/2</tspan><tspan dy="-2.1"> satellite</tspan></text>
<path d="M386,55.3H404.5" stroke="#8b1a9b" stroke-width="1.05" fill="none"/>
<text x="406.8" y="58.0" font-size="7.8" font-family="Liberation Serif, serif" font-weight="bold">2p<tspan class="s" font-size="5.5" dy="2.1">3/2</tspan></text>
<path d="M386,141.6H404.5" stroke="#000" stroke-width="1.7" fill="none"/>
<text x="406.8" y="144.3" font-size="7.8" font-family="Liberation Serif, serif" font-weight="bold">x = 0.2</text>
<path d="M386,151.8H404.5" stroke="#1414ff" stroke-width="1.05" fill="none"/>
<text x="406.8" y="154.2" font-size="7.8" font-family="Liberation Serif, serif" font-weight="bold">2p<tspan class="s" font-size="5.5" dy="2.1">1/2</tspan></text>
<path d="M386,163.3H404.5" stroke="#1d8a1d" stroke-width="1.05" fill="none"/>
<text x="406.8" y="166.3" font-size="7.8" font-family="Liberation Serif, serif" font-weight="bold">2p<tspan class="s" font-size="5.5" dy="2.1">3/2</tspan><tspan dy="-2.1"> satellite</tspan></text>
<path d="M386,175.3H404.5" stroke="#8b1a9b" stroke-width="1.05" fill="none"/>
<text x="406.8" y="178.0" font-size="7.8" font-family="Liberation Serif, serif" font-weight="bold">2p<tspan class="s" font-size="5.5" dy="2.1">3/2</tspan></text>
<path d="M387.3,262.8H405" stroke="#000" stroke-width="2.0" fill="none"/>
<text x="406.8" y="265.4" font-size="7.4" font-family="Liberation Serif, serif" font-weight="bold">x = 0</text>
<path d="M387.3,272.2H405" stroke="#ff2a1a" stroke-width="1.05" fill="none"/>
<text x="406.8" y="274.5" font-size="7.4" font-family="Liberation Serif, serif" font-weight="bold">2p<tspan class="s" font-size="5.2" dy="2.0">1/2</tspan><tspan dy="-2.0"> satellite</tspan></text>
<path d="M387.3,283.1H405" stroke="#1414ff" stroke-width="1.05" fill="none"/>
<text x="406.8" y="285.5" font-size="7.4" font-family="Liberation Serif, serif" font-weight="bold">2p<tspan class="s" font-size="5.2" dy="2.0">1/2</tspan></text>
<path d="M387.3,294.2H405" stroke="#1d8a1d" stroke-width="1.05" fill="none"/>
<text x="406.8" y="296.2" font-size="7.4" font-family="Liberation Serif, serif" font-weight="bold">2p<tspan class="s" font-size="5.2" dy="2.0">3/2</tspan><tspan dy="-2.0"> satellite</tspan></text>
<path d="M387.3,305.3H405" stroke="#8b1a9b" stroke-width="1.05" fill="none"/>
<text x="406.8" y="307.2" font-size="7.4" font-family="Liberation Serif, serif" font-weight="bold">2p<tspan class="s" font-size="5.2" dy="2.0">3/2</tspan></text>
<text x="454.6" y="24.9" font-size="9.5" font-family="Liberation Serif, serif" font-weight="bold">Co 2p<tspan class="s" font-size="6.6" dy="2.6">3/2</tspan></text>
<text x="342.1" y="98.1" font-size="10.8" font-family="Liberation Serif, serif" font-weight="bold">Co 2p<tspan class="s" font-size="7.6" dy="2.9">1/2</tspan></text>
<text x="394.3" y="109.9" font-size="8.8" font-family="Liberation Serif, serif" font-weight="bold">2p<tspan class="s" font-size="6.2" dy="2.4">3/2</tspan><tspan dy="-2.4"> satellite</tspan></text>
<text x="454.6" y="144.8" font-size="9.5" font-family="Liberation Serif, serif" font-weight="bold">Co 2p<tspan class="s" font-size="6.6" dy="2.6">3/2</tspan></text>
<text x="345.3" y="222.6" font-size="10.1" font-family="Liberation Serif, serif" font-weight="bold">Co 2p<tspan class="s" font-size="7.1" dy="2.7">1/2</tspan></text>
<text x="399.2" y="227.3" font-size="8.0" font-family="Liberation Serif, serif" font-weight="bold">2p<tspan class="s" font-size="5.6" dy="2.2">3/2</tspan><tspan dy="-2.2"> satellite</tspan></text>
<text x="454.7" y="265.4" font-size="9.7" font-family="Liberation Serif, serif" font-weight="bold">Co 2p<tspan class="s" font-size="6.8" dy="2.6">3/2</tspan></text>
<text x="380.3" y="332.2" font-size="10.1" font-family="Liberation Serif, serif" font-weight="bold">Co 2p<tspan class="s" font-size="7.1" dy="2.7">1/2</tspan></text>
<text x="345.8" y="336.7" font-size="8.4" font-family="Liberation Serif, serif" font-weight="bold">2p<tspan class="s" font-size="5.9" dy="2.3">1/2</tspan></text>
<text x="343.3" y="349.5" font-size="8.4" font-family="Liberation Serif, serif" font-weight="bold">satellite</text>
<text x="388.9" y="347.0" font-size="8.6" font-family="Liberation Serif, serif" font-weight="bold">2p<tspan class="s" font-size="6.0" dy="2.3">3/2</tspan><tspan dy="-2.3"> satellite</tspan></text>
</g>
<g id="panelC">
<path d="M531,133L531.25,133L531.5,132.99L531.75,132.99L532,132.99L532.25,132.98L532.5,132.98L532.75,132.97L533,132.96L533.25,132.96L533.5,132.95L533.75,132.94L534,132.94L534.25,132.93L534.5,132.92L534.75,132.91L535,132.9L535.25,132.89L535.5,132.88L535.75,132.87L536,132.86L536.25,132.85L536.5,132.84L536.75,132.82L537,132.81L537.25,132.8L537.5,132.79L537.75,132.77L538,132.76L538.25,132.75L538.5,132.73L538.75,132.72L539,132.7L539.25,132.69L539.5,132.67L539.75,132.66L540,132.64L540.25,132.63L540.5,132.61L540.75,132.59L541,132.58L541.25,132.56L541.5,132.55L541.75,132.53L542,132.51L542.25,132.49L542.5,132.48L542.75,132.46L543,132.44L543.25,132.42L543.5,132.41L543.75,132.39L544,132.37L544.25,132.35L544.5,132.34L544.75,132.32L545,132.3L545.25,132.28L545.5,132.26L545.75,132.24L546,132.22L546.25,132.2L546.5,132.18L546.75,132.16L547,132.14L547.25,132.12L547.5,132.1L547.75,132.07L548,132.05L548.25,132.03L548.5,132L548.75,131.98L549,131.95L549.25,131.93L549.5,131.9L549.75,131.88L550,131.85L550.25,131.82L550.5,131.79L550.75,131.77L551,131.74L551.25,131.71L551.5,131.68L551.75,131.65L552,131.62L552.25,131.58L552.5,131.55L552.75,131.52L553,131.49L553.25,131.45L553.5,131.42L553.75,131.38L554,131.35L554.25,131.31L554.5,131.27L554.75,131.24L555,131.2L555.25,131.16L555.5,131.12L555.75,131.08L556,131.04L556.25,131L556.5,130.96L556.75,130.91L557,130.87L557.25,130.83L557.5,130.78L557.75,130.74L558,130.69L558.25,130.64L558.5,130.6L558.75,130.55L559,130.5L559.25,130.45L559.5,130.4L559.75,130.35L560,130.3L560.25,130.24L560.5,130.18L560.75,130.12L561,130.05L561.25,129.98L561.5,129.91L561.75,129.83L562,129.75L562.25,129.67L562.5,129.58L562.75,129.49L563,129.4L563.25,129.31L563.5,129.21L563.75,129.11L564,129.01L564.25,128.91L564.5,128.81L564.75,128.7L565,128.6L565.25,128.49L565.5,128.38L565.75,128.27L566,128.16L566.25,128.05L566.5,127.93L566.75,127.81L567,127.69L567.25,127.56L567.5,127.43L567.75,127.29L568,127.16L568.25,127.02L568.5,126.87L568.75,126.73L569,126.58L569.25,126.43L569.5,126.27L569.75,126.12L570,125.96L570.25,125.79L570.5,125.62L570.75,125.44L571,125.26L571.25,125.07L571.5,124.88L571.75,124.68L572,124.47L572.25,124.27L572.5,124.06L572.75,123.84L573,123.63L573.25,123.42L573.5,123.21L573.75,123L574,122.79L574.25,122.58L574.5,122.37L574.75,122.16L575,121.96L575.25,121.75L575.5,121.53L575.75,121.3L576,121.06L576.25,120.8L576.5,120.53L576.75,120.25L577,119.96L577.25,119.66L577.5,119.34L577.75,119.02L578,118.68L578.25,118.32L578.5,117.95L578.75,117.56L579,117.15L579.25,116.71L579.5,116.26L579.75,115.79L580,115.31L580.25,114.82L580.5,114.33L580.75,113.82L581,113.28L581.25,112.69L581.5,112.03L581.75,111.28L582,110.43L582.25,109.48L582.5,108.44L582.75,107.33L583,106.17L583.25,104.98L583.5,103.73L583.75,102.35L584,100.8L584.25,99.01L584.5,96.96L584.75,94.67L585,92.21L585.25,89.65L585.5,87.06L585.75,84.49L586,81.98L586.25,79.53L586.5,77.14L586.75,74.79L587,72.47L587.25,70.22L587.5,68.1L587.75,66.22L588,64.68L588.25,63.55L588.5,62.91L588.75,62.84L589,63.38L589.25,64.53L589.5,66.22L589.75,68.38L590,70.89L590.25,73.64L590.5,76.55L590.75,79.55L591,82.63L591.25,85.78L591.5,88.98L591.75,92.21L592,95.41L592.25,98.57L592.5,101.61L592.75,104.49L593,107.16L593.25,109.58L593.5,111.76L593.75,113.68L594,115.37L594.25,116.86L594.5,118.15L594.75,119.29L595,120.29L595.25,121.19L595.5,122.01L595.75,122.75L596,123.42L596.25,124.01L596.5,124.53L596.75,124.97L597,125.35L597.25,125.66L597.5,125.91L597.75,126.11L598,126.28L598.25,126.42L598.5,126.53L598.75,126.63L599,126.71L599.25,126.78L599.5,126.85L599.75,126.9L600,126.95L600.25,127L600.5,127.04L600.75,127.08L601,127.12L601.25,127.15L601.5,127.18L601.75,127.21L602,127.24L602.25,127.27L602.5,127.3L602.75,127.33L603,127.36L603.25,127.38L603.5,127.41L603.75,127.44L604,127.47L604.25,127.49L604.5,127.52L604.75,127.55L605,127.57L605.25,127.6L605.5,127.63L605.75,127.65L606,127.68L606.25,127.7L606.5,127.72L606.75,127.74L607,127.76L607.25,127.78L607.5,127.8L607.75,127.82L608,127.83L608.25,127.85L608.5,127.86L608.75,127.87L609,127.88L609.25,127.89L609.5,127.89L609.75,127.9L610,127.9L610.25,127.9L610.5,127.9L610.75,127.89L611,127.89L611.25,127.88L611.5,127.87L611.75,127.87L612,127.86L612.25,127.85L612.5,127.83L612.75,127.82L613,127.81L613.25,127.79L613.5,127.78L613.75,127.76L614,127.74L614.25,127.72L614.5,127.71L614.75,127.68L615,127.66L615.25,127.64L615.5,127.62L615.75,127.59L616,127.57L616.25,127.54L616.5,127.52L616.75,127.49L617,127.47L617.25,127.44L617.5,127.41L617.75,127.38L618,127.35L618.25,127.32L618.5,127.29L618.75,127.26L619,127.23L619.25,127.2L619.5,127.16L619.75,127.13L620,127.1L620.25,127.06L620.5,127.02L620.75,126.97L621,126.93L621.25,126.87L621.5,126.82L621.75,126.76L622,126.7L622.25,126.63L622.5,126.56L622.75,126.49L623,126.41L623.25,126.33L623.5,126.25L623.75,126.17L624,126.08L624.25,126L624.5,125.91L624.75,125.81L625,125.72L625.25,125.62L625.5,125.53L625.75,125.43L626,125.33L626.25,125.23L626.5,125.13L626.75,125.03L627,124.92L627.25,124.82L627.5,124.71L627.75,124.6L628,124.49L628.25,124.38L628.5,124.26L628.75,124.15L629,124.02L629.25,123.9L629.5,123.77L629.75,123.64L630,123.5L630.25,123.36L630.5,123.22L630.75,123.08L631,122.93L631.25,122.78L631.5,122.62L631.75,122.46L632,122.3L632.25,122.14L632.5,121.97L632.75,121.79L633,121.62L633.25,121.44L633.5,121.25L633.75,121.06L634,120.87L634.25,120.67L634.5,120.47L634.75,120.25L635,120.02L635.25,119.78L635.5,119.52L635.75,119.25L636,118.96L636.25,118.67L636.5,118.36L636.75,118.04L637,117.72L637.25,117.39L637.5,117.05L637.75,116.71L638,116.38L638.25,116.04L638.5,115.7L638.75,115.36L639,115.02L639.25,114.69L639.5,114.36L639.75,114.03L640,113.71L640.25,113.38L640.5,113.03L640.75,112.67L641,112.27L641.25,111.84L641.5,111.38L641.75,110.88L642,110.33L642.25,109.74L642.5,109.1L642.75,108.4L643,107.65L643.25,106.82L643.5,105.92L643.75,104.98L644,104L644.25,103.01L644.5,102.02L644.75,101L645,99.92L645.25,98.73L645.5,97.39L645.75,95.87L646,94.18L646.25,92.37L646.5,90.46L646.75,88.41L647,86.12L647.25,83.44L647.5,80.27L647.75,76.59L648,72.52L648.25,68.24L648.5,63.91L648.75,59.64L649,55.5L649.25,51.49L649.5,47.61L649.75,43.89L650,40.46L650.25,37.48L650.5,35.11L650.75,33.48L651,32.66L651.25,32.67L651.5,33.5L651.75,35.07L652,37.32L652.25,40.14L652.5,43.41L652.75,46.99L653,50.79L653.25,54.74L653.5,58.84L653.75,63.09L654,67.44L654.25,71.85L654.5,76.22L654.75,80.5L655,84.6L655.25,88.48L655.5,92.03L655.75,95.2L656,97.98L656.25,100.43L656.5,102.7L656.75,104.86L657,106.96L657.25,108.97L657.5,110.85L657.75,112.56L658,114.08L658.25,115.43L658.5,116.6L658.75,117.62L659,118.53L659.25,119.34L659.5,120.09L659.75,120.81L660,121.52L660.25,122.21L660.5,122.88L660.75,123.51L661,124.08L661.25,124.59L661.5,125.02L661.75,125.4L662,125.74L662.25,126.04L662.5,126.31L662.75,126.57L663,126.8L663.25,127.02L663.5,127.23L663.75,127.42L664,127.6L664.25,127.78L664.5,127.94L664.75,128.09L665,128.23L665.25,128.37L665.5,128.5L665.75,128.62L666,128.74L666.25,128.86L666.5,128.97L666.75,129.07L667,129.18L667.25,129.28L667.5,129.38L667.75,129.47L668,129.57L668.25,129.66L668.5,129.75L668.75,129.84L669,129.94L669.25,130.03L669.5,130.12L669.75,130.21L670,130.3L670.25,130.39L670.5,130.48L670.75,130.58L671,130.67L671.25,130.76L671.5,130.85L671.75,130.94L672,131.03L672.25,131.12L672.5,131.21L672.75,131.29L673,131.38L673.25,131.47L673.5,131.55L673.75,131.64L674,131.73L674.25,131.81L674.5,131.89L674.75,131.98L675,132.06L675.25,132.14L675.5,132.22L675.75,132.3L676,132.38L676.25,132.46L676.5,132.54L676.75,132.62L677,132.7L677.25,132.77L677.5,132.83L677.75,132.88" fill="none" stroke="#000" stroke-width="1.6" stroke-linejoin="round"/>
<path d="M533.00,128.3H640.40" fill="none" stroke="#8b1a9b" stroke-width="1.15"/>
<path d="M640.10,128.3H663.15" fill="none" stroke="#1414ff" stroke-width="1.15"/>
<path d="M662.85,128.3H672.50" fill="none" stroke="#8b1a9b" stroke-width="1.15"/>
<path d="M575.75,128.2L576,128.17L576.25,128.14L576.5,128.09L576.75,128.04L577,127.97L577.25,127.89L577.5,127.79L577.75,127.67L578,127.53L578.25,127.35L578.5,127.14L578.75,126.89L579,126.6L579.25,126.25L579.5,125.85L579.75,125.38L580,124.84L580.25,124.22L580.5,123.5L580.75,122.7L581,121.78L581.25,120.76L581.5,119.61L581.75,118.34L582,116.94L582.25,115.4L582.5,113.73L582.75,111.92L583,109.97L583.25,107.89L583.5,105.68L583.75,103.35L584,100.92L584.25,98.4L584.5,95.79L584.75,93.13L585,90.44L585.25,87.74L585.5,85.05L585.75,82.41L586,79.84L586.25,77.37L586.5,75.04L586.75,72.86L587,70.87L587.25,69.1L587.5,67.57L587.75,66.3L588,65.3L588.25,64.6L588.5,64.2L588.75,64.11L589,64.45L589.25,65.28L589.5,66.58L589.75,68.31L590,70.44L590.25,72.93L590.5,75.71L590.75,78.73L591,81.94L591.25,85.28L591.5,88.68L591.75,92.09L592,95.46L592.25,98.75L592.5,101.91L592.75,104.91L593,107.73L593.25,110.35L593.5,112.76L593.75,114.94L594,116.91L594.25,118.66L594.5,120.21L594.75,121.55L595,122.72L595.25,123.72L595.5,124.57L595.75,125.29L596,125.89L596.25,126.38L596.5,126.78L596.75,127.11L597,127.38L597.25,127.59L597.5,127.75L597.75,127.89L598,127.99L598.25,128.07L598.5,128.13L598.75,128.17L599,128.21" fill="none" stroke="#1414ff" stroke-width="1.15" stroke-linejoin="round"/>
<path d="M639.75,128.21L640,128.18L640.25,128.13L640.5,128.08L640.75,128.01L641,127.91L641.25,127.79L641.5,127.64L641.75,127.45L642,127.21L642.25,126.92L642.5,126.55L642.75,126.1L643,125.56L643.25,124.9L643.5,124.12L643.75,123.19L644,122.1L644.25,120.82L644.5,119.33L644.75,117.63L645,115.69L645.25,113.49L645.5,111.03L645.75,108.29L646,105.27L646.25,101.98L646.5,98.41L646.75,94.59L647,90.54L647.25,86.28L647.5,81.86L647.75,77.31L648,72.7L648.25,68.07L648.5,63.49L648.75,59.04L649,54.77L649.25,50.76L649.5,47.08L649.75,43.8L650,40.97L650.25,38.65L650.5,36.89L650.75,35.71L651,35.15L651.25,35.2L651.5,35.78L651.75,36.89L652,38.5L652.25,40.59L652.5,43.12L652.75,46.05L653,49.34L653.25,52.92L653.5,56.76L653.75,60.79L654,64.95L654.25,69.2L654.5,73.48L654.75,77.74L655,81.94L655.25,86.03L655.5,89.98L655.75,93.76L656,97.35L656.25,100.72L656.5,103.87L656.75,106.78L657,109.45L657.25,111.89L657.5,114.09L657.75,116.06L658,117.83L658.25,119.39L658.5,120.76L658.75,121.95L659,122.99L659.25,123.88L659.5,124.65L659.75,125.3L660,125.85L660.25,126.3L660.5,126.69L660.75,127L661,127.26L661.25,127.48L661.5,127.65L661.75,127.79L662,127.9L662.25,127.99L662.5,128.06L662.75,128.12L663,128.16L663.25,128.19" fill="none" stroke="#8b1a9b" stroke-width="1.15" stroke-linejoin="round"/>
<path d="M531,249.86L531.25,249.84L531.5,249.8L531.75,249.76L532,249.72L532.25,249.68L532.5,249.64L532.75,249.59L533,249.55L533.25,249.51L533.5,249.46L533.75,249.42L534,249.38L534.25,249.33L534.5,249.29L534.75,249.25L535,249.21L535.25,249.17L535.5,249.12L535.75,249.08L536,249.04L536.25,249L536.5,248.96L536.75,248.92L537,248.88L537.25,248.84L537.5,248.8L537.75,248.76L538,248.72L538.25,248.68L538.5,248.64L538.75,248.6L539,248.56L539.25,248.52L539.5,248.48L539.75,248.44L540,248.41L540.25,248.37L540.5,248.33L540.75,248.29L541,248.25L541.25,248.21L541.5,248.18L541.75,248.14L542,248.1L542.25,248.07L542.5,248.03L542.75,247.99L543,247.96L543.25,247.92L543.5,247.88L543.75,247.85L544,247.81L544.25,247.77L544.5,247.74L544.75,247.7L545,247.67L545.25,247.63L545.5,247.6L545.75,247.56L546,247.53L546.25,247.49L546.5,247.46L546.75,247.43L547,247.4L547.25,247.36L547.5,247.33L547.75,247.3L548,247.27L548.25,247.25L548.5,247.22L548.75,247.19L549,247.16L549.25,247.13L549.5,247.11L549.75,247.08L550,247.05L550.25,247.02L550.5,247L550.75,246.97L551,246.94L551.25,246.91L551.5,246.88L551.75,246.85L552,246.82L552.25,246.79L552.5,246.76L552.75,246.73L553,246.7L553.25,246.66L553.5,246.63L553.75,246.59L554,246.56L554.25,246.52L554.5,246.48L554.75,246.44L555,246.39L555.25,246.35L555.5,246.3L555.75,246.25L556,246.2L556.25,246.14L556.5,246.08L556.75,246.02L557,245.96L557.25,245.9L557.5,245.83L557.75,245.77L558,245.7L558.25,245.64L558.5,245.58L558.75,245.51L559,245.44L559.25,245.37L559.5,245.3L559.75,245.22L560,245.14L560.25,245.06L560.5,244.98L560.75,244.89L561,244.8L561.25,244.71L561.5,244.62L561.75,244.53L562,244.44L562.25,244.34L562.5,244.25L562.75,244.16L563,244.06L563.25,243.97L563.5,243.87L563.75,243.78L564,243.68L564.25,243.58L564.5,243.48L564.75,243.38L565,243.27L565.25,243.16L565.5,243.05L565.75,242.93L566,242.8L566.25,242.67L566.5,242.54L566.75,242.4L567,242.26L567.25,242.12L567.5,241.97L567.75,241.81L568,241.63L568.25,241.44L568.5,241.23L568.75,240.98L569,240.71L569.25,240.4L569.5,240.06L569.75,239.67L570,239.24L570.25,238.76L570.5,238.25L570.75,237.69L571,237.1L571.25,236.48L571.5,235.85L571.75,235.21L572,234.57L572.25,233.93L572.5,233.28L572.75,232.62L573,231.96L573.25,231.28L573.5,230.6L573.75,229.89L574,229.18L574.25,228.44L574.5,227.69L574.75,226.91L575,226.12L575.25,225.3L575.5,224.48L575.75,223.65L576,222.82L576.25,222.02L576.5,221.25L576.75,220.53L577,219.86L577.25,219.25L577.5,218.71L577.75,218.24L578,217.84L578.25,217.52L578.5,217.24L578.75,217L579,216.78L579.25,216.54L579.5,216.28L579.75,215.99L580,215.64L580.25,215.25L580.5,214.8L580.75,214.31L581,213.77L581.25,213.22L581.5,212.68L581.75,212.16L582,211.7L582.25,211.3L582.5,210.93L582.75,210.54L583,210.1L583.25,209.53L583.5,208.78L583.75,207.82L584,206.61L584.25,205.16L584.5,203.5L584.75,201.69L585,199.78L585.25,197.87L585.5,196L585.75,194.24L586,192.64L586.25,191.25L586.5,190.1L586.75,189.24L587,188.7L587.25,188.49L587.5,188.63L587.75,189.13L588,189.97L588.25,191.14L588.5,192.62L588.75,194.37L589,196.38L589.25,198.59L589.5,200.98L589.75,203.5L590,206.11L590.25,208.78L590.5,211.44L590.75,214.07L591,216.59L591.25,218.98L591.5,221.19L591.75,223.2L592,225.02L592.25,226.65L592.5,228.12L592.75,229.47L593,230.74L593.25,231.94L593.5,233.11L593.75,234.26L594,235.38L594.25,236.45L594.5,237.45L594.75,238.37L595,239.2L595.25,239.94L595.5,240.58L595.75,241.14L596,241.63L596.25,242.05L596.5,242.42L596.75,242.73L597,242.99L597.25,243.22L597.5,243.42L597.75,243.59L598,243.75L598.25,243.9L598.5,244.03L598.75,244.17L599,244.3L599.25,244.43L599.5,244.55L599.75,244.67L600,244.79L600.25,244.9L600.5,245.01L600.75,245.1L601,245.19L601.25,245.27L601.5,245.34L601.75,245.39L602,245.43L602.25,245.46L602.5,245.48L602.75,245.48L603,245.48L603.25,245.47L603.5,245.46L603.75,245.44L604,245.42L604.25,245.4L604.5,245.38L604.75,245.35L605,245.32L605.25,245.29L605.5,245.25L605.75,245.22L606,245.18L606.25,245.15L606.5,245.11L606.75,245.07L607,245.03L607.25,244.99L607.5,244.95L607.75,244.91L608,244.87L608.25,244.84L608.5,244.8L608.75,244.76L609,244.73L609.25,244.69L609.5,244.66L609.75,244.63L610,244.6L610.25,244.58L610.5,244.55L610.75,244.52L611,244.5L611.25,244.47L611.5,244.45L611.75,244.43L612,244.41L612.25,244.38L612.5,244.36L612.75,244.34L613,244.32L613.25,244.3L613.5,244.28L613.75,244.26L614,244.24L614.25,244.22L614.5,244.19L614.75,244.17L615,244.15L615.25,244.13L615.5,244.11L615.75,244.09L616,244.06L616.25,244.04L616.5,244.02L616.75,243.99L617,243.97L617.25,243.94L617.5,243.92L617.75,243.89L618,243.86L618.25,243.83L618.5,243.8L618.75,243.77L619,243.74L619.25,243.71L619.5,243.67L619.75,243.63L620,243.59L620.25,243.54L620.5,243.49L620.75,243.43L621,243.36L621.25,243.29L621.5,243.21L621.75,243.12L622,243.03L622.25,242.94L622.5,242.84L622.75,242.74L623,242.64L623.25,242.54L623.5,242.43L623.75,242.32L624,242.21L624.25,242.1L624.5,241.98L624.75,241.87L625,241.75L625.25,241.63L625.5,241.51L625.75,241.38L626,241.25L626.25,241.12L626.5,240.99L626.75,240.85L627,240.71L627.25,240.57L627.5,240.41L627.75,240.25L628,240.07L628.25,239.87L628.5,239.66L628.75,239.41L629,239.14L629.25,238.84L629.5,238.51L629.75,238.14L630,237.73L630.25,237.27L630.5,236.78L630.75,236.24L631,235.67L631.25,235.07L631.5,234.46L631.75,233.85L632,233.26L632.25,232.67L632.5,232.1L632.75,231.52L633,230.93L633.25,230.31L633.5,229.65L633.75,228.94L634,228.16L634.25,227.3L634.5,226.35L634.75,225.31L635,224.19L635.25,223L635.5,221.76L635.75,220.49L636,219.2L636.25,217.93L636.5,216.68L636.75,215.47L637,214.31L637.25,213.2L637.5,212.16L637.75,211.19L638,210.3L638.25,209.49L638.5,208.74L638.75,208.06L639,207.41L639.25,206.77L639.5,206.12L639.75,205.45L640,204.77L640.25,204.09L640.5,203.42L640.75,202.8L641,202.23L641.25,201.74L641.5,201.35L641.75,201.05L642,200.85L642.25,200.72L642.5,200.63L642.75,200.53L643,200.38L643.25,200.14L643.5,199.79L643.75,199.3L644,198.66L644.25,197.86L644.5,196.9L644.75,195.8L645,194.56L645.25,193.24L645.5,191.87L645.75,190.48L646,189.06L646.25,187.59L646.5,186.01L646.75,184.28L647,182.36L647.25,180.26L647.5,177.99L647.75,175.62L648,173.23L648.25,170.9L648.5,168.73L648.75,166.78L649,165.13L649.25,163.84L649.5,162.94L649.75,162.47L650,162.43L650.25,162.82L650.5,163.62L650.75,164.81L651,166.37L651.25,168.28L651.5,170.5L651.75,173.02L652,175.8L652.25,178.8L652.5,181.99L652.75,185.32L653,188.76L653.25,192.24L653.5,195.74L653.75,199.2L654,202.58L654.25,205.84L654.5,208.96L654.75,211.89L655,214.64L655.25,217.22L655.5,219.63L655.75,221.89L656,224.01L656.25,226.01L656.5,227.89L656.75,229.64L657,231.26L657.25,232.74L657.5,234.09L657.75,235.32L658,236.41L658.25,237.39L658.5,238.26L658.75,239.04L659,239.72L659.25,240.34L659.5,240.89L659.75,241.38L660,241.83L660.25,242.23L660.5,242.6L660.75,242.93L661,243.23L661.25,243.51L661.5,243.76L661.75,243.99L662,244.2L662.25,244.4L662.5,244.57L662.75,244.73L663,244.87L663.25,245L663.5,245.13L663.75,245.24L664,245.35L664.25,245.46L664.5,245.56L664.75,245.66L665,245.76L665.25,245.85L665.5,245.94L665.75,246.03L666,246.11L666.25,246.2L666.5,246.28L666.75,246.36L667,246.44L667.25,246.52L667.5,246.59L667.75,246.66L668,246.74L668.25,246.81L668.5,246.88L668.75,246.94L669,247.01L669.25,247.07L669.5,247.14L669.75,247.2L670,247.26L670.25,247.32L670.5,247.37L670.75,247.43L671,247.49L671.25,247.54L671.5,247.6L671.75,247.65L672,247.71L672.25,247.76L672.5,247.81L672.75,247.86L673,247.91L673.25,247.96L673.5,248.01L673.75,248.06L674,248.11L674.25,248.15L674.5,248.2L674.75,248.24L675,248.28L675.25,248.32L675.5,248.37L675.75,248.4L676,248.44L676.25,248.48L676.5,248.51L676.75,248.55L677,248.58L677.25,248.6L677.5,248.62" fill="none" stroke="#000" stroke-width="1.6" stroke-linejoin="round"/>
<path d="M533.00,248.9H637.90" fill="none" stroke="#8b1a9b" stroke-width="1.15"/>
<path d="M637.60,248.9H654.65" fill="none" stroke="#1414ff" stroke-width="1.15"/>
<path d="M654.35,248.9H662.40" fill="none" stroke="#1d8a1d" stroke-width="1.15"/>
<path d="M662.10,248.9H676.00" fill="none" stroke="#8b1a9b" stroke-width="1.15"/>
<path d="M563.5,248.8L563.75,248.77L564,248.75L564.25,248.71L564.5,248.67L564.75,248.62L565,248.57L565.25,248.5L565.5,248.42L565.75,248.33L566,248.22L566.25,248.09L566.5,247.95L566.75,247.78L567,247.6L567.25,247.38L567.5,247.14L567.75,246.86L568,246.55L568.25,246.21L568.5,245.82L568.75,245.4L569,244.93L569.25,244.42L569.5,243.86L569.75,243.25L570,242.6L570.25,241.89L570.5,241.14L570.75,240.34L571,239.5L571.25,238.61L571.5,237.68L571.75,236.72L572,235.73L572.25,234.7L572.5,233.66L572.75,232.61L573,231.55L573.25,230.5L573.5,229.46L573.75,228.44L574,227.45L574.25,226.5L574.5,225.6L574.75,224.75L575,223.98L575.25,223.28L575.5,222.66L575.75,222.13L576,221.7L576.25,221.37L576.5,221.14L576.75,221.02L577,221.01L577.25,221.11L577.5,221.31L577.75,221.62L578,222.04L578.25,222.54L578.5,223.15L578.75,223.83L579,224.59L579.25,225.42L579.5,226.31L579.75,227.25L580,228.24L580.25,229.25L580.5,230.29L580.75,231.34L581,232.4L581.25,233.45L581.5,234.5L581.75,235.52L582,236.52L582.25,237.49L582.5,238.43L582.75,239.32L583,240.18L583.25,240.99L583.5,241.75L583.75,242.46L584,243.13L584.25,243.74L584.5,244.31L584.75,244.83L585,245.31L585.25,245.74L585.5,246.13L585.75,246.49L586,246.8L586.25,247.08L586.5,247.33L586.75,247.55L587,247.75L587.25,247.92L587.5,248.07L587.75,248.2L588,248.31L588.25,248.4L588.5,248.48L588.75,248.55L589,248.61L589.25,248.66L589.5,248.7L589.75,248.74L590,248.77L590.25,248.79" fill="none" stroke="#ff2a1a" stroke-width="1.15" stroke-linejoin="round"/>
<path d="M575,248.81L575.25,248.78L575.5,248.75L575.75,248.7L576,248.65L576.25,248.58L576.5,248.5L576.75,248.4L577,248.28L577.25,248.13L577.5,247.95L577.75,247.73L578,247.47L578.25,247.16L578.5,246.8L578.75,246.37L579,245.88L579.25,245.3L579.5,244.64L579.75,243.89L580,243.03L580.25,242.06L580.5,240.97L580.75,239.76L581,238.41L581.25,236.94L581.5,235.32L581.75,233.57L582,231.68L582.25,229.67L582.5,227.53L582.75,225.27L583,222.92L583.25,220.48L583.5,217.97L583.75,215.42L584,212.84L584.25,210.27L584.5,207.74L584.75,205.27L585,202.89L585.25,200.64L585.5,198.55L585.75,196.63L586,194.93L586.25,193.47L586.5,192.26L586.75,191.33L587,190.69L587.25,190.36L587.5,190.32L587.75,190.6L588,191.18L588.25,192.05L588.5,193.2L588.75,194.62L589,196.27L589.25,198.15L589.5,200.21L589.75,202.43L590,204.79L590.25,207.24L590.5,209.76L590.75,212.33L591,214.9L591.25,217.46L591.5,219.98L591.75,222.43L592,224.81L592.25,227.08L592.5,229.25L592.75,231.29L593,233.2L593.25,234.98L593.5,236.62L593.75,238.13L594,239.5L594.25,240.74L594.5,241.85L594.75,242.84L595,243.72L595.25,244.5L595.5,245.18L595.75,245.77L596,246.28L596.25,246.72L596.5,247.09L596.75,247.41L597,247.68L597.25,247.9L597.5,248.09L597.75,248.25L598,248.38L598.25,248.48L598.5,248.57L598.75,248.64L599,248.69L599.25,248.74L599.5,248.78L599.75,248.8" fill="none" stroke="#1414ff" stroke-width="1.15" stroke-linejoin="round"/>
<path d="M623.25,248.78L623.5,248.76L623.75,248.73L624,248.7L624.25,248.66L624.5,248.61L624.75,248.56L625,248.5L625.25,248.43L625.5,248.35L625.75,248.25L626,248.14L626.25,248.02L626.5,247.88L626.75,247.72L627,247.54L627.25,247.33L627.5,247.1L627.75,246.84L628,246.55L628.25,246.23L628.5,245.87L628.75,245.48L629,245.04L629.25,244.56L629.5,244.04L629.75,243.47L630,242.85L630.25,242.18L630.5,241.46L630.75,240.69L631,239.86L631.25,238.98L631.5,238.05L631.75,237.06L632,236.02L632.25,234.93L632.5,233.79L632.75,232.61L633,231.39L633.25,230.13L633.5,228.84L633.75,227.52L634,226.19L634.25,224.84L634.5,223.49L634.75,222.14L635,220.81L635.25,219.49L635.5,218.2L635.75,216.96L636,215.75L636.25,214.61L636.5,213.53L636.75,212.52L637,211.6L637.25,210.76L637.5,210.02L637.75,209.39L638,208.86L638.25,208.44L638.5,208.14L638.75,207.96L639,207.9L639.25,207.96L639.5,208.14L639.75,208.44L640,208.86L640.25,209.39L640.5,210.02L640.75,210.76L641,211.6L641.25,212.52L641.5,213.53L641.75,214.61L642,215.75L642.25,216.96L642.5,218.2L642.75,219.49L643,220.81L643.25,222.14L643.5,223.49L643.75,224.84L644,226.19L644.25,227.52L644.5,228.84L644.75,230.13L645,231.39L645.25,232.61L645.5,233.79L645.75,234.93L646,236.02L646.25,237.06L646.5,238.05L646.75,238.98L647,239.86L647.25,240.69L647.5,241.46L647.75,242.18L648,242.85L648.25,243.47L648.5,244.04L648.75,244.56L649,245.04L649.25,245.48L649.5,245.87L649.75,246.23L650,246.55L650.25,246.84L650.5,247.1L650.75,247.33L651,247.54L651.25,247.72L651.5,247.88L651.75,248.02L652,248.14L652.25,248.25L652.5,248.35L652.75,248.43L653,248.5L653.25,248.56L653.5,248.61L653.75,248.66L654,248.7L654.25,248.73L654.5,248.76L654.75,248.78" fill="none" stroke="#1d8a1d" stroke-width="1.15" stroke-linejoin="round"/>
<path d="M637.25,248.8L637.5,248.77L637.75,248.74L638,248.69L638.25,248.63L638.5,248.56L638.75,248.47L639,248.36L639.25,248.22L639.5,248.05L639.75,247.84L640,247.6L640.25,247.3L640.5,246.95L640.75,246.52L641,246.03L641.25,245.45L641.5,244.77L641.75,243.99L642,243.09L642.25,242.05L642.5,240.88L642.75,239.56L643,238.07L643.25,236.42L643.5,234.58L643.75,232.57L644,230.36L644.25,227.97L644.5,225.4L644.75,222.64L645,219.72L645.25,216.64L645.5,213.43L645.75,210.1L646,206.67L646.25,203.19L646.5,199.67L646.75,196.17L647,192.71L647.25,189.34L647.5,186.09L647.75,183.02L648,180.16L648.25,177.55L648.5,175.22L648.75,173.22L649,171.58L649.25,170.31L649.5,169.44L649.75,168.98L650,168.93L650.25,169.31L650.5,170.1L650.75,171.29L651,172.86L651.25,174.8L651.5,177.06L651.75,179.61L652,182.43L652.25,185.46L652.5,188.68L652.75,192.03L653,195.47L653.25,198.97L653.5,202.49L653.75,205.98L654,209.42L654.25,212.77L654.5,216.01L654.75,219.12L655,222.07L655.25,224.86L655.5,227.47L655.75,229.9L656,232.14L656.25,234.2L656.5,236.07L656.75,237.76L657,239.27L657.25,240.63L657.5,241.83L657.75,242.89L658,243.82L658.25,244.62L658.5,245.32L658.75,245.92L659,246.43L659.25,246.87L659.5,247.23L659.75,247.54L660,247.8L660.25,248.01L660.5,248.19L660.75,248.33L661,248.45L661.25,248.54L661.5,248.62L661.75,248.68L662,248.73L662.25,248.77L662.5,248.8" fill="none" stroke="#8b1a9b" stroke-width="1.15" stroke-linejoin="round"/>
<path d="M531,370.89L531.25,370.88L531.5,370.88L531.75,370.86L532,370.85L532.25,370.84L532.5,370.82L532.75,370.81L533,370.79L533.25,370.77L533.5,370.75L533.75,370.73L534,370.71L534.25,370.69L534.5,370.67L534.75,370.64L535,370.62L535.25,370.59L535.5,370.57L535.75,370.54L536,370.51L536.25,370.48L536.5,370.46L536.75,370.43L537,370.39L537.25,370.36L537.5,370.33L537.75,370.3L538,370.26L538.25,370.23L538.5,370.2L538.75,370.16L539,370.12L539.25,370.09L539.5,370.05L539.75,370.01L540,369.97L540.25,369.93L540.5,369.9L540.75,369.86L541,369.82L541.25,369.77L541.5,369.73L541.75,369.69L542,369.65L542.25,369.61L542.5,369.56L542.75,369.52L543,369.48L543.25,369.43L543.5,369.39L543.75,369.35L544,369.3L544.25,369.26L544.5,369.21L544.75,369.17L545,369.12L545.25,369.07L545.5,369.03L545.75,368.98L546,368.94L546.25,368.89L546.5,368.84L546.75,368.79L547,368.74L547.25,368.69L547.5,368.64L547.75,368.59L548,368.53L548.25,368.48L548.5,368.42L548.75,368.36L549,368.3L549.25,368.24L549.5,368.18L549.75,368.12L550,368.06L550.25,367.99L550.5,367.92L550.75,367.85L551,367.78L551.25,367.71L551.5,367.64L551.75,367.57L552,367.49L552.25,367.41L552.5,367.34L552.75,367.25L553,367.17L553.25,367.09L553.5,367L553.75,366.92L554,366.83L554.25,366.74L554.5,366.64L554.75,366.55L555,366.45L555.25,366.35L555.5,366.24L555.75,366.14L556,366.02L556.25,365.9L556.5,365.77L556.75,365.63L557,365.47L557.25,365.29L557.5,365.1L557.75,364.9L558,364.68L558.25,364.45L558.5,364.22L558.75,363.97L559,363.71L559.25,363.45L559.5,363.17L559.75,362.9L560,362.62L560.25,362.33L560.5,362.05L560.75,361.76L561,361.46L561.25,361.17L561.5,360.87L561.75,360.57L562,360.27L562.25,359.96L562.5,359.64L562.75,359.31L563,358.95L563.25,358.56L563.5,358.15L563.75,357.7L564,357.22L564.25,356.7L564.5,356.15L564.75,355.55L565,354.92L565.25,354.24L565.5,353.52L565.75,352.76L566,351.95L566.25,351.1L566.5,350.21L566.75,349.27L567,348.28L567.25,347.26L567.5,346.19L567.75,345.08L568,343.94L568.25,342.77L568.5,341.57L568.75,340.37L569,339.15L569.25,337.94L569.5,336.73L569.75,335.53L570,334.34L570.25,333.16L570.5,332L570.75,330.84L571,329.71L571.25,328.59L571.5,327.49L571.75,326.42L572,325.38L572.25,324.37L572.5,323.4L572.75,322.48L573,321.62L573.25,320.83L573.5,320.11L573.75,319.46L574,318.89L574.25,318.4L574.5,317.98L574.75,317.64L575,317.38L575.25,317.19L575.5,317.08L575.75,317.04L576,317.07L576.25,317.18L576.5,317.36L576.75,317.61L577,317.92L577.25,318.27L577.5,318.67L577.75,319.1L578,319.55L578.25,320L578.5,320.45L578.75,320.87L579,321.26L579.25,321.6L579.5,321.87L579.75,322.08L580,322.21L580.25,322.25L580.5,322.22L580.75,322.13L581,321.99L581.25,321.8L581.5,321.55L581.75,321.23L582,320.83L582.25,320.33L582.5,319.71L582.75,318.95L583,318.04L583.25,316.98L583.5,315.8L583.75,314.56L584,313.34L584.25,312.22L584.5,311.33L584.75,310.73L585,310.5L585.25,310.68L585.5,311.27L585.75,312.23L586,313.51L586.25,315.04L586.5,316.75L586.75,318.59L587,320.52L587.25,322.53L587.5,324.62L587.75,326.78L588,329.01L588.25,331.29L588.5,333.58L588.75,335.85L589,338.07L589.25,340.21L589.5,342.24L589.75,344.15L590,345.92L590.25,347.56L590.5,349.05L590.75,350.42L591,351.65L591.25,352.76L591.5,353.76L591.75,354.67L592,355.49L592.25,356.25L592.5,356.96L592.75,357.63L593,358.27L593.25,358.89L593.5,359.49L593.75,360.07L594,360.64L594.25,361.18L594.5,361.7L594.75,362.2L595,362.67L595.25,363.1L595.5,363.5L595.75,363.86L596,364.17L596.25,364.43L596.5,364.63L596.75,364.8L597,364.92L597.25,365.02L597.5,365.1L597.75,365.17L598,365.23L598.25,365.28L598.5,365.34L598.75,365.39L599,365.43L599.25,365.48L599.5,365.52L599.75,365.55L600,365.59L600.25,365.62L600.5,365.65L600.75,365.68L601,365.7L601.25,365.72L601.5,365.74L601.75,365.76L602,365.77L602.25,365.78L602.5,365.79L602.75,365.79L603,365.79L603.25,365.79L603.5,365.79L603.75,365.78L604,365.77L604.25,365.76L604.5,365.74L604.75,365.72L605,365.7L605.25,365.68L605.5,365.65L605.75,365.62L606,365.59L606.25,365.56L606.5,365.52L606.75,365.49L607,365.45L607.25,365.41L607.5,365.37L607.75,365.33L608,365.29L608.25,365.25L608.5,365.2L608.75,365.16L609,365.11L609.25,365.06L609.5,365.01L609.75,364.96L610,364.91L610.25,364.86L610.5,364.79L610.75,364.72L611,364.65L611.25,364.56L611.5,364.47L611.75,364.37L612,364.26L612.25,364.15L612.5,364.03L612.75,363.91L613,363.78L613.25,363.65L613.5,363.52L613.75,363.38L614,363.24L614.25,363.1L614.5,362.95L614.75,362.81L615,362.66L615.25,362.51L615.5,362.37L615.75,362.22L616,362.07L616.25,361.93L616.5,361.78L616.75,361.63L617,361.49L617.25,361.34L617.5,361.2L617.75,361.05L618,360.91L618.25,360.76L618.5,360.6L618.75,360.44L619,360.26L619.25,360.07L619.5,359.87L619.75,359.65L620,359.42L620.25,359.17L620.5,358.9L620.75,358.61L621,358.3L621.25,357.96L621.5,357.61L621.75,357.22L622,356.82L622.25,356.38L622.5,355.92L622.75,355.42L623,354.9L623.25,354.34L623.5,353.75L623.75,353.13L624,352.48L624.25,351.8L624.5,351.1L624.75,350.38L625,349.65L625.25,348.91L625.5,348.16L625.75,347.39L626,346.61L626.25,345.8L626.5,344.97L626.75,344.11L627,343.22L627.25,342.3L627.5,341.34L627.75,340.35L628,339.32L628.25,338.25L628.5,337.14L628.75,335.99L629,334.8L629.25,333.56L629.5,332.28L629.75,330.96L630,329.6L630.25,328.2L630.5,326.78L630.75,325.34L631,323.88L631.25,322.43L631.5,320.97L631.75,319.52L632,318.07L632.25,316.63L632.5,315.21L632.75,313.81L633,312.42L633.25,311.06L633.5,309.73L633.75,308.41L634,307.13L634.25,305.87L634.5,304.62L634.75,303.39L635,302.17L635.25,300.97L635.5,299.8L635.75,298.67L636,297.6L636.25,296.61L636.5,295.71L636.75,294.91L637,294.24L637.25,293.7L637.5,293.31L637.75,293.05L638,292.92L638.25,292.91L638.5,293.01L638.75,293.18L639,293.43L639.25,293.74L639.5,294.11L639.75,294.52L640,294.98L640.25,295.48L640.5,296.03L640.75,296.63L641,297.28L641.25,297.97L641.5,298.67L641.75,299.34L642,299.94L642.25,300.42L642.5,300.75L642.75,300.92L643,300.91L643.25,300.73L643.5,300.39L643.75,299.91L644,299.3L644.25,298.55L644.5,297.68L644.75,296.69L645,295.57L645.25,294.32L645.5,292.91L645.75,291.37L646,289.74L646.25,288.08L646.5,286.5L646.75,285.12L647,284.04L647.25,283.37L647.5,283.19L647.75,283.54L648,284.44L648.25,285.86L648.5,287.74L648.75,290.03L649,292.69L649.25,295.66L649.5,298.92L649.75,302.38L650,305.96L650.25,309.55L650.5,313.07L650.75,316.49L651,319.79L651.25,323.01L651.5,326.14L651.75,329.18L652,332.11L652.25,334.91L652.5,337.53L652.75,339.96L653,342.17L653.25,344.19L653.5,346.06L653.75,347.85L654,349.6L654.25,351.33L654.5,353L654.75,354.6L655,356.09L655.25,357.44L655.5,358.65L655.75,359.73L656,360.67L656.25,361.49L656.5,362.2L656.75,362.81L657,363.32L657.25,363.76L657.5,364.13L657.75,364.44L658,364.7L658.25,364.91L658.5,365.09L658.75,365.23L659,365.35L659.25,365.45L659.5,365.53L659.75,365.59L660,365.65L660.25,365.7L660.5,365.74L660.75,365.79L661,365.83L661.25,365.88L661.5,365.94L661.75,366L662,366.06L662.25,366.13L662.5,366.2L662.75,366.27L663,366.35L663.25,366.43L663.5,366.51L663.75,366.59L664,366.67L664.25,366.76L664.5,366.84L664.75,366.93L665,367.02L665.25,367.11L665.5,367.19L665.75,367.28L666,367.37L666.25,367.45L666.5,367.54L666.75,367.62L667,367.7L667.25,367.78L667.5,367.85L667.75,367.93L668,368L668.25,368.07L668.5,368.13L668.75,368.2L669,368.27L669.25,368.33L669.5,368.4L669.75,368.47L670,368.54L670.25,368.6L670.5,368.67L670.75,368.74L671,368.81L671.25,368.88L671.5,368.95L671.75,369.02L672,369.09L672.25,369.16L672.5,369.23L672.75,369.3L673,369.37L673.25,369.44L673.5,369.52L673.75,369.59L674,369.66L674.25,369.74L674.5,369.81L674.75,369.88L675,369.96L675.25,370.04L675.5,370.11L675.75,370.19L676,370.27L676.25,370.34L676.5,370.42L676.75,370.5L677,370.58L677.25,370.65L677.5,370.71L677.75,370.76" fill="none" stroke="#000" stroke-width="1.65" stroke-linejoin="round"/>
<path d="M533.00,366.4H638.15" fill="none" stroke="#8b1a9b" stroke-width="1.15"/>
<path d="M637.85,366.4H659.40" fill="none" stroke="#1414ff" stroke-width="1.15"/>
<path d="M659.10,366.4H672.00" fill="none" stroke="#8b1a9b" stroke-width="1.15"/>
<path d="M557,366.27L557.25,366.25L557.5,366.22L557.75,366.2L558,366.16L558.25,366.12L558.5,366.08L558.75,366.03L559,365.97L559.25,365.91L559.5,365.83L559.75,365.75L560,365.66L560.25,365.55L560.5,365.43L560.75,365.3L561,365.15L561.25,364.99L561.5,364.81L561.75,364.6L562,364.38L562.25,364.13L562.5,363.86L562.75,363.56L563,363.23L563.25,362.87L563.5,362.48L563.75,362.06L564,361.6L564.25,361.11L564.5,360.57L564.75,360L565,359.38L565.25,358.72L565.5,358.02L565.75,357.27L566,356.47L566.25,355.63L566.5,354.75L566.75,353.82L567,352.84L567.25,351.82L567.5,350.75L567.75,349.64L568,348.5L568.25,347.31L568.5,346.09L568.75,344.84L569,343.56L569.25,342.26L569.5,340.93L569.75,339.6L570,338.25L570.25,336.89L570.5,335.54L570.75,334.2L571,332.87L571.25,331.56L571.5,330.27L571.75,329.02L572,327.8L572.25,326.64L572.5,325.52L572.75,324.47L573,323.48L573.25,322.55L573.5,321.71L573.75,320.95L574,320.27L574.25,319.68L574.5,319.19L574.75,318.79L575,318.5L575.25,318.3L575.5,318.21L575.75,318.22L576,318.33L576.25,318.55L576.5,318.86L576.75,319.28L577,319.79L577.25,320.4L577.5,321.09L577.75,321.87L578,322.73L578.25,323.67L578.5,324.67L578.75,325.74L579,326.87L579.25,328.04L579.5,329.27L579.75,330.52L580,331.82L580.25,333.13L580.5,334.47L580.75,335.81L581,337.17L581.25,338.52L581.5,339.86L581.75,341.2L582,342.52L582.25,343.82L582.5,345.09L582.75,346.34L583,347.55L583.25,348.73L583.5,349.87L583.75,350.97L584,352.03L584.25,353.04L584.5,354.01L584.75,354.93L585,355.81L585.25,356.64L585.5,357.42L585.75,358.16L586,358.86L586.25,359.51L586.5,360.12L586.75,360.68L587,361.21L587.25,361.7L587.5,362.15L587.75,362.57L588,362.95L588.25,363.3L588.5,363.62L588.75,363.91L589,364.18L589.25,364.43L589.5,364.65L589.75,364.84L590,365.02L590.25,365.18L590.5,365.33L590.75,365.46L591,365.57L591.25,365.68L591.5,365.77L591.75,365.85L592,365.92L592.25,365.98L592.5,366.04L592.75,366.09L593,366.13L593.25,366.17L593.5,366.2L593.75,366.23L594,366.25L594.25,366.28" fill="none" stroke="#ff2a1a" stroke-width="1.15" stroke-linejoin="round"/>
<path d="M574.75,366.31L575,366.29L575.25,366.25L575.5,366.2L575.75,366.14L576,366.07L576.25,365.98L576.5,365.86L576.75,365.72L577,365.54L577.25,365.32L577.5,365.06L577.75,364.75L578,364.38L578.25,363.94L578.5,363.42L578.75,362.82L579,362.12L579.25,361.33L579.5,360.42L579.75,359.39L580,358.25L580.25,356.98L580.5,355.58L580.75,354.05L581,352.4L581.25,350.63L581.5,348.75L581.75,346.77L582,344.72L582.25,342.61L582.5,340.46L582.75,338.3L583,336.15L583.25,334.06L583.5,332.04L583.75,330.13L584,328.37L584.25,326.78L584.5,325.39L584.75,324.23L585,323.31L585.25,322.66L585.5,322.29L585.75,322.21L586,322.41L586.25,322.89L586.5,323.65L586.75,324.66L587,325.92L587.25,327.39L587.5,329.06L587.75,330.88L588,332.83L588.25,334.89L588.5,337.01L588.75,339.16L589,341.32L589.25,343.46L589.5,345.55L589.75,347.57L590,349.51L590.25,351.35L590.5,353.07L590.75,354.67L591,356.15L591.25,357.5L591.5,358.72L591.75,359.82L592,360.79L592.25,361.66L592.5,362.41L592.75,363.07L593,363.64L593.25,364.12L593.5,364.53L593.75,364.88L594,365.17L594.25,365.41L594.5,365.61L594.75,365.78L595,365.91L595.25,366.02L595.5,366.1L595.75,366.17L596,366.22L596.25,366.26L596.5,366.3" fill="none" stroke="#1414ff" stroke-width="1.15" stroke-linejoin="round"/>
<path d="M613.5,366.28L613.75,366.27L614,366.25L614.25,366.23L614.5,366.21L614.75,366.18L615,366.15L615.25,366.12L615.5,366.08L615.75,366.04L616,365.99L616.25,365.94L616.5,365.89L616.75,365.82L617,365.75L617.25,365.68L617.5,365.59L617.75,365.5L618,365.4L618.25,365.28L618.5,365.16L618.75,365.02L619,364.87L619.25,364.71L619.5,364.53L619.75,364.34L620,364.13L620.25,363.9L620.5,363.65L620.75,363.38L621,363.09L621.25,362.78L621.5,362.44L621.75,362.07L622,361.68L622.25,361.26L622.5,360.81L622.75,360.33L623,359.82L623.25,359.27L623.5,358.69L623.75,358.07L624,357.41L624.25,356.72L624.5,355.98L624.75,355.21L625,354.39L625.25,353.53L625.5,352.63L625.75,351.69L626,350.7L626.25,349.67L626.5,348.59L626.75,347.47L627,346.31L627.25,345.1L627.5,343.86L627.75,342.57L628,341.24L628.25,339.88L628.5,338.48L628.75,337.04L629,335.57L629.25,334.07L629.5,332.55L629.75,331L630,329.43L630.25,327.84L630.5,326.24L630.75,324.63L631,323.01L631.25,321.39L631.5,319.78L631.75,318.17L632,316.57L632.25,314.99L632.5,313.43L632.75,311.9L633,310.4L633.25,308.94L633.5,307.51L633.75,306.14L634,304.81L634.25,303.54L634.5,302.33L634.75,301.19L635,300.11L635.25,299.11L635.5,298.18L635.75,297.34L636,296.58L636.25,295.91L636.5,295.32L636.75,294.83L637,294.43L637.25,294.13L637.5,293.93L637.75,293.82L638,293.81L638.25,293.87L638.5,294.01L638.75,294.23L639,294.52L639.25,294.88L639.5,295.31L639.75,295.81L640,296.38L640.25,297.02L640.5,297.72L640.75,298.49L641,299.31L641.25,300.2L641.5,301.13L641.75,302.13L642,303.17L642.25,304.26L642.5,305.39L642.75,306.56L643,307.77L643.25,309.02L643.5,310.29L643.75,311.6L644,312.93L644.25,314.28L644.5,315.65L644.75,317.03L645,318.42L645.25,319.83L645.5,321.24L645.75,322.65L646,324.06L646.25,325.47L646.5,326.87L646.75,328.26L647,329.64L647.25,331.01L647.5,332.36L647.75,333.69L648,335.01L648.25,336.3L648.5,337.57L648.75,338.81L649,340.03L649.25,341.21L649.5,342.37L649.75,343.5L650,344.6L650.25,345.67L650.5,346.71L650.75,347.71L651,348.68L651.25,349.62L651.5,350.52L651.75,351.39L652,352.23L652.25,353.04L652.5,353.81L652.75,354.55L653,355.25L653.25,355.93L653.5,356.57L653.75,357.19L654,357.77L654.25,358.33L654.5,358.86L654.75,359.36L655,359.83L655.25,360.28L655.5,360.71L655.75,361.11L656,361.48L656.25,361.84L656.5,362.17L656.75,362.48L657,362.78L657.25,363.05L657.5,363.31L657.75,363.55L658,363.78L658.25,363.99L658.5,364.18L658.75,364.36L659,364.53L659.25,364.69L659.5,364.83L659.75,364.96L660,365.09L660.25,365.2L660.5,365.31L660.75,365.41L661,365.5L661.25,365.58L661.5,365.65L661.75,365.72L662,365.79L662.25,365.84L662.5,365.9L662.75,365.95L663,365.99L663.25,366.03L663.5,366.07L663.75,366.1L664,366.13L664.25,366.16L664.5,366.18L664.75,366.21L665,366.23L665.25,366.24L665.5,366.26L665.75,366.28" fill="none" stroke="#1d8a1d" stroke-width="1.15" stroke-linejoin="round"/>
<path d="M637.5,366.3L637.75,366.27L638,366.23L638.25,366.17L638.5,366.1L638.75,366.02L639,365.91L639.25,365.77L639.5,365.61L639.75,365.4L640,365.15L640.25,364.84L640.5,364.48L640.75,364.04L641,363.52L641.25,362.91L641.5,362.2L641.75,361.38L642,360.44L642.25,359.36L642.5,358.15L642.75,356.79L643,355.27L643.25,353.6L643.5,351.78L643.75,349.8L644,347.68L644.25,345.42L644.5,343.04L644.75,340.56L645,338.01L645.25,335.4L645.5,332.78L645.75,330.17L646,327.61L646.25,325.13L646.5,322.79L646.75,320.61L647,318.63L647.25,316.89L647.5,315.42L647.75,314.25L648,313.39L648.25,312.87L648.5,312.7L648.75,312.87L649,313.39L649.25,314.25L649.5,315.42L649.75,316.89L650,318.63L650.25,320.61L650.5,322.79L650.75,325.13L651,327.61L651.25,330.17L651.5,332.78L651.75,335.4L652,338.01L652.25,340.56L652.5,343.04L652.75,345.42L653,347.68L653.25,349.8L653.5,351.78L653.75,353.6L654,355.27L654.25,356.79L654.5,358.15L654.75,359.36L655,360.44L655.25,361.38L655.5,362.2L655.75,362.91L656,363.52L656.25,364.04L656.5,364.48L656.75,364.84L657,365.15L657.25,365.4L657.5,365.61L657.75,365.77L658,365.91L658.25,366.02L658.5,366.1L658.75,366.17L659,366.23L659.25,366.27L659.5,366.3" fill="none" stroke="#8b1a9b" stroke-width="1.15" stroke-linejoin="round"/>
<path d="M584.9,13.1V373.4" stroke="#ff1a1a" stroke-width="1.1" stroke-dasharray="2.6,1" fill="none"/>
<path d="M647.6,13.1V373.4" stroke="#ff1a1a" stroke-width="1.1" stroke-dasharray="2.6,1" fill="none"/>
<rect x="530.4" y="13.1" width="147.8" height="360.3" fill="none" stroke="#000" stroke-width="1.4"/>
<path d="M530.4,131.6H678.2M530.4,251.4H678.2" stroke="#000" stroke-width="1.2" fill="none"/>
<path d="M567.4,373.4v-2.2M604.3,373.4v-2.2M641.2,373.4v-2.2M548.9,373.4v-1.4M585.8,373.4v-1.4M622.8,373.4v-1.4M659.7,373.4v-1.4" stroke="#000" stroke-width="0.9" fill="none"/>
<text x="529.9" y="383.1" font-size="7.6" text-anchor="middle" font-family="Liberation Serif, serif" font-weight="bold">500</text>
<text x="566.9" y="383.1" font-size="7.6" text-anchor="middle" font-family="Liberation Serif, serif" font-weight="bold">495</text>
<text x="603.8" y="383.1" font-size="7.6" text-anchor="middle" font-family="Liberation Serif, serif" font-weight="bold">490</text>
<text x="640.8" y="383.1" font-size="7.6" text-anchor="middle" font-family="Liberation Serif, serif" font-weight="bold">485</text>
<text x="677.7" y="383.1" font-size="7.6" text-anchor="middle" font-family="Liberation Serif, serif" font-weight="bold">480</text>
<text x="604" y="391.8" font-size="7.8" text-anchor="middle" font-family="Liberation Serif, serif" font-weight="bold">Binding Energy (eV)</text>
<text transform="translate(520.2,188.4) rotate(-90)" font-size="13.7" text-anchor="middle" font-family="Liberation Serif, serif" font-weight="bold">Intensity (au)</text>
<text x="531.6" y="10" font-size="12" font-family="Liberation Sans, sans-serif" font-weight="bold">c)</text>
<path d="M533.3,21.3H554.3" stroke="#000" stroke-width="1.7" fill="none"/>
<text x="557.3" y="24.4" font-size="9.0" font-family="Liberation Serif, serif" font-weight="bold">x = 0.3</text>
<path d="M533.3,34.5H554.3" stroke="#1414ff" stroke-width="1.05" fill="none"/>
<text x="557.3" y="37.3" font-size="9.0" font-family="Liberation Serif, serif" font-weight="bold">Sn<tspan class="s" font-size="6.1" dy="-3.6">+2</tspan></text>
<path d="M533.3,47.4H554.3" stroke="#8b1a9b" stroke-width="1.05" fill="none"/>
<text x="557.3" y="50.2" font-size="9.0" font-family="Liberation Serif, serif" font-weight="bold">Sn<tspan class="s" font-size="6.1" dy="-3.6">+2</tspan></text>
<path d="M532.3,139.3H552" stroke="#000" stroke-width="1.7" fill="none"/>
<text x="554.3" y="142.3" font-size="8.5" font-family="Liberation Serif, serif" font-weight="bold">x = 0.2</text>
<path d="M532.3,151.4H552" stroke="#ff2a1a" stroke-width="1.05" fill="none"/>
<text x="554.3" y="154.5" font-size="8.5" font-family="Liberation Serif, serif" font-weight="bold">Sn<tspan class="s" font-size="5.8" dy="-3.4">+4</tspan></text>
<path d="M532.3,163.6H552" stroke="#1414ff" stroke-width="1.05" fill="none"/>
<text x="554.3" y="166.7" font-size="8.5" font-family="Liberation Serif, serif" font-weight="bold">Sn<tspan class="s" font-size="5.8" dy="-3.4">+2</tspan></text>
<path d="M532.3,176.0H552" stroke="#1d8a1d" stroke-width="1.05" fill="none"/>
<text x="554.3" y="179.0" font-size="8.5" font-family="Liberation Serif, serif" font-weight="bold">Sn<tspan class="s" font-size="5.8" dy="-3.4">+4</tspan></text>
<path d="M532.3,188.2H552" stroke="#8b1a9b" stroke-width="1.05" fill="none"/>
<text x="554.3" y="191.2" font-size="8.5" font-family="Liberation Serif, serif" font-weight="bold">Sn<tspan class="s" font-size="5.8" dy="-3.4">+2</tspan></text>
<path d="M531.8,258.5H549.7" stroke="#000" stroke-width="1.9" fill="none"/>
<text x="551.6" y="261.1" font-size="7.6" font-family="Liberation Serif, serif" font-weight="bold">x = 0</text>
<path d="M531.8,269.5H549.7" stroke="#ff2a1a" stroke-width="1.05" fill="none"/>
<text x="551.6" y="272.2" font-size="7.6" font-family="Liberation Serif, serif" font-weight="bold">Sn<tspan class="s" font-size="5.2" dy="-3.0">+4</tspan></text>
<path d="M531.8,280.1H549.7" stroke="#1414ff" stroke-width="1.05" fill="none"/>
<text x="551.6" y="282.9" font-size="7.6" font-family="Liberation Serif, serif" font-weight="bold">Sn<tspan class="s" font-size="5.2" dy="-3.0">+2</tspan></text>
<path d="M531.8,290.7H549.7" stroke="#1d8a1d" stroke-width="1.05" fill="none"/>
<text x="551.6" y="293.5" font-size="7.6" font-family="Liberation Serif, serif" font-weight="bold">Sn<tspan class="s" font-size="5.2" dy="-3.0">+4</tspan></text>
<path d="M531.8,301.3H549.7" stroke="#8b1a9b" stroke-width="1.05" fill="none"/>
<text x="551.6" y="304.1" font-size="7.6" font-family="Liberation Serif, serif" font-weight="bold">Sn<tspan class="s" font-size="5.2" dy="-3.0">+2</tspan></text>
<text x="648.6" y="22.9" font-size="8.8" font-family="Liberation Serif, serif" font-weight="bold">Sn 3d<tspan class="s" font-size="6.2" dy="2.4">5/2</tspan></text>
<text x="593.7" y="53.7" font-size="11.4" font-family="Liberation Serif, serif" font-weight="bold">Sn 3d<tspan class="s" font-size="8.0" dy="3.1">3/2</tspan></text>
<text x="593.8" y="85.0" font-size="10.3" font-family="Liberation Serif, serif" font-weight="bold">Sn<tspan class="s" font-size="7.0" dy="-4.1">+2</tspan></text>
<text x="657.1" y="78.9" font-size="10.0" font-family="Liberation Serif, serif" font-weight="bold">Sn<tspan class="s" font-size="6.8" dy="-4.0">+2</tspan></text>
<text x="649.2" y="154.4" font-size="8.6" font-family="Liberation Serif, serif" font-weight="bold">Sn 3d<tspan class="s" font-size="6.0" dy="2.3">5/2</tspan></text>
<text x="592.5" y="182.9" font-size="9.2" font-family="Liberation Serif, serif" font-weight="bold">Sn 3d<tspan class="s" font-size="6.4" dy="2.5">3/2</tspan></text>
<text x="553.9" y="228.0" font-size="9.2" font-family="Liberation Serif, serif" font-weight="bold">Sn<tspan class="s" font-size="6.3" dy="-3.7">+4</tspan></text>
<text x="592.4" y="206.4" font-size="9.2" font-family="Liberation Serif, serif" font-weight="bold">Sn<tspan class="s" font-size="6.3" dy="-3.7">+2</tspan></text>
<text x="615.3" y="226.7" font-size="9.0" font-family="Liberation Serif, serif" font-weight="bold">Sn<tspan class="s" font-size="6.1" dy="-3.6">+4</tspan></text>
<text x="657.0" y="207.7" font-size="8.6" font-family="Liberation Serif, serif" font-weight="bold">Sn<tspan class="s" font-size="5.8" dy="-3.4">+2</tspan></text>
<text x="648.3" y="269.5" font-size="8.2" font-family="Liberation Serif, serif" font-weight="bold">Sn 3d<tspan class="s" font-size="5.7" dy="2.2">5/2</tspan></text>
<text x="588.9" y="305.9" font-size="8.1" font-family="Liberation Serif, serif" font-weight="bold">Sn 3d<tspan class="s" font-size="5.7" dy="2.2">3/2</tspan></text>
<text x="548.6" y="342.6" font-size="9.6" font-family="Liberation Serif, serif" font-weight="bold">Sn<tspan class="s" font-size="6.5" dy="-3.8">+4</tspan></text>
<text x="590.3" y="341.2" font-size="9.0" font-family="Liberation Serif, serif" font-weight="bold">Sn<tspan class="s" font-size="6.1" dy="-3.6">+2</tspan></text>
<text x="615.2" y="320.3" font-size="9.0" font-family="Liberation Serif, serif" font-weight="bold">Sn<tspan class="s" font-size="6.1" dy="-3.6">+4</tspan></text>
<text x="655.1" y="315.2" font-size="8.8" font-family="Liberation Serif, serif" font-weight="bold">Sn<tspan class="s" font-size="6.0" dy="-3.5">+2</tspan></text>
</g>
</svg>
</body></html>
